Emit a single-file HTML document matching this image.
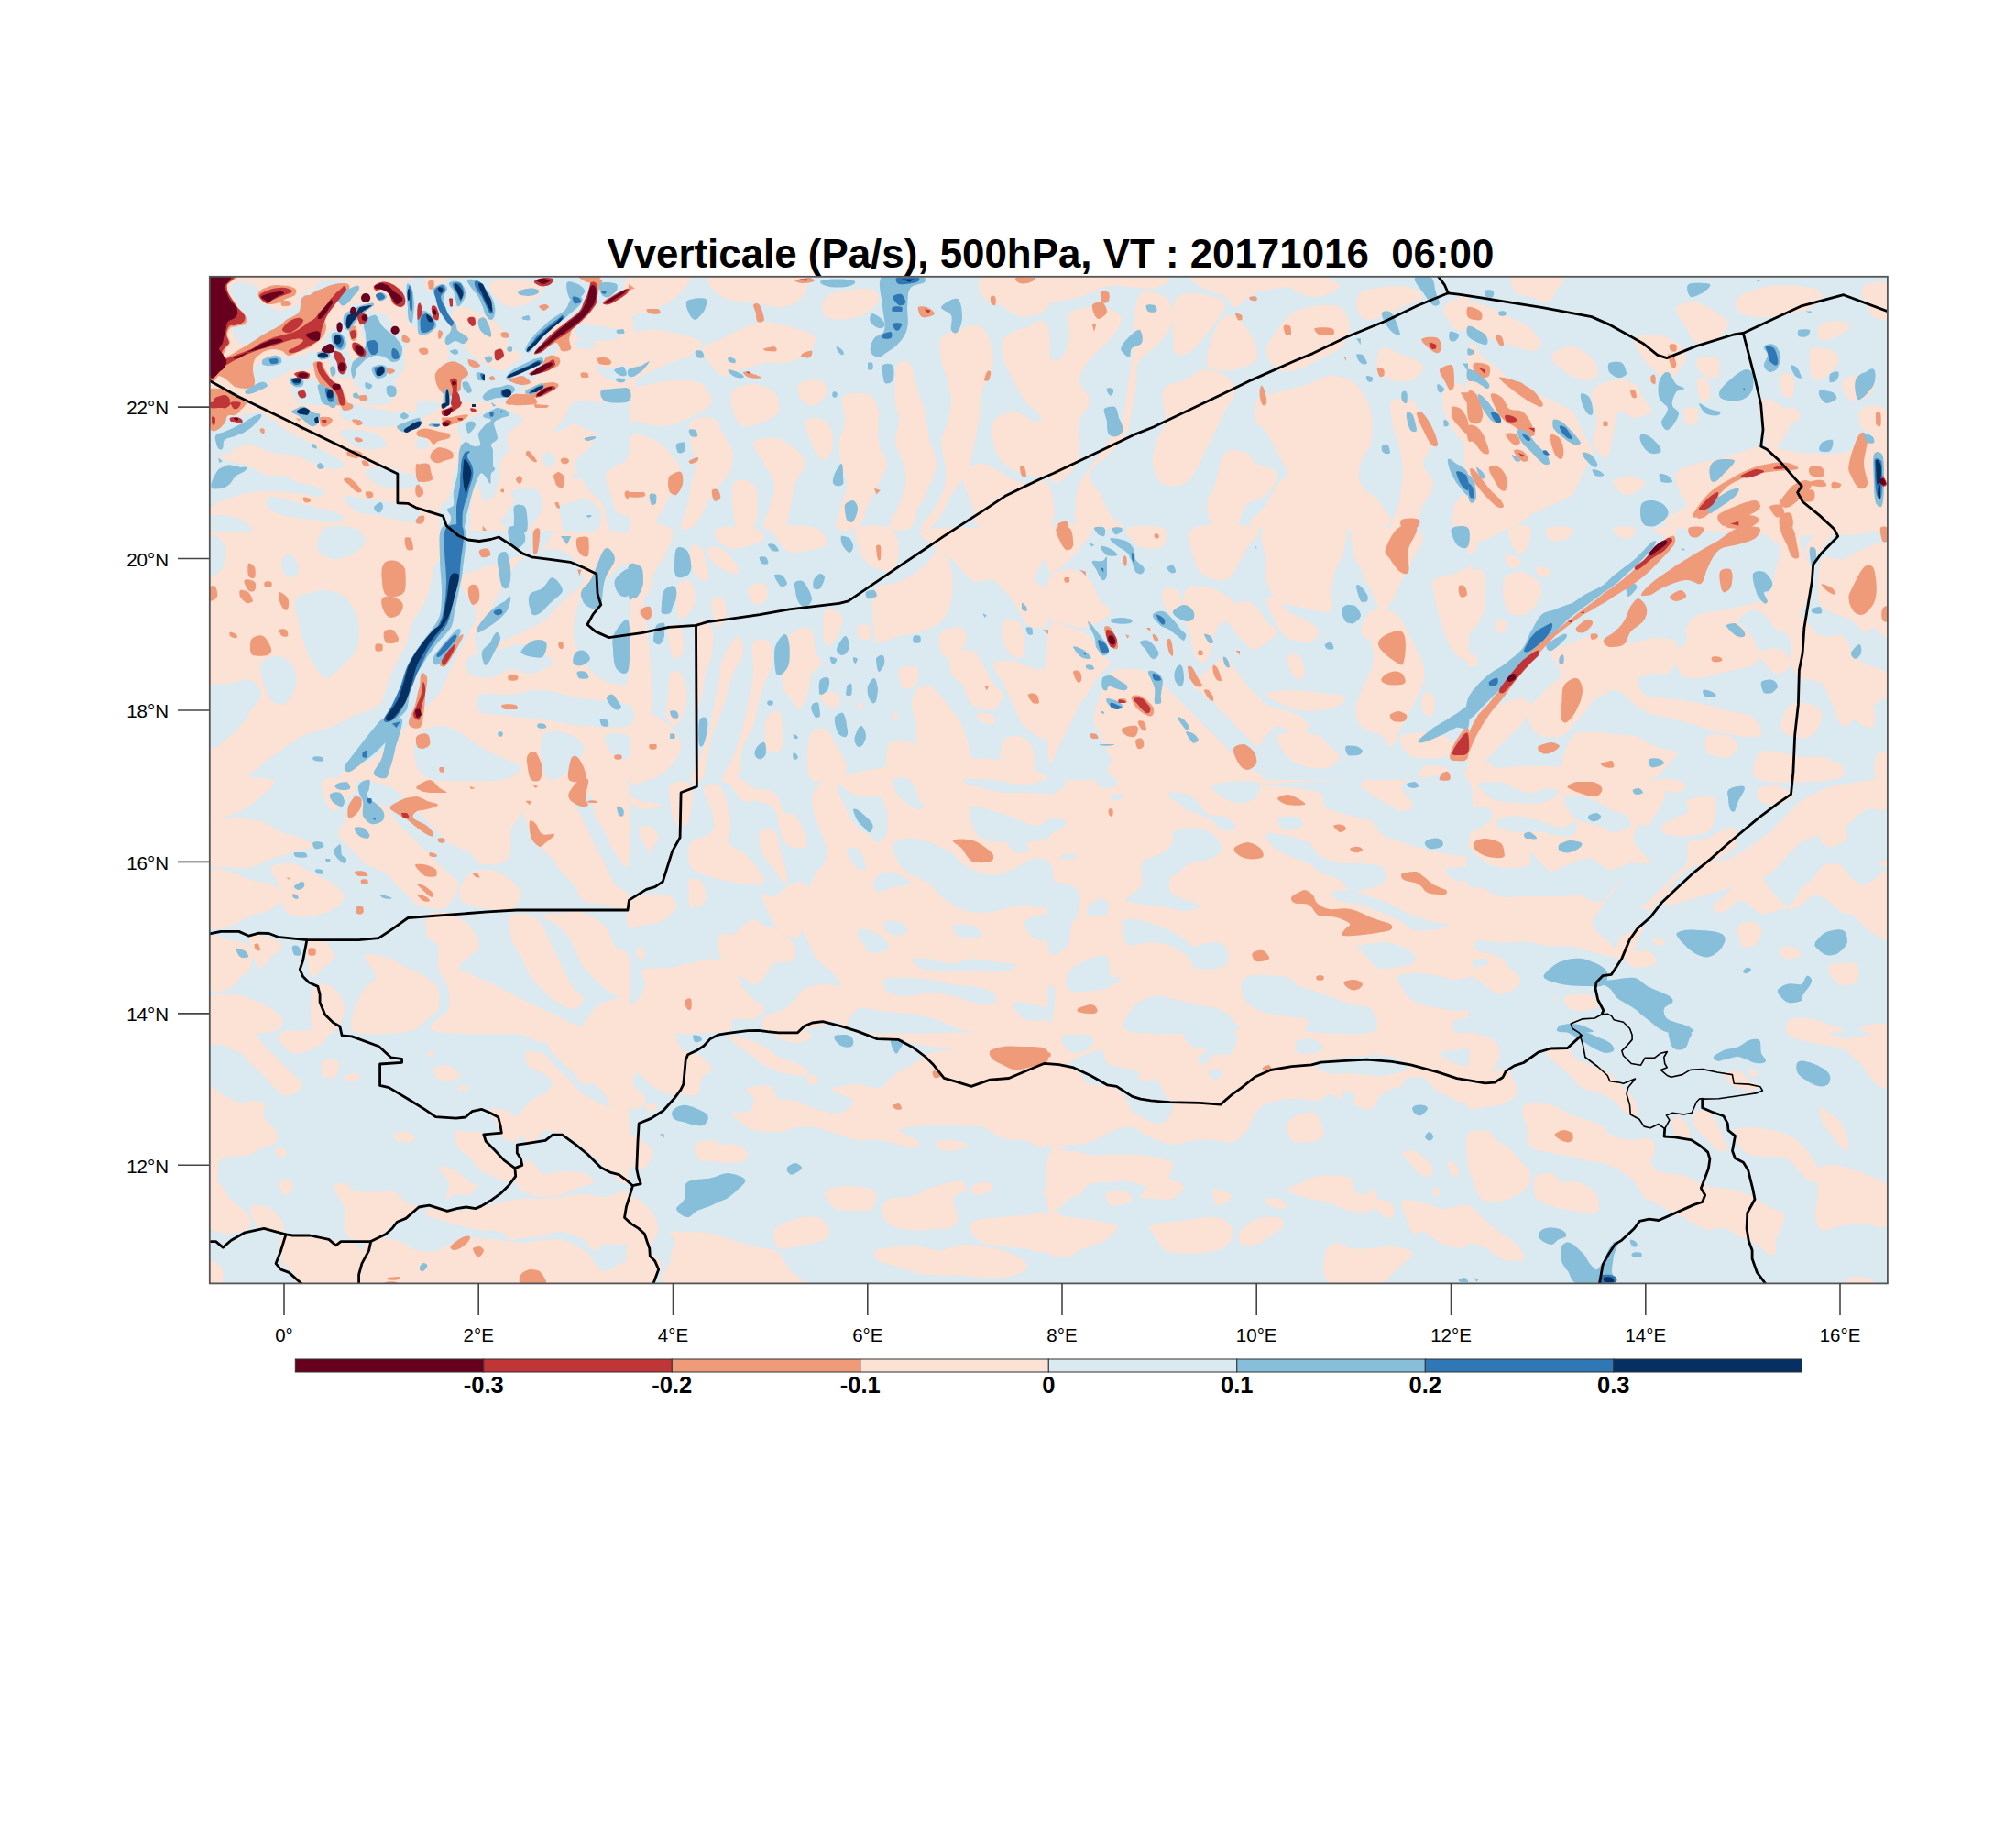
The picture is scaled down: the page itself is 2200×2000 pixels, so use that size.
<!DOCTYPE html>
<html><head><meta charset="utf-8"><style>
html,body{margin:0;padding:0;background:#fff;width:2200px;height:2000px;overflow:hidden}
svg{display:block}
</style></head><body>
<svg width="2200" height="2000" viewBox="0 0 2200 2000">
<rect width="2200" height="2000" fill="#fff"/>
<defs><clipPath id="mc"><rect x="228" y="302" width="1832" height="1098"/></clipPath></defs>
<g clip-path="url(#mc)">
<rect x="228" y="302" width="1832" height="1098" fill="#dbe9f1"/>
<path fill="#fbe2d4" d="M228,576C270,530 442,568 482,576C523,584 476,608 473,621C470,635 468,646 464,656C460,665 454,671 451,678C447,686 447,693 444,701C441,709 436,716 432,724C429,731 426,739 423,746C420,754 420,763 414,769C408,775 395,777 387,780C379,784 374,788 364,792C355,796 342,798 330,803C319,809 308,818 296,826C285,834 273,847 262,851C251,855 234,897 228,851C222,805 186,622 228,576Z"/>
<path fill="#fbe2d4" d="M501,633C501,625 514,625 523,621C533,618 546,614 557,610C569,606 582,604 592,599C601,593 598,580 614,576C630,572 674,530 686,576C698,622 736,805 686,851C636,897 433,855 387,851C341,847 402,834 410,826C417,818 425,811 432,803C440,796 448,788 455,780C463,773 472,765 478,758C484,750 486,743 489,735C493,727 497,720 501,712C504,705 509,697 512,690C515,682 521,676 519,667C517,657 500,640 501,633Z"/>
<path fill="#fbe2d4" d="M686,301C697,294 740,298 750,301C759,304 748,314 743,319C738,325 728,331 720,335C713,339 703,341 697,342C692,343 688,349 686,342C684,335 675,308 686,301Z"/>
<path fill="#fbe2d4" d="M777,301C790,297 851,298 868,301C885,304 881,314 879,319C877,325 866,333 856,335C847,337 834,332 822,330C811,329 796,329 788,324C781,319 764,305 777,301Z"/>
<path fill="#fbe2d4" d="M902,324C909,318 938,314 947,315C957,315 960,323 959,328C957,334 945,343 936,346C926,349 907,350 902,346C896,343 894,329 902,324Z"/>
<path fill="#fbe2d4" d="M686,369C690,361 699,361 709,360C718,359 733,362 743,365C752,367 764,370 766,374C767,377 760,384 754,387C749,391 739,393 731,396C724,399 716,403 709,406C701,408 690,416 686,410C682,404 682,378 686,369Z"/>
<path fill="#fbe2d4" d="M766,380C767,376 781,373 788,369C796,365 803,361 811,358C819,355 824,351 834,351C843,351 858,355 868,358C877,361 889,364 890,369C892,374 885,383 879,387C873,392 864,395 856,396C849,398 841,395 834,396C826,398 819,401 811,403C803,405 794,411 788,410C783,409 781,404 777,399C773,394 764,385 766,380Z"/>
<path fill="#fbe2d4" d="M686,428C690,422 699,421 709,419C718,417 733,415 743,415C752,415 760,415 766,419C771,423 777,432 777,437C777,442 771,445 766,449C760,452 750,457 743,460C735,463 728,465 720,465C713,465 703,461 697,460C692,459 688,463 686,458C684,452 682,435 686,428Z"/>
<path fill="#fbe2d4" d="M800,426C803,421 815,419 822,419C830,419 840,423 845,428C850,433 851,443 850,449C848,454 840,457 834,460C827,463 817,466 811,465C805,463 802,455 800,449C798,442 796,431 800,426Z"/>
<path fill="#fbe2d4" d="M872,419C876,415 890,413 895,415C900,416 903,424 902,428C901,433 895,440 890,442C886,443 878,441 875,437C872,434 869,423 872,419Z"/>
<path fill="#fbe2d4" d="M920,433C924,428 941,428 947,430C954,433 957,440 959,449C960,457 957,473 959,483C960,492 968,498 968,506C968,513 962,521 959,528C955,536 951,543 947,551C944,559 942,572 936,576C930,580 916,580 913,576C910,572 916,559 918,551C920,543 924,536 924,528C924,521 919,513 918,506C916,498 915,490 916,483C916,475 922,468 922,460C923,452 916,438 920,433Z"/>
<path fill="#fbe2d4" d="M979,399C982,392 989,393 993,396C996,400 997,410 1000,419C1002,428 1006,438 1009,449C1011,459 1013,473 1015,483C1018,492 1022,498 1022,506C1022,513 1018,521 1015,528C1012,536 1008,543 1004,551C1000,559 998,572 993,576C987,580 972,580 970,576C968,572 978,559 981,551C984,543 987,536 988,528C989,521 988,513 986,506C984,498 978,490 977,483C976,475 981,468 981,460C981,452 977,448 977,437C976,427 976,406 979,399Z"/>
<path fill="#fbe2d4" d="M1027,369C1031,364 1042,360 1050,358C1057,356 1067,352 1072,358C1078,363 1084,381 1084,392C1084,403 1075,415 1072,426C1070,437 1070,449 1068,460C1066,471 1063,485 1061,494C1059,504 1058,509 1054,517C1050,524 1043,532 1038,540C1034,547 1031,556 1027,562C1023,568 1019,574 1015,576C1012,578 1003,580 1004,576C1005,572 1018,559 1022,551C1027,543 1030,536 1031,528C1033,521 1032,513 1031,506C1031,498 1026,490 1027,483C1027,475 1032,468 1034,460C1035,452 1038,445 1038,437C1038,430 1035,422 1034,415C1032,407 1028,399 1027,392C1026,384 1023,375 1027,369Z"/>
<path fill="#fbe2d4" d="M1095,369C1099,364 1110,360 1118,358C1126,356 1140,341 1144,358C1148,375 1146,445 1144,460C1142,475 1136,452 1131,449C1127,445 1122,443 1118,437C1114,432 1110,422 1106,415C1102,407 1097,399 1095,392C1093,384 1091,375 1095,369Z"/>
<path fill="#fbe2d4" d="M1084,460C1087,454 1099,449 1106,449C1114,449 1123,458 1129,460C1135,462 1142,451 1144,460C1146,469 1148,507 1144,517C1140,526 1126,519 1118,517C1110,515 1101,511 1095,506C1089,500 1085,490 1084,483C1082,475 1080,466 1084,460Z"/>
<path fill="#fbe2d4" d="M1072,301C1080,297 1106,300 1118,301C1130,302 1140,300 1144,306C1148,311 1148,328 1144,335C1140,342 1126,346 1118,346C1110,346 1102,339 1095,335C1087,331 1076,329 1072,324C1068,318 1065,305 1072,301Z"/>
<path fill="#fbe2d4" d="M686,483C690,466 701,476 709,478C716,480 726,488 731,494C737,501 743,509 743,517C743,524 735,532 731,540C728,547 724,556 720,562C716,568 714,574 709,576C703,578 690,591 686,576C682,560 682,499 686,483Z"/>
<path fill="#fbe2d4" d="M754,460C758,455 771,454 777,456C783,457 784,465 788,471C792,478 798,487 800,494C801,502 799,509 795,517C791,524 782,532 777,540C772,547 769,556 766,562C762,568 758,574 754,576C750,578 744,580 743,576C742,572 748,559 750,551C752,543 753,536 754,528C756,521 759,513 759,506C759,498 755,490 754,483C753,475 750,465 754,460Z"/>
<path fill="#fbe2d4" d="M822,483C824,478 837,477 845,478C853,479 862,485 868,490C873,494 879,499 879,506C879,512 870,521 868,528C865,536 865,543 863,551C861,559 861,572 856,576C851,580 836,580 834,576C831,572 839,559 840,551C842,543 846,536 845,528C844,521 837,513 834,506C830,498 820,487 822,483Z"/>
<path fill="#fbe2d4" d="M879,460C881,454 897,456 902,460C907,464 909,476 909,483C909,490 905,499 902,501C899,503 894,501 890,494C887,487 877,466 879,460Z"/>
<path fill="#fbe2d4" d="M800,528C803,520 818,524 822,528C827,532 827,543 827,551C827,559 826,572 822,576C818,580 808,584 804,576C800,568 797,536 800,528Z"/>
<path fill="#fbe2d4" d="M1050,517C1051,509 1065,506 1072,506C1080,506 1087,513 1095,517C1102,521 1110,526 1118,528C1126,530 1140,520 1144,528C1148,536 1156,568 1144,576C1132,584 1086,580 1072,576C1058,572 1065,561 1061,551C1057,541 1048,524 1050,517Z"/>
<path fill="#fbe2d4" d="M1144,301C1165,296 1250,299 1269,301C1288,303 1267,313 1258,315C1248,316 1225,311 1212,312C1199,314 1189,321 1178,324C1167,326 1150,332 1144,328C1138,325 1123,306 1144,301Z"/>
<path fill="#fbe2d4" d="M1167,342C1172,336 1191,334 1201,335C1210,336 1222,341 1224,346C1225,352 1218,362 1212,369C1207,377 1195,384 1189,392C1184,399 1178,407 1178,415C1178,422 1189,430 1189,437C1189,445 1180,451 1178,460C1176,469 1180,485 1178,494C1176,504 1172,513 1167,517C1161,521 1148,536 1144,517C1140,498 1142,424 1144,403C1146,382 1154,398 1158,392C1161,386 1165,378 1167,369C1168,361 1161,348 1167,342Z"/>
<path fill="#fbe2d4" d="M1242,324C1248,312 1265,320 1271,324C1278,327 1281,339 1280,346C1280,354 1273,364 1269,369C1265,375 1262,376 1258,380C1253,385 1245,389 1242,396C1239,404 1241,417 1239,426C1238,435 1236,441 1235,449C1233,456 1234,464 1230,471C1227,479 1219,487 1212,494C1205,502 1191,509 1189,517C1188,524 1197,532 1201,540C1205,547 1208,556 1212,562C1216,568 1229,574 1224,576C1218,578 1186,580 1178,576C1170,572 1174,559 1174,551C1174,543 1174,538 1178,528C1183,519 1193,505 1201,494C1208,483 1219,471 1224,460C1228,449 1228,437 1230,426C1232,415 1233,409 1235,392C1237,375 1236,335 1242,324Z"/>
<path fill="#fbe2d4" d="M1285,324C1292,316 1317,322 1326,324C1334,326 1338,329 1337,335C1336,341 1327,350 1321,358C1316,365 1309,376 1303,380C1297,385 1289,389 1285,387C1281,385 1280,380 1280,369C1280,359 1277,331 1285,324Z"/>
<path fill="#fbe2d4" d="M1303,301C1316,299 1377,299 1394,301C1411,303 1409,309 1405,312C1402,315 1381,315 1371,319C1362,323 1354,334 1348,335C1343,336 1343,327 1337,324C1331,320 1320,318 1314,315C1309,311 1290,303 1303,301Z"/>
<path fill="#fbe2d4" d="M1330,351C1336,343 1342,343 1348,346C1355,349 1363,362 1367,369C1370,377 1374,386 1371,392C1368,398 1356,401 1348,403C1341,405 1331,405 1326,403C1320,401 1316,401 1317,392C1317,383 1325,359 1330,351Z"/>
<path fill="#fbe2d4" d="M1269,426C1272,418 1284,418 1292,415C1299,411 1307,404 1314,403C1322,402 1331,406 1337,410C1343,414 1348,420 1348,426C1348,432 1341,441 1337,449C1333,456 1329,464 1326,471C1322,479 1318,487 1314,494C1311,502 1307,511 1303,517C1299,522 1297,526 1292,528C1286,530 1275,532 1269,528C1263,524 1259,513 1258,506C1256,498 1260,490 1262,483C1264,475 1270,469 1271,460C1272,451 1266,434 1269,426Z"/>
<path fill="#fbe2d4" d="M1337,494C1343,488 1354,492 1360,494C1365,496 1366,502 1371,506C1377,509 1392,511 1394,517C1396,522 1388,534 1382,540C1377,545 1365,545 1360,551C1354,557 1354,572 1348,576C1343,580 1331,580 1326,576C1320,572 1317,559 1317,551C1317,543 1322,538 1326,528C1329,519 1331,500 1337,494Z"/>
<path fill="#fbe2d4" d="M1371,437C1375,432 1384,431 1394,428C1403,425 1419,422 1428,419C1437,416 1443,411 1451,410C1458,409 1468,412 1473,415C1479,417 1481,420 1485,426C1489,432 1494,439 1496,449C1498,458 1498,473 1496,483C1494,492 1487,498 1485,506C1483,513 1481,521 1485,528C1489,536 1504,543 1508,551C1511,559 1530,572 1508,576C1485,580 1392,580 1371,576C1350,572 1379,559 1382,551C1386,543 1390,534 1394,528C1398,523 1405,522 1405,517C1405,511 1398,502 1394,494C1390,487 1386,477 1382,471C1379,466 1373,466 1371,460C1369,454 1367,443 1371,437Z"/>
<path fill="#fbe2d4" d="M1405,346C1413,339 1419,337 1428,335C1437,333 1455,331 1462,335C1470,339 1473,350 1473,358C1473,365 1468,375 1462,380C1456,386 1447,388 1439,392C1432,396 1424,401 1417,403C1409,405 1400,407 1394,403C1388,399 1381,390 1382,380C1384,371 1398,354 1405,346Z"/>
<path fill="#fbe2d4" d="M1394,301C1398,298 1428,299 1439,301C1451,303 1462,309 1462,312C1462,316 1447,323 1439,324C1432,325 1424,323 1417,319C1409,315 1390,304 1394,301Z"/>
<path fill="#fbe2d4" d="M1485,319C1492,314 1519,312 1530,312C1542,313 1553,320 1553,324C1553,327 1538,331 1530,335C1523,339 1515,345 1508,346C1500,348 1489,351 1485,346C1481,342 1477,325 1485,319Z"/>
<path fill="#fbe2d4" d="M1508,380C1512,378 1523,384 1530,387C1538,390 1551,394 1553,399C1555,403 1547,412 1542,415C1536,417 1525,416 1519,415C1512,413 1505,409 1503,403C1501,398 1503,383 1508,380Z"/>
<path fill="#fbe2d4" d="M1519,437C1523,434 1536,434 1542,437C1547,441 1549,452 1553,460C1557,468 1564,475 1564,483C1564,490 1553,498 1553,506C1553,513 1564,521 1564,528C1564,536 1557,543 1553,551C1549,559 1547,572 1542,576C1536,580 1522,580 1519,576C1516,572 1524,559 1526,551C1528,543 1529,536 1530,528C1531,521 1531,513 1530,506C1529,498 1528,490 1526,483C1524,475 1520,468 1519,460C1518,452 1515,441 1519,437Z"/>
<path fill="#fbe2d4" d="M1576,426C1579,421 1589,417 1594,419C1598,421 1601,427 1602,437C1603,448 1604,477 1602,483C1600,488 1591,477 1587,471C1583,466 1578,456 1576,449C1574,441 1573,431 1576,426Z"/>
<path fill="#fbe2d4" d="M1576,335C1578,329 1598,320 1602,324C1606,327 1604,352 1602,358C1600,363 1591,362 1587,358C1583,354 1573,341 1576,335Z"/>
<path fill="#fbe2d4" d="M1587,551C1590,545 1600,535 1602,540C1604,544 1604,570 1602,576C1600,582 1590,580 1587,576C1584,572 1584,557 1587,551Z"/>
<path fill="#fbe2d4" d="M1652,301C1660,298 1697,298 1704,301C1712,304 1700,314 1697,319C1695,324 1693,330 1688,330C1684,331 1676,326 1670,324C1665,322 1657,323 1654,319C1651,315 1644,304 1652,301Z"/>
<path fill="#fbe2d4" d="M1602,330C1606,326 1617,332 1625,335C1632,338 1640,343 1647,346C1655,350 1665,353 1670,358C1676,363 1682,372 1682,376C1682,380 1676,383 1670,383C1665,383 1655,378 1647,376C1640,374 1632,371 1625,369C1617,367 1606,371 1602,365C1598,358 1598,335 1602,330Z"/>
<path fill="#fbe2d4" d="M1602,387C1605,357 1615,389 1620,392C1626,395 1632,399 1636,403C1641,407 1642,411 1647,415C1653,418 1663,422 1670,426C1678,430 1685,434 1693,437C1700,441 1710,443 1716,449C1721,454 1723,464 1727,471C1731,479 1738,487 1738,494C1738,502 1731,509 1727,517C1723,524 1721,534 1716,540C1710,545 1700,547 1693,551C1685,555 1678,558 1670,562C1663,566 1659,574 1647,576C1636,578 1610,607 1602,576C1594,544 1599,418 1602,387Z"/>
<path fill="#fbe2d4" d="M1693,387C1695,383 1708,377 1716,378C1723,379 1734,387 1738,392C1743,397 1745,406 1743,410C1741,414 1733,416 1727,415C1721,413 1710,408 1704,403C1699,399 1691,391 1693,387Z"/>
<path fill="#fbe2d4" d="M1738,426C1742,421 1753,416 1761,415C1769,413 1778,415 1784,419C1789,423 1792,432 1795,437C1798,442 1804,446 1802,449C1800,452 1790,456 1784,456C1778,456 1769,446 1766,449C1762,451 1763,464 1761,471C1759,479 1758,490 1756,494C1755,499 1753,501 1750,499C1747,497 1739,489 1738,483C1737,476 1743,467 1743,460C1743,453 1739,448 1738,442C1738,436 1735,431 1738,426Z"/>
<path fill="#fbe2d4" d="M1784,369C1786,365 1799,364 1806,365C1814,365 1824,370 1829,374C1835,377 1840,382 1840,387C1840,393 1834,404 1829,408C1825,412 1818,412 1813,410C1808,408 1803,402 1800,399C1796,395 1793,392 1791,387C1788,382 1781,373 1784,369Z"/>
<path fill="#fbe2d4" d="M1829,335C1831,331 1844,329 1852,330C1859,332 1869,338 1875,342C1880,346 1886,349 1886,353C1886,358 1880,366 1875,369C1869,373 1858,376 1852,374C1846,372 1844,364 1840,358C1837,351 1827,340 1829,335Z"/>
<path fill="#fbe2d4" d="M1897,324C1903,319 1920,314 1931,312C1943,311 1956,311 1966,312C1975,314 1986,315 1988,319C1990,323 1983,331 1977,335C1971,339 1964,340 1954,342C1945,344 1930,347 1920,346C1911,346 1901,343 1897,340C1894,336 1892,328 1897,324Z"/>
<path fill="#fbe2d4" d="M1988,353C1993,350 2006,350 2011,351C2016,352 2020,355 2018,358C2016,361 2005,367 2000,369C1994,371 1986,372 1984,369C1982,367 1984,356 1988,353Z"/>
<path fill="#fbe2d4" d="M2034,312C2038,309 2056,304 2060,310C2064,316 2062,340 2060,346C2058,352 2049,349 2045,346C2041,343 2036,334 2034,328C2032,323 2029,315 2034,312Z"/>
<path fill="#fbe2d4" d="M1977,380C1981,378 1995,380 2000,383C2005,385 2008,391 2006,396C2004,402 1993,412 1988,415C1983,417 1979,413 1977,410C1975,407 1975,401 1975,396C1975,391 1973,383 1977,380Z"/>
<path fill="#fbe2d4" d="M1943,410C1945,407 1954,406 1956,410C1959,414 1958,429 1956,433C1954,436 1947,434 1945,430C1943,427 1941,413 1943,410Z"/>
<path fill="#fbe2d4" d="M1920,437C1923,432 1937,438 1943,442C1948,446 1954,453 1954,460C1954,467 1947,477 1943,483C1939,488 1934,496 1931,494C1928,492 1926,481 1925,471C1923,462 1917,442 1920,437Z"/>
<path fill="#fbe2d4" d="M1852,392C1855,389 1871,389 1875,392C1878,395 1877,407 1875,410C1872,413 1862,413 1859,410C1855,407 1849,395 1852,392Z"/>
<path fill="#fbe2d4" d="M1852,415C1853,411 1861,412 1863,415C1866,418 1867,429 1866,433C1864,437 1859,440 1856,437C1854,434 1851,418 1852,415Z"/>
<path fill="#fbe2d4" d="M1838,446C1840,444 1850,444 1852,446C1854,449 1854,457 1852,460C1850,463 1843,465 1840,462C1838,460 1836,449 1838,446Z"/>
<path fill="#fbe2d4" d="M1761,524C1764,521 1778,521 1784,521C1789,522 1796,525 1795,528C1794,531 1784,538 1779,540C1774,541 1769,538 1766,535C1763,532 1758,526 1761,524Z"/>
<path fill="#fbe2d4" d="M1829,517C1832,511 1844,508 1852,506C1859,503 1867,503 1875,501C1882,499 1890,496 1897,494C1905,492 1913,488 1920,487C1928,487 1935,488 1943,490C1950,491 1954,493 1966,494C1977,495 2000,496 2011,494C2022,492 2026,486 2034,483C2042,479 2056,456 2060,471C2064,487 2098,558 2060,576C2022,593 1866,580 1829,576C1793,572 1840,557 1840,551C1841,545 1836,545 1834,540C1832,534 1826,522 1829,517Z"/>
<path fill="#fbe2d4" d="M2011,415C2014,411 2028,408 2034,410C2039,412 2046,419 2045,424C2044,428 2034,436 2029,437C2024,439 2019,437 2016,433C2012,429 2008,418 2011,415Z"/>
<path fill="#fbe2d4" d="M2029,449C2031,444 2040,442 2045,442C2050,442 2058,444 2060,449C2062,454 2064,468 2060,471C2056,475 2039,473 2034,469C2029,465 2027,453 2029,449Z"/>
<path fill="#fbe2d4" d="M1947,446C1949,444 1958,444 1961,446C1964,448 1965,456 1963,458C1962,460 1955,462 1952,460C1949,458 1946,449 1947,446Z"/>
<path fill="#fbe2d4" d="M686,576C694,562 724,572 731,576C739,580 732,591 729,599C727,606 719,614 716,621C712,629 711,639 709,644C706,650 703,653 700,656C696,658 688,671 686,658C684,645 678,590 686,576Z"/>
<path fill="#fbe2d4" d="M754,596C756,594 762,595 766,599C769,603 771,616 772,621C773,627 774,631 772,633C770,634 764,634 761,630C758,627 755,620 754,615C753,609 752,599 754,596Z"/>
<path fill="#fbe2d4" d="M772,599C774,596 783,596 788,599C794,602 801,612 804,617C807,621 807,625 804,626C801,627 793,624 788,621C784,619 780,616 777,612C774,609 770,601 772,599Z"/>
<path fill="#fbe2d4" d="M784,576C790,574 814,574 822,576C831,578 834,584 834,587C834,590 828,592 822,594C817,596 806,599 800,599C793,598 786,593 784,590C781,586 777,578 784,576Z"/>
<path fill="#fbe2d4" d="M845,576C851,572 881,573 890,576C900,579 902,590 902,594C902,598 896,597 890,599C885,600 873,603 868,603C862,603 860,603 856,599C853,594 839,580 845,576Z"/>
<path fill="#fbe2d4" d="M936,576C942,573 962,572 970,576C978,580 981,591 981,599C982,606 978,618 974,621C971,625 964,623 959,621C953,620 946,615 943,610C939,606 937,600 936,594C935,589 930,579 936,576Z"/>
<path fill="#fbe2d4" d="M818,640C820,637 830,635 834,637C837,639 839,647 838,651C837,655 830,660 827,660C824,660 819,657 818,653C816,650 815,642 818,640Z"/>
<path fill="#fbe2d4" d="M738,640C741,633 751,632 754,635C758,638 759,649 759,656C758,662 753,668 750,671C747,674 742,679 740,674C739,668 736,646 738,640Z"/>
<path fill="#fbe2d4" d="M686,703C688,691 697,693 700,699C703,704 704,725 704,735C704,745 702,752 700,758C697,763 693,767 690,769C688,771 687,782 686,771C685,760 684,715 686,703Z"/>
<path fill="#fbe2d4" d="M729,685C731,680 740,680 743,685C745,690 747,707 745,712C744,718 736,721 734,717C731,712 728,690 729,685Z"/>
<path fill="#fbe2d4" d="M761,683C764,669 774,680 777,685C780,690 778,704 777,712C776,721 772,727 770,735C768,743 767,752 766,758C764,763 762,782 761,769C760,757 758,697 761,683Z"/>
<path fill="#fbe2d4" d="M777,656C778,652 786,648 788,651C791,654 794,666 793,671C792,677 786,685 784,685C781,685 780,679 779,674C778,669 775,659 777,656Z"/>
<path fill="#fbe2d4" d="M788,721C792,713 800,696 804,694C808,693 812,705 811,712C810,719 803,727 800,735C797,743 795,750 793,758C791,765 789,773 786,780C783,788 779,796 777,803C775,811 774,818 772,826C770,834 769,847 766,851C762,855 755,855 754,851C754,847 760,834 763,826C766,818 770,811 772,803C775,796 775,790 777,780C779,771 782,756 784,746C786,737 785,730 788,721Z"/>
<path fill="#fbe2d4" d="M822,701C825,695 837,697 840,701C844,705 844,716 843,724C842,731 836,739 834,746C831,754 829,762 827,769C825,777 825,784 822,792C820,799 814,805 811,814C808,824 808,845 804,851C800,857 789,855 788,851C787,847 796,836 800,826C803,816 808,803 811,792C814,780 816,767 818,758C820,748 822,744 822,735C823,726 819,707 822,701Z"/>
<path fill="#fbe2d4" d="M856,701C860,691 870,687 875,685C880,683 883,685 886,690C889,694 889,707 890,712C892,718 898,720 897,724C897,727 889,729 886,735C883,741 884,751 881,758C879,764 875,773 872,774C869,774 866,767 863,762C860,758 855,757 854,746C853,736 853,711 856,701Z"/>
<path fill="#fbe2d4" d="M731,735C734,731 740,731 743,735C746,739 749,750 750,758C750,765 747,775 745,780C743,786 739,792 736,792C733,792 728,786 727,780C726,775 728,765 729,758C730,750 729,739 731,735Z"/>
<path fill="#fbe2d4" d="M709,780C716,780 726,786 731,792C737,797 743,807 743,814C743,822 737,831 731,837C726,843 716,849 709,851C701,853 690,861 686,851C682,841 682,804 686,792C690,780 701,780 709,780Z"/>
<path fill="#fbe2d4" d="M836,785C838,779 847,774 850,776C853,777 853,788 854,794C855,801 856,810 854,814C853,819 848,821 845,821C842,821 837,821 836,814C834,808 834,791 836,785Z"/>
<path fill="#fbe2d4" d="M886,799C889,794 897,794 902,796C906,799 909,808 913,814C917,821 924,831 924,837C924,843 920,849 913,851C907,853 891,855 886,851C881,847 881,835 881,826C881,817 882,804 886,799Z"/>
<path fill="#fbe2d4" d="M900,667C902,661 910,665 913,667C917,669 921,673 920,678C919,684 912,697 909,701C905,705 901,707 900,701C898,695 897,673 900,667Z"/>
<path fill="#fbe2d4" d="M936,683C938,681 947,681 950,683C952,685 951,694 950,696C948,699 940,699 938,696C936,694 934,685 936,683Z"/>
<path fill="#fbe2d4" d="M954,644C959,635 973,639 981,635C990,631 998,626 1004,621C1010,617 1012,614 1015,610C1019,606 1023,597 1027,599C1031,601 1036,612 1038,621C1040,631 1040,646 1038,656C1036,665 1032,673 1027,678C1021,684 1012,687 1004,690C997,692 989,692 981,694C974,696 963,702 959,701C954,700 955,699 954,690C953,680 950,653 954,644Z"/>
<path fill="#fbe2d4" d="M1004,583C1002,577 1015,577 1027,576C1038,575 1057,576 1072,576C1087,576 1106,576 1118,576C1130,576 1140,572 1144,576C1148,580 1146,589 1144,599C1142,608 1129,625 1129,633C1129,640 1142,637 1144,644C1146,652 1146,671 1144,678C1142,685 1133,685 1129,685C1125,685 1121,683 1118,678C1114,673 1110,661 1106,656C1102,650 1099,648 1095,644C1091,640 1089,635 1084,633C1078,631 1068,637 1061,633C1053,629 1048,618 1038,610C1029,602 1006,588 1004,583Z"/>
<path fill="#fbe2d4" d="M1027,690C1031,685 1045,683 1050,685C1054,687 1056,696 1054,701C1052,706 1045,715 1040,717C1036,719 1029,717 1027,712C1025,708 1023,694 1027,690Z"/>
<path fill="#fbe2d4" d="M1038,712C1042,708 1055,708 1061,710C1067,712 1068,718 1072,724C1076,730 1080,741 1084,746C1087,752 1095,753 1095,758C1095,762 1089,772 1084,774C1078,776 1067,774 1061,769C1055,765 1053,752 1050,746C1046,741 1040,741 1038,735C1036,729 1034,716 1038,712Z"/>
<path fill="#fbe2d4" d="M1084,724C1086,720 1099,720 1106,721C1114,723 1123,728 1129,730C1135,733 1142,723 1144,735C1146,747 1148,794 1144,803C1140,813 1124,797 1118,792C1111,786 1110,777 1106,769C1102,762 1099,754 1095,746C1091,739 1082,728 1084,724Z"/>
<path fill="#fbe2d4" d="M1095,678C1098,675 1109,675 1113,680C1117,686 1119,706 1118,712C1117,718 1110,719 1106,717C1102,715 1097,707 1095,701C1093,695 1092,682 1095,678Z"/>
<path fill="#fbe2d4" d="M1000,753C1003,750 1009,745 1015,749C1022,752 1032,767 1038,774C1044,781 1046,783 1050,792C1053,800 1059,816 1059,826C1059,836 1059,847 1050,851C1040,855 1012,855 1004,851C996,847 1000,836 1000,826C999,816 1000,801 1000,792C999,782 995,776 995,769C995,763 996,757 1000,753Z"/>
<path fill="#fbe2d4" d="M981,730C984,727 996,726 1000,728C1003,731 1002,743 1000,746C997,750 989,754 986,751C983,748 979,734 981,730Z"/>
<path fill="#fbe2d4" d="M970,812C974,805 987,808 993,810C998,812 1004,819 1004,826C1004,833 998,847 993,851C987,855 974,857 970,851C966,844 966,819 970,812Z"/>
<path fill="#fbe2d4" d="M1095,808C1099,800 1117,803 1122,808C1128,813 1130,830 1129,837C1128,844 1123,849 1118,851C1112,853 1099,858 1095,851C1091,844 1090,815 1095,808Z"/>
<path fill="#fbe2d4" d="M1068,778C1070,777 1081,779 1084,780C1086,782 1086,788 1084,790C1081,791 1073,789 1070,787C1067,785 1065,779 1068,778Z"/>
<path fill="#fbe2d4" d="M895,758C897,755 910,754 913,756C917,757 917,766 916,769C914,772 908,773 904,771C901,770 893,760 895,758Z"/>
<path fill="#fbe2d4" d="M936,767C937,766 940,766 940,767C941,768 941,773 940,774C940,775 937,775 936,774C935,773 935,768 936,767Z"/>
<path fill="#fbe2d4" d="M974,776C975,775 978,777 979,778C980,780 980,784 979,785C978,786 975,787 974,785C974,783 974,777 974,776Z"/>
<path fill="#fbe2d4" d="M1144,576C1152,568 1184,572 1189,576C1195,580 1184,591 1178,599C1172,606 1161,618 1155,621C1150,625 1146,629 1144,621C1142,614 1136,584 1144,576Z"/>
<path fill="#fbe2d4" d="M1144,633C1148,624 1159,621 1167,621C1174,621 1184,627 1189,633C1195,638 1197,650 1201,656C1205,661 1212,663 1212,667C1212,671 1206,675 1201,678C1195,681 1186,685 1178,685C1171,685 1161,680 1155,678C1150,676 1146,679 1144,671C1142,664 1140,641 1144,633Z"/>
<path fill="#fbe2d4" d="M1144,690C1148,666 1159,684 1167,685C1174,686 1184,690 1189,694C1195,699 1197,707 1201,712C1205,717 1212,720 1212,724C1212,727 1205,730 1201,735C1197,740 1193,748 1189,753C1186,759 1182,763 1178,769C1174,776 1170,784 1167,792C1163,799 1159,809 1155,814C1152,820 1146,847 1144,826C1142,805 1140,713 1144,690Z"/>
<path fill="#fbe2d4" d="M1230,576C1235,573 1262,573 1269,576C1276,579 1273,590 1271,594C1269,598 1263,599 1258,599C1252,599 1244,598 1239,594C1235,590 1225,579 1230,576Z"/>
<path fill="#fbe2d4" d="M1303,576C1314,570 1362,572 1371,576C1381,580 1364,591 1360,599C1356,606 1352,616 1348,621C1345,627 1343,632 1337,633C1331,634 1320,632 1314,628C1309,625 1305,619 1303,610C1301,601 1292,582 1303,576Z"/>
<path fill="#fbe2d4" d="M1382,576C1396,570 1448,572 1462,576C1476,580 1467,591 1467,599C1466,606 1460,614 1458,621C1455,629 1454,637 1453,644C1452,652 1457,664 1451,667C1445,670 1426,664 1417,662C1407,660 1400,660 1394,656C1388,651 1384,640 1382,633C1381,625 1382,620 1382,610C1382,601 1369,582 1382,576Z"/>
<path fill="#fbe2d4" d="M1294,644C1298,639 1307,639 1314,640C1322,640 1331,646 1337,649C1343,652 1345,657 1348,658C1352,659 1356,655 1360,656C1364,656 1367,659 1371,662C1375,666 1379,674 1382,678C1386,683 1394,686 1394,690C1394,693 1387,698 1382,701C1378,704 1372,710 1367,708C1361,706 1353,695 1348,690C1344,685 1341,678 1337,678C1333,678 1328,684 1326,690C1323,695 1323,707 1321,712C1319,718 1315,724 1312,724C1309,724 1305,718 1303,712C1301,707 1300,696 1298,690C1297,683 1292,679 1292,671C1291,664 1290,650 1294,644Z"/>
<path fill="#fbe2d4" d="M1382,656C1382,651 1390,651 1394,653C1398,655 1400,663 1405,667C1411,671 1422,674 1428,678C1434,682 1439,686 1439,690C1439,693 1434,700 1428,701C1422,702 1411,699 1405,696C1400,693 1398,690 1394,683C1390,676 1382,660 1382,656Z"/>
<path fill="#fbe2d4" d="M1326,724C1331,719 1333,716 1337,717C1341,718 1345,726 1348,730C1352,735 1356,742 1360,746C1364,751 1367,754 1371,758C1375,761 1377,766 1382,769C1388,772 1400,774 1405,776C1411,778 1413,778 1417,780C1420,783 1428,788 1428,792C1428,796 1422,803 1417,803C1411,803 1400,792 1394,792C1388,792 1386,799 1382,803C1379,807 1375,814 1371,814C1367,814 1364,807 1360,803C1356,799 1352,796 1348,792C1345,788 1341,784 1337,780C1333,777 1329,773 1326,769C1322,765 1318,761 1314,758C1311,754 1301,752 1303,746C1305,741 1320,729 1326,724Z"/>
<path fill="#fbe2d4" d="M1212,735C1219,727 1227,730 1235,730C1242,730 1252,732 1258,735C1263,738 1265,743 1269,746C1273,750 1277,754 1280,758C1284,761 1288,765 1292,769C1295,773 1299,777 1303,780C1307,784 1311,788 1314,792C1318,796 1322,799 1326,803C1329,807 1333,811 1337,814C1341,818 1345,822 1348,826C1352,830 1356,833 1360,837C1364,841 1394,849 1371,851C1348,853 1250,855 1224,851C1197,847 1216,834 1212,826C1208,818 1204,811 1201,803C1198,796 1192,792 1194,780C1196,769 1205,743 1212,735Z"/>
<path fill="#fbe2d4" d="M1269,644C1271,641 1282,641 1285,644C1288,647 1290,658 1289,662C1289,667 1283,671 1280,671C1277,671 1273,667 1271,662C1269,658 1267,647 1269,644Z"/>
<path fill="#fbe2d4" d="M1394,803C1396,799 1409,799 1417,799C1424,799 1434,801 1439,803C1445,806 1447,811 1451,814C1454,818 1462,822 1462,826C1462,830 1456,835 1451,837C1445,839 1436,839 1428,837C1420,835 1411,832 1405,826C1400,820 1392,808 1394,803Z"/>
<path fill="#fbe2d4" d="M1405,717C1406,714 1414,712 1417,715C1420,717 1423,726 1423,730C1424,735 1421,741 1419,742C1417,743 1412,739 1410,735C1408,731 1404,720 1405,717Z"/>
<path fill="#fbe2d4" d="M1382,758C1382,755 1396,754 1405,753C1415,753 1429,754 1439,756C1450,757 1464,757 1467,760C1470,763 1464,769 1458,771C1451,774 1437,776 1428,776C1419,776 1413,774 1405,771C1398,768 1382,761 1382,758Z"/>
<path fill="#fbe2d4" d="M1478,576C1485,572 1508,576 1519,576C1530,576 1536,574 1542,576C1547,578 1553,582 1553,587C1553,593 1545,603 1542,610C1538,618 1534,625 1530,633C1526,640 1523,650 1519,656C1515,661 1511,669 1508,667C1504,665 1500,652 1496,644C1492,637 1488,629 1485,621C1481,614 1477,606 1476,599C1475,591 1471,580 1478,576Z"/>
<path fill="#fbe2d4" d="M1496,667C1502,663 1513,665 1519,667C1525,669 1526,673 1530,678C1534,684 1538,693 1542,701C1545,709 1551,716 1553,724C1555,731 1555,739 1553,746C1551,754 1545,762 1542,769C1538,777 1534,784 1530,792C1526,799 1523,813 1519,814C1515,816 1513,807 1508,803C1502,799 1489,797 1485,792C1480,786 1479,777 1480,769C1481,762 1486,754 1489,746C1492,739 1497,731 1498,724C1500,716 1498,707 1496,701C1494,695 1485,695 1485,690C1485,684 1490,671 1496,667Z"/>
<path fill="#fbe2d4" d="M1530,803C1534,801 1545,799 1553,799C1560,799 1570,801 1576,803C1581,806 1587,811 1587,814C1587,818 1583,824 1576,826C1568,828 1549,828 1542,826C1534,824 1532,818 1530,814C1528,811 1526,806 1530,803Z"/>
<path fill="#fbe2d4" d="M1564,633C1568,630 1581,627 1587,626C1593,625 1600,612 1602,626C1604,640 1604,698 1602,712C1600,727 1591,716 1587,712C1583,709 1579,697 1576,690C1573,682 1571,674 1569,667C1567,659 1565,650 1564,644C1564,639 1561,636 1564,633Z"/>
<path fill="#fbe2d4" d="M1553,758C1555,755 1562,754 1564,758C1566,762 1566,777 1564,780C1562,784 1555,780 1553,776C1551,772 1551,761 1553,758Z"/>
<path fill="#fbe2d4" d="M1553,837C1557,835 1570,835 1576,837C1581,840 1591,849 1587,851C1583,853 1559,853 1553,851C1547,849 1549,840 1553,837Z"/>
<path fill="#fbe2d4" d="M1602,576C1604,571 1612,572 1613,576C1615,580 1613,594 1611,599C1609,603 1604,607 1602,603C1600,600 1600,581 1602,576Z"/>
<path fill="#fbe2d4" d="M1647,576C1651,573 1667,572 1670,576C1673,580 1668,594 1666,599C1663,603 1659,604 1656,603C1654,603 1651,599 1650,594C1648,590 1644,579 1647,576Z"/>
<path fill="#fbe2d4" d="M1643,606C1644,604 1654,606 1656,608C1659,610 1660,615 1659,617C1657,619 1650,621 1647,619C1645,617 1641,607 1643,606Z"/>
<path fill="#fbe2d4" d="M1677,619C1679,618 1686,618 1688,619C1691,621 1692,627 1691,628C1689,630 1681,630 1679,628C1677,627 1675,621 1677,619Z"/>
<path fill="#fbe2d4" d="M1641,633C1643,626 1653,624 1659,624C1665,624 1673,629 1677,633C1681,637 1683,643 1682,649C1680,654 1675,663 1670,667C1666,671 1659,672 1654,671C1650,671 1645,669 1643,662C1641,656 1638,639 1641,633Z"/>
<path fill="#fbe2d4" d="M1609,621C1612,622 1618,619 1620,626C1622,633 1622,653 1620,662C1619,672 1614,679 1611,683C1608,687 1604,695 1602,685C1600,675 1601,632 1602,621C1603,611 1606,621 1609,621Z"/>
<path fill="#fbe2d4" d="M1688,576C1692,574 1712,574 1716,576C1719,578 1715,585 1711,587C1707,590 1697,592 1693,590C1689,588 1685,578 1688,576Z"/>
<path fill="#fbe2d4" d="M1632,676C1633,674 1641,676 1643,678C1645,680 1644,685 1643,687C1641,689 1636,691 1634,690C1632,688 1630,678 1632,676Z"/>
<path fill="#fbe2d4" d="M1602,712C1604,711 1610,715 1611,717C1613,719 1613,724 1611,726C1610,727 1604,728 1602,726C1600,724 1600,714 1602,712Z"/>
<path fill="#fbe2d4" d="M1875,576C1869,576 1911,574 1920,576C1930,578 1928,584 1931,587C1935,591 1942,593 1943,599C1944,604 1940,614 1938,621C1936,629 1934,639 1931,644C1928,650 1926,652 1920,656C1914,659 1905,660 1897,662C1890,664 1882,665 1875,667C1867,668 1858,668 1852,671C1846,674 1842,680 1840,685C1839,690 1842,696 1840,701C1839,706 1830,707 1829,712C1828,718 1830,730 1834,735C1837,740 1845,740 1852,740C1859,740 1867,737 1875,735C1882,733 1890,732 1897,730C1904,729 1912,727 1916,724C1919,721 1921,718 1920,712C1919,707 1912,695 1909,690C1905,684 1897,682 1897,678C1897,674 1905,669 1909,667C1912,665 1916,665 1920,667C1924,669 1928,674 1931,678C1935,682 1939,690 1943,690C1947,690 1950,682 1954,678C1958,674 1962,673 1966,667C1969,661 1975,652 1977,644C1979,637 1979,629 1977,621C1975,614 1969,606 1966,599C1962,591 1969,580 1954,576C1939,572 1880,576 1875,576Z"/>
<path fill="#fbe2d4" d="M1920,712C1922,709 1937,706 1943,708C1948,710 1954,719 1954,724C1954,728 1947,734 1943,735C1939,736 1935,734 1931,730C1928,727 1918,716 1920,712Z"/>
<path fill="#fbe2d4" d="M1761,576C1764,574 1781,574 1784,576C1787,578 1782,586 1779,587C1776,589 1769,587 1766,585C1763,583 1758,578 1761,576Z"/>
<path fill="#fbe2d4" d="M1806,576C1810,575 1826,574 1829,576C1832,578 1828,586 1825,587C1822,589 1814,585 1811,583C1808,581 1803,577 1806,576Z"/>
<path fill="#fbe2d4" d="M1988,576C1994,572 2002,572 2002,576C2002,580 1992,593 1988,599C1984,604 1980,610 1977,610C1974,610 1968,604 1970,599C1972,593 1983,580 1988,576Z"/>
<path fill="#fbe2d4" d="M1988,610C1993,604 2003,612 2011,610C2018,608 2026,601 2034,599C2042,597 2056,584 2060,599C2064,614 2062,675 2060,690C2058,704 2049,685 2045,685C2041,685 2037,691 2034,690C2030,688 2027,681 2022,678C2018,675 2012,674 2006,671C2001,669 1992,667 1988,662C1984,658 1984,653 1984,644C1984,636 1984,616 1988,610Z"/>
<path fill="#fbe2d4" d="M1943,678C1945,673 1960,670 1966,671C1971,673 1973,681 1977,685C1981,689 1983,693 1988,694C1994,696 2005,691 2011,694C2017,697 2018,707 2022,712C2026,717 2027,720 2034,724C2040,727 2056,729 2060,735C2064,741 2062,752 2060,758C2058,763 2050,765 2045,769C2040,773 2035,777 2029,780C2023,784 2016,794 2011,792C2006,790 2003,777 2000,769C1996,762 1994,751 1988,746C1983,741 1971,743 1966,740C1960,736 1956,730 1954,724C1952,717 1956,709 1954,701C1952,693 1941,683 1943,678Z"/>
<path fill="#fbe2d4" d="M2022,780C2022,777 2030,771 2034,769C2037,768 2043,768 2045,771C2047,775 2047,788 2045,792C2043,795 2037,794 2034,792C2030,790 2022,784 2022,780Z"/>
<path fill="#fbe2d4" d="M1693,712C1695,707 1708,704 1716,701C1723,698 1731,694 1738,694C1746,694 1753,702 1761,703C1769,704 1776,702 1784,701C1791,700 1799,696 1806,696C1814,696 1825,696 1829,701C1833,706 1831,718 1829,724C1827,729 1822,733 1818,735C1814,737 1811,734 1806,735C1802,736 1790,736 1788,740C1786,743 1790,754 1795,758C1800,761 1810,761 1818,762C1825,763 1833,763 1840,765C1848,766 1856,767 1863,769C1871,771 1878,774 1886,776C1894,778 1903,778 1909,780C1914,783 1918,788 1920,792C1922,796 1924,801 1920,803C1916,805 1905,804 1897,803C1890,802 1882,800 1875,799C1867,797 1859,794 1852,792C1844,790 1837,787 1829,785C1822,783 1812,782 1806,780C1801,779 1799,778 1795,776C1791,774 1787,772 1784,769C1780,766 1776,760 1772,758C1769,755 1765,753 1761,753C1757,753 1753,756 1750,758C1746,760 1742,761 1738,765C1735,768 1731,776 1727,780C1723,785 1719,788 1716,792C1712,796 1710,801 1704,803C1699,805 1687,805 1682,803C1676,801 1673,796 1670,792C1668,787 1664,782 1666,776C1667,770 1677,763 1682,758C1686,753 1689,750 1693,746C1697,743 1704,741 1704,735C1704,729 1691,718 1693,712Z"/>
<path fill="#fbe2d4" d="M1602,803C1604,796 1610,796 1613,792C1617,788 1621,784 1625,780C1628,777 1630,772 1636,769C1642,766 1653,762 1659,762C1664,762 1670,764 1670,769C1670,774 1663,786 1659,792C1655,797 1651,799 1647,803C1644,807 1640,811 1636,814C1632,818 1628,822 1625,826C1621,830 1617,835 1613,837C1610,839 1604,843 1602,837C1600,832 1600,811 1602,803Z"/>
<path fill="#fbe2d4" d="M1716,803C1721,797 1731,799 1738,799C1746,798 1753,800 1761,801C1769,802 1776,801 1784,803C1791,805 1799,811 1806,814C1814,818 1827,818 1829,821C1831,825 1823,832 1818,837C1812,842 1812,849 1795,851C1778,853 1731,853 1716,851C1700,849 1704,845 1704,837C1704,829 1710,810 1716,803Z"/>
<path fill="#fbe2d4" d="M1863,803C1867,800 1880,801 1886,803C1892,805 1897,811 1897,814C1897,818 1892,825 1886,826C1880,827 1867,825 1863,821C1860,818 1860,806 1863,803Z"/>
<path fill="#fbe2d4" d="M1920,821C1924,816 1935,821 1943,821C1950,822 1958,825 1966,826C1973,827 1981,824 1988,826C1996,828 2009,833 2011,837C2013,841 2015,849 2000,851C1984,853 1933,856 1920,851C1907,846 1916,826 1920,821Z"/>
<path fill="#fbe2d4" d="M1954,769C1960,765 1971,767 1977,769C1983,771 1988,775 1988,780C1988,786 1983,799 1977,803C1971,807 1960,805 1954,803C1948,801 1943,797 1943,792C1943,786 1948,773 1954,769Z"/>
<path fill="#fbe2d4" d="M1602,837C1606,834 1619,832 1625,833C1630,834 1634,841 1636,844C1638,847 1642,850 1636,851C1630,852 1608,853 1602,851C1596,849 1598,840 1602,837Z"/>
<path fill="#fbe2d4" d="M2047,826C2049,821 2058,817 2060,821C2062,826 2062,846 2060,851C2058,856 2049,855 2047,851C2045,847 2045,831 2047,826Z"/>
<path fill="#fbe2d4" d="M228,851C239,844 287,848 296,851C306,854 290,864 285,869C279,875 270,881 262,885C255,889 245,891 239,892C234,893 230,899 228,892C226,885 217,858 228,851Z"/>
<path fill="#fbe2d4" d="M228,896C232,888 241,892 251,892C260,892 275,894 285,896C294,899 300,905 308,908C315,911 325,912 330,915C336,917 343,921 342,924C340,926 326,928 319,930C311,933 304,935 296,937C289,940 281,945 273,946C266,948 258,947 251,946C243,946 232,950 228,942C224,934 224,905 228,896Z"/>
<path fill="#fbe2d4" d="M228,953C232,943 243,950 251,951C258,952 266,958 273,960C281,962 291,962 296,965C302,968 308,974 308,978C308,983 302,988 296,992C291,995 281,996 273,999C266,1002 258,1008 251,1010C243,1012 232,1019 228,1010C224,1001 224,963 228,953Z"/>
<path fill="#fbe2d4" d="M296,946C299,943 311,941 319,942C326,943 334,949 342,953C349,957 359,960 364,965C370,969 376,974 376,978C376,983 370,988 364,992C359,995 349,998 342,999C334,1000 325,1001 319,999C313,997 310,993 308,987C305,982 305,971 303,965C301,958 294,950 296,946Z"/>
<path fill="#fbe2d4" d="M353,851C358,847 381,849 387,851C393,853 389,861 387,865C385,868 379,870 376,874C372,877 368,885 364,885C361,885 357,879 355,874C353,868 348,855 353,851Z"/>
<path fill="#fbe2d4" d="M382,880C386,877 392,874 398,874C405,874 415,877 421,880C427,884 429,892 432,896C436,901 440,904 444,908C448,912 451,915 455,919C459,923 463,927 466,930C470,934 474,938 478,942C482,946 486,949 489,953C493,957 501,959 501,965C501,970 493,983 489,987C486,992 484,992 478,992C472,992 461,990 455,987C450,985 448,980 444,976C440,972 436,968 432,965C429,961 427,957 421,953C415,949 404,946 398,942C393,938 391,934 387,930C383,927 379,923 376,919C373,915 369,912 369,908C369,904 373,901 376,896C378,892 379,884 382,880Z"/>
<path fill="#fbe2d4" d="M421,851C440,849 521,849 546,851C571,853 565,857 569,862C573,868 571,878 569,885C567,893 559,900 557,908C556,915 559,925 557,930C556,936 552,940 546,942C540,944 529,944 523,942C518,940 518,934 512,930C506,927 495,923 489,919C484,915 482,912 478,908C474,904 470,900 466,896C463,893 459,889 455,885C451,881 448,877 444,874C440,870 436,866 432,862C429,859 402,853 421,851Z"/>
<path fill="#fbe2d4" d="M557,851C565,845 603,847 614,851C626,855 622,866 626,874C629,881 633,889 637,896C641,904 644,912 648,919C652,927 656,934 660,942C663,949 667,959 671,965C675,970 684,971 686,976C688,981 690,990 686,992C682,994 668,989 660,987C652,986 643,987 637,983C631,979 629,970 626,965C622,960 618,958 614,953C610,949 607,942 603,937C599,933 595,931 592,926C588,921 584,915 580,908C576,901 573,895 569,885C565,876 550,857 557,851Z"/>
<path fill="#fbe2d4" d="M648,862C652,857 665,856 671,856C677,855 684,843 686,858C688,872 688,930 686,942C684,954 675,936 671,930C667,925 663,915 660,908C656,900 650,893 648,885C646,878 645,867 648,862Z"/>
<path fill="#fbe2d4" d="M512,953C518,949 527,948 535,949C542,950 552,955 557,960C563,965 569,971 569,976C569,981 563,989 557,992C552,995 542,993 535,992C527,991 518,990 512,987C506,985 501,982 501,976C501,970 506,958 512,953Z"/>
<path fill="#fbe2d4" d="M228,1024C232,1015 243,1024 251,1026C258,1027 270,1028 273,1033C277,1038 275,1050 273,1056C272,1061 266,1063 262,1067C258,1071 256,1076 251,1078C245,1080 232,1087 228,1078C224,1069 224,1032 228,1024Z"/>
<path fill="#fbe2d4" d="M228,1090C232,1083 243,1085 251,1085C258,1085 266,1087 273,1090C281,1092 291,1097 296,1101C302,1105 308,1108 308,1112C308,1116 309,1124 296,1126C283,1128 239,1132 228,1126C217,1120 224,1096 228,1090Z"/>
<path fill="#fbe2d4" d="M273,1021C277,1018 291,1022 296,1024C302,1026 308,1029 308,1033C308,1036 300,1040 296,1044C292,1048 288,1056 285,1056C281,1056 278,1050 276,1044C274,1038 270,1025 273,1021Z"/>
<path fill="#fbe2d4" d="M335,1028C338,1024 350,1026 355,1028C360,1031 365,1040 364,1044C364,1049 357,1052 353,1056C349,1059 344,1067 342,1067C339,1067 338,1062 337,1056C336,1049 332,1033 335,1028Z"/>
<path fill="#fbe2d4" d="M398,1042C401,1040 414,1042 421,1044C429,1046 436,1052 444,1056C451,1059 461,1063 466,1067C472,1071 476,1073 478,1078C480,1084 480,1095 478,1101C476,1107 472,1108 466,1112C461,1116 457,1124 444,1126C431,1128 396,1130 387,1126C378,1122 385,1109 387,1101C389,1093 395,1084 398,1078C402,1073 409,1071 410,1067C411,1063 407,1060 405,1056C403,1051 396,1044 398,1042Z"/>
<path fill="#fbe2d4" d="M466,999C470,995 482,995 489,996C497,998 506,1004 512,1010C518,1016 523,1027 523,1033C523,1038 516,1040 512,1044C508,1048 499,1052 501,1056C502,1059 516,1063 523,1067C531,1071 539,1074 546,1078C554,1082 561,1086 569,1090C576,1093 584,1097 592,1101C599,1105 609,1108 614,1112C620,1116 648,1124 626,1126C603,1128 501,1130 478,1126C455,1122 487,1109 489,1101C491,1093 491,1086 489,1078C487,1071 480,1063 478,1056C476,1048 480,1038 478,1033C476,1027 468,1027 466,1021C465,1016 463,1003 466,999Z"/>
<path fill="#fbe2d4" d="M557,999C561,995 574,997 580,999C586,1001 588,1004 592,1010C595,1016 599,1025 603,1033C607,1040 610,1048 614,1056C618,1063 622,1073 626,1078C629,1084 637,1086 637,1090C637,1093 631,1101 626,1101C620,1101 610,1095 603,1090C595,1084 586,1074 580,1067C574,1059 573,1052 569,1044C565,1037 559,1029 557,1021C556,1014 554,1002 557,999Z"/>
<path fill="#fbe2d4" d="M592,999C592,996 607,997 614,996C622,996 629,994 637,996C644,999 654,1004 660,1010C665,1016 667,1027 671,1033C675,1038 684,1035 686,1044C688,1054 690,1084 686,1090C682,1095 666,1082 660,1078C653,1074 652,1071 648,1067C644,1063 641,1061 637,1056C633,1050 629,1040 626,1033C622,1026 620,1020 614,1015C609,1009 592,1002 592,999Z"/>
<path fill="#fbe2d4" d="M648,1101C654,1095 665,1091 671,1090C677,1088 684,1083 686,1090C688,1096 694,1120 686,1126C678,1132 643,1130 637,1126C631,1122 643,1107 648,1101Z"/>
<path fill="#fbe2d4" d="M342,1078C345,1070 359,1074 364,1078C370,1082 376,1093 376,1101C376,1109 370,1122 364,1126C359,1130 345,1134 342,1126C338,1118 338,1086 342,1078Z"/>
<path fill="#fbe2d4" d="M904,851C944,838 1104,805 1144,851C1184,897 1179,1080 1144,1126C1109,1172 972,1132 936,1126C899,1120 928,1099 924,1090C921,1080 919,1074 913,1067C908,1059 896,1052 890,1044C885,1037 883,1029 879,1021C875,1014 868,1006 868,999C868,991 875,984 879,976C883,968 887,961 890,953C894,946 900,948 902,930C904,913 864,864 904,851Z"/>
<path fill="#fbe2d4" d="M731,858C734,851 750,851 754,856C758,860 755,878 754,885C753,893 750,899 747,901C744,903 739,904 736,896C733,889 728,865 731,858Z"/>
<path fill="#fbe2d4" d="M768,860C769,856 781,852 786,858C791,864 796,886 797,896C799,907 793,914 795,919C797,925 806,927 811,930C816,934 819,937 822,942C826,947 834,956 834,960C834,964 830,965 822,965C815,965 798,962 788,960C779,958 772,956 766,953C759,950 754,948 752,942C750,936 750,925 754,919C758,914 773,913 777,908C781,902 778,893 777,885C775,877 766,865 768,860Z"/>
<path fill="#fbe2d4" d="M795,851C795,847 806,849 811,851C816,853 817,858 822,860C828,862 839,860 845,865C851,869 853,883 856,887C860,891 864,884 868,890C872,895 881,913 881,919C882,925 876,926 872,926C868,926 860,923 856,919C853,915 852,907 850,901C848,895 849,887 845,883C841,878 833,875 827,874C821,872 816,877 811,874C806,870 795,855 795,851Z"/>
<path fill="#fbe2d4" d="M829,908C831,904 841,902 845,906C849,909 850,923 852,930C854,938 858,948 859,953C859,959 859,966 856,965C854,963 847,952 843,946C839,941 834,937 831,930C829,924 827,912 829,908Z"/>
<path fill="#fbe2d4" d="M752,960C754,958 762,958 766,962C769,966 772,978 770,983C768,987 757,991 754,990C751,988 752,981 752,976C752,971 750,962 752,960Z"/>
<path fill="#fbe2d4" d="M686,983C690,977 701,977 709,976C716,975 726,976 731,978C736,981 740,987 738,992C736,996 727,1002 720,1006C713,1009 703,1009 697,1010C692,1011 688,1017 686,1012C684,1008 682,989 686,983Z"/>
<path fill="#fbe2d4" d="M831,976C832,973 840,980 845,978C850,976 858,967 863,965C869,962 875,961 879,965C884,968 888,982 890,987C893,993 897,995 895,999C893,1002 884,1006 879,1010C875,1014 873,1023 868,1024C863,1024 854,1019 850,1015C845,1010 844,1005 840,999C837,992 831,979 831,976Z"/>
<path fill="#fbe2d4" d="M784,1021C786,1017 795,1021 800,1019C804,1017 807,1013 811,1010C815,1007 819,1003 822,1003C826,1003 829,1008 834,1010C838,1012 844,1011 850,1015C855,1018 865,1027 868,1033C870,1038 867,1046 863,1049C859,1052 850,1048 845,1051C840,1054 837,1063 834,1067C830,1071 826,1074 822,1074C819,1074 816,1070 811,1067C806,1064 799,1059 795,1056C791,1052 788,1050 786,1044C784,1038 781,1026 784,1021Z"/>
<path fill="#fbe2d4" d="M702,1058C706,1055 723,1057 731,1056C740,1054 747,1052 754,1051C762,1049 769,1046 777,1046C784,1047 794,1050 800,1056C805,1061 807,1073 811,1078C815,1084 819,1086 822,1090C826,1093 834,1097 834,1101C834,1105 828,1110 822,1112C817,1114 805,1110 800,1112C794,1115 807,1124 788,1126C769,1128 703,1130 686,1126C669,1122 684,1107 686,1101C688,1095 694,1094 697,1090C700,1085 703,1079 704,1074C705,1068 697,1061 702,1058Z"/>
<path fill="#fbe2d4" d="M834,1110C837,1106 851,1104 856,1101C862,1097 864,1093 868,1090C871,1086 873,1081 879,1078C885,1076 894,1074 902,1074C909,1074 919,1076 924,1078C930,1081 934,1084 936,1090C938,1095 938,1108 936,1112C934,1116 930,1112 924,1112C919,1113 909,1115 902,1117C894,1119 889,1122 879,1124C870,1125 853,1126 845,1126C837,1126 836,1126 834,1124C832,1121 830,1114 834,1110Z"/>
<path fill="#fbe2d4" d="M686,869C687,868 694,872 700,874C706,875 721,877 722,878C724,880 714,882 709,883C704,883 697,883 693,880C689,878 685,870 686,869Z"/>
<path fill="#fbe2d4" d="M697,906C699,902 705,900 709,901C712,902 717,909 718,912C719,916 715,921 713,924C712,927 711,931 709,930C707,930 704,923 702,919C700,915 696,909 697,906Z"/>
<path fill="#fbe2d4" d="M695,1035C696,1033 700,1033 702,1035C703,1037 705,1042 704,1044C703,1046 699,1048 697,1046C696,1045 694,1037 695,1035Z"/>
<rect fill="#fbe2d4" x="228.0" y="301.0" width="230.0" height="140.0"/>
<path fill="#fbe2d4" d="M599,356C602,352 619,352 627,349C636,345 640,338 650,335C660,332 680,312 686,330C692,347 703,422 686,441C669,460 601,443 582,441C562,439 570,431 570,426C570,422 578,419 582,415C585,411 589,408 593,404C597,399 601,392 604,388C607,383 610,378 610,375C610,372 606,373 604,370C602,366 595,359 599,356Z"/>
<path fill="#fbe2d4" d="M536,308C539,305 551,306 559,306C566,306 576,306 582,308C587,309 592,312 593,315C594,317 590,321 587,324C584,326 581,329 576,331C571,333 563,335 559,335C554,335 551,332 547,330C544,327 540,325 538,322C536,318 532,310 536,308Z"/>
<path fill="#fbe2d4" d="M499,335C504,333 513,338 519,340C525,342 531,346 536,349C541,352 544,355 547,358C550,361 551,366 553,370C555,373 556,378 559,381C562,384 570,385 570,388C570,391 562,395 559,398C555,401 552,404 547,404C543,404 536,401 530,398C525,395 520,392 515,388C511,384 508,379 504,375C500,371 496,369 494,365C491,361 489,357 490,352C491,347 495,337 499,335Z"/>
<path fill="#fbe2d4" d="M456,365C459,358 468,357 473,358C478,359 482,365 484,370C487,374 490,382 490,387C490,391 487,395 484,398C482,401 478,403 473,404C468,404 459,408 456,401C453,395 453,372 456,365Z"/>
<path fill="#fbe2d4" d="M467,301C472,299 488,299 490,301C492,303 482,310 479,312C475,315 472,318 470,318C467,318 463,315 463,312C462,310 463,303 467,301Z"/>
<path fill="#fbe2d4" d="M456,401C460,395 473,401 479,404C484,406 489,409 490,415C491,421 490,437 484,441C479,445 461,448 456,441C451,434 452,408 456,401Z"/>
<rect fill="#fbe2d4" x="228.0" y="439.0" width="230.0" height="140.0"/>
<rect fill="#fbe2d4" x="456.0" y="439.0" width="230.0" height="140.0"/>
<rect fill="#fbe2d4" x="1144.0" y="851.0" width="458.0" height="274.9"/>
<path fill="#fbe2d4" d="M1602,851C1635,821 1769,843 1802,851C1835,859 1804,888 1802,896C1800,905 1791,897 1788,901C1785,905 1781,912 1784,919C1786,927 1804,940 1802,946C1800,953 1781,953 1772,960C1764,967 1755,979 1750,987C1744,996 1736,1002 1738,1010C1740,1018 1757,1027 1761,1033C1765,1038 1769,1044 1761,1044C1753,1044 1727,1035 1716,1033C1704,1031 1700,1033 1693,1033C1685,1032 1680,1029 1670,1028C1661,1027 1646,1029 1636,1028C1627,1028 1619,1026 1613,1026C1608,1026 1604,1057 1602,1028C1600,999 1569,881 1602,851Z"/>
<path fill="#fbe2d4" d="M1602,1033C1604,1028 1608,1035 1613,1037C1619,1039 1630,1041 1636,1044C1642,1047 1644,1052 1647,1056C1651,1059 1658,1063 1659,1067C1660,1071 1658,1075 1654,1078C1651,1081 1641,1085 1636,1085C1631,1085 1628,1081 1625,1078C1621,1076 1617,1071 1613,1069C1610,1067 1604,1073 1602,1067C1600,1061 1600,1038 1602,1033Z"/>
<path fill="#fbe2d4" d="M1806,851C1809,849 1824,850 1829,851C1835,852 1840,856 1840,858C1840,860 1834,864 1829,865C1825,865 1817,862 1813,860C1810,858 1804,853 1806,851Z"/>
<path fill="#fbe2d4" d="M1840,874C1844,871 1858,869 1863,869C1869,869 1871,869 1872,874C1874,878 1872,891 1870,896C1869,902 1868,905 1863,908C1858,910 1848,912 1840,912C1833,913 1822,912 1818,910C1813,908 1811,904 1813,901C1815,898 1824,895 1829,892C1834,889 1841,888 1843,885C1845,882 1837,876 1840,874Z"/>
<path fill="#fbe2d4" d="M1843,919C1847,915 1858,916 1863,915C1869,913 1870,910 1875,908C1880,906 1889,901 1893,903C1896,905 1896,915 1895,919C1894,924 1891,927 1886,930C1881,934 1870,939 1863,942C1857,945 1853,943 1847,946C1842,949 1834,955 1829,960C1824,965 1822,971 1818,976C1814,981 1809,984 1806,987C1804,991 1804,995 1802,999C1800,1002 1798,1004 1795,1010C1792,1016 1786,1027 1784,1033C1781,1038 1783,1042 1779,1044C1775,1046 1763,1047 1761,1044C1759,1041 1764,1034 1766,1028C1768,1023 1769,1015 1772,1010C1775,1005 1780,1002 1784,999C1787,995 1791,991 1795,987C1799,984 1803,980 1806,976C1810,972 1814,968 1818,965C1822,961 1825,957 1829,953C1833,949 1838,948 1840,942C1843,936 1839,924 1843,919Z"/>
<path fill="#fbe2d4" d="M1863,942C1871,938 1878,940 1886,937C1894,934 1901,929 1909,924C1916,919 1926,912 1931,908C1937,903 1939,900 1943,896C1947,893 1950,889 1954,885C1958,881 1960,877 1966,874C1971,870 1981,865 1988,862C1996,859 1999,857 2011,856C2023,854 2052,848 2060,851C2068,854 2064,868 2060,874C2056,879 2042,880 2034,885C2026,890 2018,899 2011,903C2003,907 1996,907 1988,910C1981,913 1971,916 1966,919C1960,923 1958,927 1954,930C1950,934 1947,938 1943,942C1939,946 1937,949 1931,953C1926,957 1916,962 1909,965C1901,967 1894,967 1886,969C1878,971 1871,974 1863,976C1856,978 1848,981 1840,983C1833,985 1822,988 1818,987C1814,986 1814,981 1818,976C1822,971 1833,966 1840,960C1848,954 1856,946 1863,942Z"/>
<path fill="#fbe2d4" d="M1920,860C1924,857 1937,856 1943,858C1948,859 1955,866 1954,869C1953,873 1944,878 1938,878C1933,879 1923,877 1920,874C1917,871 1916,863 1920,860Z"/>
<path fill="#fbe2d4" d="M1988,903C1992,900 2006,899 2011,901C2015,903 2017,911 2016,915C2014,918 2004,923 2000,924C1995,924 1990,923 1988,919C1986,916 1984,906 1988,903Z"/>
<path fill="#fbe2d4" d="M1897,946C1902,945 1914,952 1920,956C1926,959 1928,965 1931,969C1935,974 1939,980 1943,983C1947,986 1950,990 1954,987C1958,985 1962,974 1966,969C1969,965 1973,964 1977,960C1981,956 1984,949 1988,946C1992,943 1996,942 2000,942C2003,942 2007,943 2011,946C2015,949 2018,957 2022,960C2026,963 2030,965 2034,965C2037,965 2041,962 2045,960C2049,958 2058,943 2060,953C2062,963 2062,1010 2060,1021C2058,1032 2049,1021 2045,1019C2041,1017 2037,1013 2034,1010C2030,1007 2026,1001 2022,999C2018,996 2015,998 2011,996C2007,994 2003,990 2000,987C1996,984 1992,980 1988,978C1984,977 1981,977 1977,978C1973,980 1969,985 1966,987C1962,990 1958,991 1954,992C1950,993 1947,991 1943,992C1939,993 1935,996 1931,996C1928,997 1924,998 1920,996C1916,995 1912,990 1909,987C1905,985 1901,982 1897,983C1894,984 1890,990 1886,992C1882,994 1877,997 1875,996C1872,996 1869,990 1870,987C1871,984 1878,982 1881,978C1885,974 1890,970 1893,965C1895,959 1893,948 1897,946Z"/>
<path fill="#fbe2d4" d="M2034,858C2038,856 2056,852 2060,856C2064,859 2062,876 2060,880C2058,885 2049,885 2045,883C2041,881 2036,873 2034,869C2032,865 2029,860 2034,858Z"/>
<path fill="#fbe2d4" d="M1897,1010C1900,1007 1909,1005 1913,1006C1917,1006 1922,1010 1922,1015C1923,1019 1919,1027 1916,1030C1912,1034 1905,1034 1902,1033C1899,1031 1898,1025 1897,1021C1897,1018 1895,1013 1897,1010Z"/>
<path fill="#fbe2d4" d="M1943,1035C1945,1033 1953,1032 1956,1033C1960,1034 1966,1040 1966,1042C1965,1044 1958,1046 1954,1046C1951,1047 1947,1046 1945,1044C1943,1042 1941,1037 1943,1035Z"/>
<path fill="#fbe2d4" d="M1997,1053C2001,1051 2017,1050 2022,1051C2028,1052 2029,1056 2029,1060C2029,1064 2026,1071 2022,1074C2019,1076 2011,1075 2006,1074C2002,1072 1999,1066 1997,1062C1996,1059 1993,1055 1997,1053Z"/>
<path fill="#fbe2d4" d="M1954,1112C1958,1110 1969,1111 1977,1112C1984,1113 1994,1117 2000,1119C2005,1121 2018,1125 2011,1126C2003,1127 1964,1128 1954,1126C1945,1124 1950,1115 1954,1112Z"/>
<path fill="#fbe2d4" d="M2034,1119C2038,1118 2056,1116 2060,1117C2064,1118 2064,1124 2060,1126C2056,1127 2038,1127 2034,1126C2029,1125 2029,1121 2034,1119Z"/>
<path fill="#fbe2d4" d="M1804,1024C1805,1023 1811,1023 1813,1024C1815,1025 1817,1029 1816,1030C1814,1032 1808,1032 1806,1030C1805,1029 1803,1025 1804,1024Z"/>
<path fill="#fbe2d4" d="M1775,1040C1778,1038 1790,1037 1795,1037C1800,1038 1805,1041 1806,1044C1808,1047 1808,1051 1804,1053C1800,1055 1789,1056 1784,1056C1779,1055 1776,1051 1775,1049C1773,1046 1771,1042 1775,1040Z"/>
<path fill="#fbe2d4" d="M1709,1087C1712,1085 1724,1085 1729,1085C1735,1085 1741,1087 1743,1090C1745,1092 1746,1096 1743,1099C1740,1101 1730,1103 1725,1103C1719,1103 1714,1101 1711,1099C1708,1096 1706,1090 1709,1087Z"/>
<polygon fill="#fbe2d4" points="1690.6,1087.3 1699.7,1089.5 1697.4,1091.8"/>
<polygon fill="#fbe2d4" points="2047.3,941.9 2060.0,937.3 2060.0,946.4"/>
<path fill="#fbe2d4" d="M228,1126C236,1124 264,1124 273,1126C283,1128 281,1134 285,1137C289,1141 292,1145 296,1149C300,1152 304,1156 308,1160C311,1164 315,1168 319,1171C323,1175 330,1179 330,1183C330,1187 323,1192 319,1194C315,1196 311,1196 308,1194C304,1192 300,1187 296,1183C292,1179 289,1175 285,1171C281,1168 277,1164 273,1160C270,1156 266,1151 262,1149C258,1146 254,1146 251,1144C247,1143 245,1140 242,1140C238,1139 230,1142 228,1140C226,1137 220,1128 228,1126Z"/>
<path fill="#fbe2d4" d="M308,1126C315,1124 345,1124 353,1126C361,1128 357,1132 355,1135C353,1138 346,1142 342,1144C337,1146 334,1148 330,1149C326,1149 323,1150 319,1149C315,1147 309,1143 308,1140C306,1136 300,1128 308,1126Z"/>
<path fill="#fbe2d4" d="M353,1158C356,1156 367,1155 369,1158C371,1160 369,1171 367,1174C364,1177 358,1177 355,1176C353,1175 351,1170 351,1167C350,1164 350,1159 353,1158Z"/>
<path fill="#fbe2d4" d="M376,1174C377,1172 387,1171 389,1171C392,1172 393,1177 392,1178C390,1180 383,1181 380,1180C378,1180 374,1175 376,1174Z"/>
<path fill="#fbe2d4" d="M228,1192C230,1177 236,1192 242,1194C247,1196 256,1202 262,1203C268,1204 273,1201 278,1201C283,1201 288,1203 289,1206C291,1208 286,1213 287,1217C288,1221 294,1225 296,1228C299,1232 302,1234 303,1237C304,1240 304,1244 301,1246C298,1249 289,1251 285,1253C280,1255 279,1258 273,1260C268,1262 256,1261 251,1262C245,1263 242,1263 239,1267C237,1271 239,1282 237,1285C235,1288 230,1301 228,1285C226,1269 226,1207 228,1192Z"/>
<path fill="#fbe2d4" d="M228,1290C230,1282 236,1287 239,1290C243,1293 247,1303 251,1308C254,1312 258,1313 262,1317C266,1321 272,1326 273,1330C275,1335 273,1339 269,1342C265,1344 256,1346 251,1346C246,1347 243,1346 239,1344C236,1343 230,1346 228,1337C226,1328 226,1298 228,1290Z"/>
<path fill="#fbe2d4" d="M273,1317C275,1313 286,1315 292,1317C297,1319 302,1324 305,1328C308,1332 311,1339 310,1342C308,1344 301,1345 296,1344C291,1343 284,1342 280,1337C276,1333 272,1320 273,1317Z"/>
<path fill="#fbe2d4" d="M305,1290C306,1287 314,1286 317,1287C319,1289 320,1296 319,1299C318,1301 312,1305 310,1303C308,1302 304,1292 305,1290Z"/>
<path fill="#fbe2d4" d="M301,1253C302,1252 308,1252 310,1253C312,1254 313,1258 312,1260C311,1262 305,1263 303,1262C301,1261 300,1255 301,1253Z"/>
<path fill="#fbe2d4" d="M430,1237C432,1236 440,1234 444,1235C448,1236 453,1240 453,1242C453,1244 450,1246 446,1246C443,1247 435,1246 432,1244C430,1243 428,1239 430,1237Z"/>
<path fill="#fbe2d4" d="M473,1167C475,1164 482,1162 487,1162C492,1163 499,1169 501,1171C502,1174 500,1177 496,1178C493,1179 484,1180 480,1178C476,1176 472,1170 473,1167Z"/>
<path fill="#fbe2d4" d="M466,1149C467,1148 470,1146 471,1146C472,1147 474,1152 473,1153C473,1154 470,1154 469,1153C468,1153 466,1150 466,1149Z"/>
<path fill="#fbe2d4" d="M501,1185C502,1184 508,1184 510,1185C511,1186 511,1189 510,1190C508,1190 503,1190 502,1190C500,1189 499,1186 501,1185Z"/>
<path fill="#fbe2d4" d="M364,1294C365,1290 374,1291 378,1292C382,1293 382,1297 387,1299C392,1300 403,1301 410,1301C417,1301 422,1297 428,1299C434,1301 439,1309 444,1312C448,1315 455,1314 455,1317C455,1320 448,1328 444,1330C440,1333 436,1330 432,1333C429,1335 425,1341 421,1344C417,1348 415,1352 410,1353C404,1355 393,1355 387,1353C381,1351 378,1347 376,1342C374,1336 378,1327 376,1319C374,1311 364,1299 364,1294Z"/>
<path fill="#fbe2d4" d="M478,1274C478,1271 486,1273 489,1274C493,1275 497,1278 501,1280C504,1283 509,1287 512,1290C515,1292 521,1292 521,1294C521,1296 516,1302 512,1303C508,1305 500,1302 496,1303C492,1304 488,1310 487,1308C486,1305 491,1295 489,1290C488,1284 478,1276 478,1274Z"/>
<path fill="#fbe2d4" d="M496,1235C498,1232 507,1235 512,1235C517,1235 524,1234 528,1237C532,1240 532,1249 535,1253C538,1257 542,1259 546,1262C550,1266 557,1270 560,1274C563,1277 565,1282 564,1285C563,1288 557,1290 553,1290C549,1290 546,1287 542,1285C537,1283 528,1280 523,1276C518,1272 516,1266 512,1262C508,1259 503,1258 501,1253C498,1249 494,1238 496,1235Z"/>
<path fill="#fbe2d4" d="M535,1210C537,1208 548,1210 553,1212C558,1214 564,1217 566,1221C569,1226 567,1235 566,1240C566,1244 565,1246 562,1246C559,1246 550,1243 546,1240C543,1236 543,1231 542,1226C540,1221 533,1212 535,1210Z"/>
<path fill="#fbe2d4" d="M564,1126C568,1125 598,1124 603,1126C607,1128 595,1136 592,1137C588,1139 585,1135 580,1133C576,1131 560,1127 564,1126Z"/>
<path fill="#fbe2d4" d="M573,1149C576,1146 587,1147 592,1149C596,1151 599,1156 603,1160C607,1164 610,1168 614,1171C618,1175 622,1179 626,1183C629,1187 631,1190 637,1194C643,1198 652,1202 660,1206C668,1209 682,1204 686,1217C690,1230 687,1273 686,1285C685,1297 682,1291 678,1290C673,1288 665,1278 660,1274C655,1269 652,1266 648,1262C644,1259 641,1256 637,1253C633,1250 629,1246 626,1244C622,1242 618,1241 614,1240C610,1238 607,1236 603,1235C599,1234 595,1233 592,1235C588,1237 585,1247 582,1249C579,1250 576,1248 573,1244C570,1241 565,1234 564,1228C563,1223 566,1217 569,1212C572,1207 579,1202 582,1199C586,1196 588,1197 592,1194C595,1192 603,1187 603,1183C603,1179 596,1174 592,1171C587,1168 581,1168 578,1165C575,1161 571,1151 573,1149Z"/>
<path fill="#fbe2d4" d="M592,1126C606,1124 670,1112 686,1126C702,1140 688,1198 686,1212C684,1227 675,1215 671,1212C667,1209 663,1199 660,1194C656,1189 652,1185 648,1183C644,1181 641,1185 637,1183C633,1181 629,1175 626,1171C622,1168 618,1164 614,1160C610,1156 606,1152 603,1149C600,1145 598,1141 596,1137C594,1134 576,1128 592,1126Z"/>
<path fill="#fbe2d4" d="M564,1271C567,1268 576,1265 580,1267C585,1268 586,1279 592,1280C597,1282 607,1278 614,1278C622,1278 631,1279 637,1280C643,1282 648,1287 648,1290C648,1292 643,1292 637,1294C631,1296 622,1301 614,1303C607,1305 599,1306 592,1306C584,1305 574,1302 569,1299C564,1295 563,1290 562,1285C561,1280 561,1274 564,1271Z"/>
<path fill="#fbe2d4" d="M637,1303C644,1303 652,1306 660,1306C668,1306 682,1295 686,1303C690,1311 690,1344 686,1353C682,1362 666,1356 660,1358C653,1360 652,1365 648,1364C644,1364 643,1357 637,1353C631,1350 622,1345 614,1344C607,1343 599,1347 592,1349C584,1350 574,1350 569,1351C563,1352 561,1354 557,1353C554,1352 552,1346 546,1344C540,1342 531,1343 523,1342C516,1341 508,1339 501,1337C493,1335 484,1332 478,1330C472,1329 468,1328 466,1326C465,1324 461,1320 466,1319C472,1318 491,1322 501,1321C510,1321 516,1318 523,1317C531,1315 539,1314 546,1312C554,1311 561,1308 569,1308C576,1307 584,1308 592,1308C599,1307 607,1306 614,1306C622,1305 629,1303 637,1303Z"/>
<path fill="#fbe2d4" d="M403,1353C410,1349 424,1351 432,1353C441,1355 448,1363 455,1364C463,1366 470,1366 478,1364C485,1363 493,1355 501,1353C508,1351 516,1351 523,1351C531,1351 539,1352 546,1353C554,1354 561,1356 569,1356C576,1356 584,1354 592,1353C599,1353 607,1351 614,1353C622,1355 631,1361 637,1364C643,1368 644,1372 648,1376C652,1380 653,1387 660,1387C666,1387 682,1374 686,1376C690,1378 736,1397 686,1401C636,1405 436,1405 387,1401C338,1397 389,1384 392,1376C394,1368 396,1357 403,1353Z"/>
<path fill="#fbe2d4" d="M308,1349C313,1344 332,1348 342,1349C351,1349 357,1352 364,1353C372,1354 382,1352 387,1356C392,1359 395,1368 396,1376C397,1383 403,1397 392,1401C381,1405 342,1403 330,1401C318,1399 323,1391 319,1387C315,1383 309,1382 308,1376C306,1369 302,1353 308,1349Z"/>
<path fill="#fbe2d4" d="M228,1376C230,1373 239,1379 242,1383C244,1387 244,1398 242,1401C239,1404 230,1405 228,1401C226,1397 226,1379 228,1376Z"/>
<polygon fill="#fbe2d4" points="671.0,1319.1 686.0,1314.6 686.0,1330.5"/>
<path fill="#fbe2d4" d="M686,1126C694,1118 722,1123 731,1126C741,1129 739,1140 743,1144C747,1148 750,1147 754,1149C758,1150 762,1150 766,1153C769,1156 777,1163 777,1167C777,1171 768,1171 766,1176C763,1181 765,1191 761,1194C757,1197 748,1194 743,1194C738,1194 735,1195 731,1194C728,1193 724,1192 720,1190C716,1188 712,1186 709,1183C705,1180 701,1173 697,1171C694,1170 688,1179 686,1171C684,1164 678,1134 686,1126Z"/>
<path fill="#fbe2d4" d="M686,1183C688,1180 694,1187 697,1190C700,1192 704,1196 704,1199C705,1202 703,1206 700,1208C697,1209 688,1212 686,1208C684,1204 684,1186 686,1183Z"/>
<path fill="#fbe2d4" d="M704,1206C706,1204 714,1204 716,1206C717,1207 717,1211 716,1212C714,1213 708,1213 706,1212C705,1211 703,1207 704,1206Z"/>
<path fill="#fbe2d4" d="M843,1126C846,1124 875,1124 881,1126C888,1128 884,1133 881,1135C878,1137 870,1139 863,1137C857,1136 840,1128 843,1126Z"/>
<path fill="#fbe2d4" d="M795,1130C797,1129 807,1131 813,1133C820,1135 828,1138 834,1142C840,1145 844,1150 850,1153C855,1156 862,1158 868,1160C873,1162 880,1165 881,1167C883,1169 883,1173 879,1174C875,1174 864,1173 856,1171C849,1170 839,1165 834,1162C828,1159 827,1157 822,1153C817,1150 809,1143 804,1140C800,1136 793,1132 795,1130Z"/>
<path fill="#fbe2d4" d="M881,1174C883,1172 889,1173 890,1174C892,1175 894,1179 893,1180C892,1182 886,1184 884,1183C882,1182 880,1175 881,1174Z"/>
<path fill="#fbe2d4" d="M686,1240C688,1235 694,1240 697,1242C701,1244 706,1248 709,1251C711,1254 712,1259 711,1262C710,1266 707,1272 704,1274C701,1276 696,1275 693,1274C690,1273 687,1273 686,1267C685,1261 684,1244 686,1240Z"/>
<path fill="#fbe2d4" d="M816,1187C819,1185 835,1183 840,1185C846,1187 845,1196 850,1199C854,1201 861,1199 868,1201C875,1203 883,1208 890,1210C898,1212 908,1215 913,1215C919,1215 921,1212 924,1210C928,1208 933,1204 931,1201C930,1198 917,1194 913,1192C909,1190 907,1188 909,1187C910,1186 915,1186 920,1185C925,1184 929,1182 936,1183C942,1183 953,1188 959,1187C964,1187 966,1181 970,1178C974,1175 977,1172 981,1169C986,1166 992,1164 997,1160C1003,1157 1009,1151 1015,1149C1022,1146 1032,1148 1038,1146C1044,1145 1044,1143 1050,1142C1055,1141 1067,1140 1072,1140C1078,1139 1078,1138 1084,1137C1089,1137 1096,1137 1106,1135C1116,1133 1138,1108 1144,1126C1150,1144 1148,1224 1144,1244C1140,1264 1126,1244 1118,1244C1110,1244 1102,1244 1095,1242C1087,1240 1080,1233 1072,1230C1065,1228 1057,1229 1050,1228C1042,1228 1034,1228 1027,1228C1019,1228 1012,1227 1004,1228C997,1229 983,1231 981,1233C979,1235 989,1237 993,1240C996,1242 1004,1246 1004,1249C1004,1251 996,1253 993,1253C989,1253 987,1250 981,1249C976,1247 966,1245 959,1244C951,1243 943,1245 936,1244C928,1243 921,1240 913,1237C906,1235 898,1232 890,1230C883,1229 873,1230 868,1230C862,1231 860,1234 856,1235C853,1236 851,1235 845,1235C839,1235 829,1235 822,1233C815,1231 808,1224 804,1221C800,1218 795,1216 797,1215C800,1213 814,1215 818,1212C822,1210 823,1203 822,1199C822,1195 812,1190 816,1187Z"/>
<path fill="#fbe2d4" d="M759,1249C761,1245 772,1244 777,1244C782,1244 784,1248 788,1249C793,1249 800,1247 804,1249C809,1250 814,1255 816,1258C817,1261 814,1265 811,1267C808,1269 801,1269 795,1269C789,1269 782,1268 777,1267C772,1266 766,1268 763,1265C760,1262 756,1252 759,1249Z"/>
<path fill="#fbe2d4" d="M1022,1246C1024,1245 1031,1244 1036,1244C1040,1244 1046,1245 1050,1246C1053,1248 1058,1249 1056,1251C1054,1253 1043,1255 1038,1256C1033,1256 1027,1255 1024,1253C1022,1252 1020,1248 1022,1246Z"/>
<path fill="#fbe2d4" d="M902,1299C906,1296 917,1294 924,1294C932,1294 942,1295 947,1296C953,1298 956,1299 956,1303C957,1307 955,1316 952,1319C948,1322 942,1321 936,1321C929,1321 919,1321 913,1319C908,1317 904,1311 902,1308C900,1304 898,1301 902,1299Z"/>
<path fill="#fbe2d4" d="M963,1315C965,1312 967,1309 972,1308C977,1306 986,1307 993,1306C1000,1304 1008,1299 1015,1296C1023,1294 1032,1291 1038,1290C1044,1288 1047,1288 1050,1290C1052,1291 1056,1296 1054,1299C1052,1302 1042,1302 1040,1308C1039,1313 1046,1325 1045,1330C1044,1336 1041,1338 1036,1340C1031,1341 1023,1341 1015,1342C1008,1342 1000,1343 993,1342C986,1341 977,1340 972,1337C967,1335 965,1330 963,1326C962,1322 962,1318 963,1315Z"/>
<path fill="#fbe2d4" d="M1061,1294C1063,1292 1073,1289 1077,1290C1081,1290 1084,1294 1084,1296C1083,1299 1076,1302 1072,1303C1069,1304 1065,1305 1063,1303C1061,1302 1059,1296 1061,1294Z"/>
<path fill="#fbe2d4" d="M1059,1335C1060,1332 1066,1332 1072,1330C1078,1329 1087,1329 1095,1328C1102,1327 1110,1326 1118,1326C1126,1326 1140,1319 1144,1326C1148,1332 1148,1358 1144,1364C1140,1371 1126,1363 1118,1362C1110,1362 1102,1361 1095,1360C1087,1359 1078,1358 1072,1356C1067,1353 1063,1350 1061,1346C1059,1343 1057,1338 1059,1335Z"/>
<path fill="#fbe2d4" d="M845,1342C848,1336 860,1333 868,1330C875,1328 885,1327 890,1328C896,1329 900,1332 902,1335C904,1338 906,1345 904,1349C902,1352 897,1354 890,1356C884,1357 875,1359 868,1360C861,1361 853,1365 850,1362C846,1359 842,1347 845,1342Z"/>
<path fill="#fbe2d4" d="M686,1312C689,1298 699,1312 704,1315C709,1318 713,1326 716,1330C718,1335 718,1340 718,1344C717,1348 715,1350 713,1353C712,1357 708,1361 709,1364C710,1368 718,1372 720,1376C722,1380 722,1383 720,1387C718,1391 714,1399 709,1401C703,1403 690,1416 686,1401C682,1386 683,1327 686,1312Z"/>
<path fill="#fbe2d4" d="M731,1344C734,1343 747,1344 754,1344C762,1344 769,1345 777,1346C784,1348 792,1351 800,1353C807,1355 815,1358 822,1360C830,1362 839,1362 845,1364C851,1367 853,1372 856,1376C859,1380 861,1383 863,1387C865,1391 890,1399 868,1401C846,1403 754,1405 731,1401C709,1397 731,1384 731,1376C732,1368 736,1358 736,1353C736,1348 728,1346 731,1344Z"/>
<path fill="#fbe2d4" d="M956,1364C960,1362 973,1361 981,1360C989,1359 997,1359 1004,1360C1012,1361 1019,1365 1027,1364C1034,1364 1042,1358 1050,1358C1057,1357 1065,1359 1072,1360C1080,1361 1087,1362 1095,1364C1102,1367 1114,1372 1118,1376C1122,1380 1122,1384 1118,1387C1114,1390 1102,1393 1095,1394C1087,1395 1080,1394 1072,1394C1065,1394 1057,1392 1050,1392C1042,1391 1034,1392 1027,1392C1019,1391 1012,1391 1004,1390C997,1388 989,1385 981,1383C974,1380 963,1379 959,1376C954,1373 953,1367 956,1364Z"/>
<polygon fill="#fbe2d4" points="1135.8,1298.7 1144.0,1298.7 1144.0,1307.7"/>
<path fill="#fbe2d4" d="M1111,1135C1113,1134 1126,1134 1129,1135C1132,1136 1133,1140 1131,1142C1129,1143 1121,1145 1118,1144C1114,1143 1109,1137 1111,1135Z"/>
<path fill="#fbe2d4" d="M1144,1126C1220,1106 1526,1114 1602,1126C1678,1138 1606,1187 1602,1199C1598,1210 1584,1197 1576,1194C1568,1192 1560,1184 1553,1183C1545,1181 1538,1183 1530,1185C1523,1187 1513,1190 1508,1194C1502,1198 1502,1209 1496,1210C1490,1212 1481,1206 1473,1203C1466,1201 1456,1195 1451,1194C1445,1194 1445,1200 1439,1201C1434,1202 1424,1199 1417,1199C1409,1199 1401,1199 1394,1201C1387,1203 1380,1204 1376,1208C1371,1211 1369,1217 1367,1221C1364,1226 1364,1231 1360,1235C1356,1239 1350,1245 1344,1246C1338,1248 1333,1244 1326,1244C1319,1244 1311,1243 1303,1244C1295,1245 1288,1249 1280,1249C1273,1248 1265,1245 1258,1242C1250,1239 1242,1232 1235,1230C1227,1229 1220,1232 1212,1235C1205,1238 1197,1244 1189,1246C1182,1249 1174,1249 1167,1249C1159,1249 1148,1267 1144,1246C1140,1226 1068,1146 1144,1126Z"/>
<path fill="#fbe2d4" d="M1144,1262C1148,1251 1159,1256 1167,1256C1174,1255 1182,1259 1189,1260C1197,1261 1205,1260 1212,1260C1220,1260 1227,1260 1235,1260C1242,1260 1250,1261 1258,1262C1265,1264 1277,1265 1280,1269C1283,1273 1274,1281 1276,1285C1278,1289 1291,1290 1292,1294C1292,1298 1286,1305 1280,1308C1275,1310 1264,1308 1258,1308C1252,1307 1245,1307 1244,1306C1243,1304 1252,1299 1251,1296C1249,1294 1241,1291 1235,1290C1228,1288 1220,1289 1212,1290C1205,1290 1195,1290 1189,1292C1184,1294 1182,1301 1178,1303C1174,1306 1170,1305 1167,1308C1163,1310 1159,1317 1155,1319C1152,1321 1146,1331 1144,1321C1142,1312 1140,1273 1144,1262Z"/>
<path fill="#fbe2d4" d="M1208,1301C1209,1298 1219,1298 1224,1299C1228,1299 1234,1303 1235,1306C1236,1308 1234,1311 1230,1312C1227,1314 1216,1316 1212,1315C1208,1313 1206,1304 1208,1301Z"/>
<path fill="#fbe2d4" d="M1144,1326C1148,1319 1159,1327 1167,1328C1174,1329 1184,1330 1189,1330C1195,1331 1196,1332 1201,1333C1206,1334 1217,1335 1219,1337C1221,1340 1215,1346 1212,1349C1209,1352 1206,1353 1201,1356C1195,1358 1184,1362 1178,1364C1172,1367 1172,1371 1167,1371C1161,1372 1148,1374 1144,1367C1140,1359 1140,1332 1144,1326Z"/>
<path fill="#fbe2d4" d="M1255,1337C1259,1335 1272,1334 1280,1333C1288,1332 1295,1331 1303,1330C1311,1330 1319,1327 1326,1328C1332,1329 1339,1332 1342,1335C1345,1338 1345,1344 1344,1349C1343,1353 1342,1357 1337,1360C1332,1363 1324,1366 1314,1367C1305,1368 1288,1368 1280,1367C1273,1366 1272,1365 1269,1362C1266,1359 1262,1353 1260,1349C1258,1344 1252,1340 1255,1337Z"/>
<path fill="#fbe2d4" d="M1353,1344C1356,1340 1364,1333 1371,1330C1378,1328 1389,1327 1394,1328C1399,1329 1401,1332 1401,1335C1401,1338 1397,1341 1394,1344C1391,1347 1386,1349 1382,1351C1379,1353 1376,1357 1371,1358C1367,1359 1358,1360 1355,1358C1352,1355 1350,1349 1353,1344Z"/>
<path fill="#fbe2d4" d="M1324,1299C1325,1296 1331,1298 1335,1299C1338,1300 1344,1303 1344,1306C1344,1308 1336,1313 1333,1315C1330,1316 1327,1315 1326,1312C1324,1310 1322,1301 1324,1299Z"/>
<path fill="#fbe2d4" d="M1380,1308C1382,1307 1390,1307 1394,1308C1398,1309 1405,1313 1405,1315C1406,1316 1402,1319 1398,1319C1395,1319 1388,1316 1385,1315C1382,1313 1379,1309 1380,1308Z"/>
<path fill="#fbe2d4" d="M1405,1299C1403,1296 1411,1294 1417,1292C1422,1289 1430,1284 1439,1283C1449,1282 1467,1282 1473,1285C1480,1288 1475,1296 1478,1299C1481,1302 1488,1304 1492,1303C1495,1303 1496,1296 1498,1296C1500,1297 1503,1304 1503,1308C1503,1312 1501,1319 1496,1321C1491,1324 1481,1323 1473,1321C1466,1320 1458,1315 1451,1312C1443,1310 1436,1310 1428,1308C1420,1305 1407,1301 1405,1299Z"/>
<path fill="#fbe2d4" d="M1405,1226C1407,1221 1416,1216 1421,1215C1426,1213 1431,1213 1435,1215C1438,1216 1440,1222 1442,1226C1443,1230 1446,1236 1444,1240C1442,1243 1434,1246 1428,1246C1422,1247 1414,1248 1410,1244C1406,1241 1403,1231 1405,1226Z"/>
<path fill="#fbe2d4" d="M1530,1258C1531,1256 1539,1254 1544,1256C1548,1257 1554,1264 1558,1267C1561,1270 1564,1273 1564,1276C1565,1279 1562,1282 1560,1283C1557,1284 1552,1283 1548,1280C1545,1278 1542,1273 1539,1269C1536,1265 1529,1260 1530,1258Z"/>
<path fill="#fbe2d4" d="M1580,1267C1581,1265 1587,1269 1589,1271C1591,1274 1592,1279 1592,1280C1591,1282 1587,1285 1585,1283C1583,1281 1579,1269 1580,1267Z"/>
<path fill="#fbe2d4" d="M1498,1310C1499,1307 1508,1309 1512,1310C1516,1311 1520,1314 1521,1317C1522,1320 1521,1327 1519,1328C1517,1330 1511,1329 1508,1326C1504,1323 1498,1313 1498,1310Z"/>
<path fill="#fbe2d4" d="M1530,1310C1533,1307 1545,1311 1553,1312C1560,1314 1568,1318 1576,1319C1584,1320 1598,1310 1602,1317C1606,1323 1606,1351 1602,1358C1598,1365 1584,1360 1576,1358C1568,1355 1559,1346 1553,1344C1547,1342 1545,1349 1542,1346C1539,1344 1537,1337 1535,1330C1533,1324 1527,1313 1530,1310Z"/>
<path fill="#fbe2d4" d="M1446,1367C1448,1360 1455,1356 1460,1356C1464,1355 1467,1361 1473,1362C1479,1363 1489,1363 1496,1362C1504,1362 1511,1359 1519,1360C1526,1361 1540,1363 1542,1367C1543,1370 1534,1377 1530,1380C1526,1384 1523,1386 1519,1390C1515,1393 1519,1397 1508,1399C1496,1400 1461,1404 1451,1399C1440,1393 1445,1374 1446,1367Z"/>
<path fill="#fbe2d4" d="M1564,1296C1565,1296 1570,1297 1571,1299C1572,1300 1570,1305 1569,1306C1568,1306 1565,1305 1564,1303C1564,1302 1563,1297 1564,1296Z"/>
<path fill="#fbe2d4" d="M1602,1165C1606,1158 1618,1169 1625,1169C1632,1170 1638,1165 1643,1167C1648,1169 1652,1178 1654,1183C1656,1188 1657,1193 1654,1196C1651,1200 1642,1204 1636,1206C1630,1207 1626,1207 1620,1208C1615,1208 1605,1215 1602,1208C1599,1201 1598,1171 1602,1165Z"/>
<path fill="#fbe2d4" d="M1688,1146C1691,1145 1706,1143 1711,1144C1716,1146 1716,1152 1720,1156C1725,1159 1732,1160 1738,1162C1744,1165 1751,1168 1756,1171C1762,1175 1766,1180 1770,1185C1775,1190 1781,1196 1784,1201C1786,1206 1788,1215 1786,1217C1784,1219 1777,1215 1772,1212C1768,1210 1766,1204 1761,1201C1756,1198 1749,1194 1743,1192C1737,1190 1732,1190 1727,1187C1722,1185 1719,1180 1716,1176C1712,1172 1708,1168 1704,1165C1700,1161 1696,1159 1693,1156C1690,1152 1685,1148 1688,1146Z"/>
<path fill="#fbe2d4" d="M1663,1206C1668,1202 1684,1204 1693,1206C1702,1207 1708,1214 1716,1217C1723,1220 1733,1221 1738,1224C1744,1226 1746,1228 1750,1230C1753,1233 1755,1237 1761,1240C1767,1242 1777,1244 1784,1244C1790,1244 1796,1240 1800,1242C1804,1243 1806,1249 1806,1253C1807,1257 1802,1263 1802,1267C1802,1271 1804,1274 1806,1276C1809,1278 1812,1279 1818,1280C1823,1282 1835,1281 1840,1283C1846,1284 1848,1288 1852,1290C1856,1291 1860,1293 1863,1294C1867,1295 1869,1296 1875,1296C1880,1297 1890,1297 1897,1299C1904,1301 1910,1305 1916,1308C1921,1311 1926,1314 1931,1317C1937,1320 1945,1322 1947,1326C1949,1330 1944,1337 1943,1342C1941,1346 1939,1349 1938,1353C1937,1357 1939,1364 1938,1367C1937,1369 1934,1370 1931,1369C1928,1368 1924,1363 1920,1360C1916,1357 1912,1355 1909,1353C1905,1351 1901,1350 1897,1349C1894,1347 1890,1343 1886,1342C1882,1340 1878,1340 1875,1340C1871,1340 1867,1342 1863,1342C1860,1341 1856,1339 1852,1337C1848,1335 1844,1333 1840,1330C1837,1328 1833,1326 1829,1324C1825,1322 1822,1321 1818,1319C1814,1317 1810,1314 1806,1312C1803,1310 1798,1310 1795,1308C1792,1305 1791,1300 1788,1296C1786,1293 1784,1289 1779,1285C1775,1281 1766,1276 1761,1274C1756,1271 1754,1270 1750,1269C1745,1268 1739,1268 1734,1267C1728,1266 1722,1264 1716,1262C1709,1261 1700,1260 1693,1258C1685,1256 1675,1256 1670,1251C1666,1246 1667,1236 1666,1228C1664,1221 1659,1209 1663,1206Z"/>
<path fill="#fbe2d4" d="M1602,1237C1606,1231 1620,1234 1625,1235C1630,1236 1628,1241 1632,1244C1635,1247 1643,1249 1647,1253C1652,1257 1655,1262 1659,1267C1663,1271 1669,1276 1670,1280C1671,1285 1669,1292 1666,1296C1662,1301 1654,1305 1647,1308C1641,1310 1630,1313 1625,1312C1619,1312 1616,1308 1613,1303C1610,1299 1608,1290 1606,1285C1605,1280 1603,1282 1602,1274C1601,1266 1598,1244 1602,1237Z"/>
<path fill="#fbe2d4" d="M1675,1285C1677,1280 1688,1280 1693,1280C1698,1281 1699,1288 1704,1290C1709,1291 1717,1288 1722,1290C1728,1291 1735,1295 1738,1299C1742,1302 1745,1308 1745,1312C1745,1316 1746,1322 1741,1324C1736,1325 1723,1323 1716,1321C1708,1320 1704,1319 1697,1317C1691,1315 1681,1313 1677,1308C1673,1302 1672,1290 1675,1285Z"/>
<path fill="#fbe2d4" d="M1602,1317C1604,1312 1610,1321 1613,1324C1617,1327 1621,1332 1625,1335C1628,1338 1632,1341 1636,1344C1640,1347 1644,1348 1647,1351C1651,1354 1656,1359 1659,1362C1661,1366 1665,1371 1663,1374C1661,1376 1652,1376 1647,1376C1643,1376 1640,1373 1636,1371C1632,1370 1628,1367 1625,1364C1621,1362 1617,1360 1613,1358C1610,1356 1604,1360 1602,1353C1600,1346 1600,1322 1602,1317Z"/>
<path fill="#fbe2d4" d="M1825,1221C1825,1218 1831,1218 1834,1219C1837,1221 1841,1227 1843,1230C1844,1234 1845,1240 1843,1242C1841,1243 1832,1243 1829,1240C1826,1236 1824,1225 1825,1221Z"/>
<path fill="#fbe2d4" d="M1847,1217C1849,1213 1859,1210 1863,1212C1868,1214 1872,1223 1875,1228C1878,1234 1880,1240 1881,1244C1883,1248 1887,1251 1886,1253C1885,1255 1878,1257 1875,1256C1871,1254 1867,1248 1863,1244C1860,1240 1855,1237 1852,1233C1849,1228 1846,1220 1847,1217Z"/>
<path fill="#fbe2d4" d="M1893,1233C1895,1231 1902,1230 1909,1230C1915,1230 1924,1231 1931,1233C1939,1234 1948,1236 1954,1240C1961,1243 1965,1248 1970,1253C1975,1259 1981,1268 1984,1274C1987,1279 1989,1282 1988,1285C1987,1288 1981,1290 1977,1290C1973,1289 1969,1284 1966,1280C1962,1277 1958,1270 1954,1267C1950,1264 1948,1263 1943,1262C1937,1262 1927,1263 1920,1262C1913,1261 1906,1259 1902,1256C1898,1252 1897,1248 1895,1244C1894,1240 1891,1235 1893,1233Z"/>
<path fill="#fbe2d4" d="M1950,1126C1953,1124 1978,1125 1988,1126C1998,1127 2003,1132 2011,1133C2018,1134 2026,1132 2034,1130C2042,1129 2056,1117 2060,1126C2064,1135 2062,1174 2060,1183C2058,1192 2049,1184 2045,1180C2041,1177 2037,1169 2034,1165C2030,1160 2026,1157 2022,1153C2018,1150 2017,1146 2011,1144C2005,1142 1996,1141 1988,1140C1981,1138 1972,1137 1966,1135C1959,1133 1946,1128 1950,1126Z"/>
<path fill="#fbe2d4" d="M1986,1208C1988,1207 1995,1214 2000,1217C2004,1220 2008,1222 2011,1228C2014,1234 2018,1249 2018,1253C2018,1257 2014,1255 2011,1253C2008,1251 2003,1245 2000,1240C1996,1235 1990,1229 1988,1224C1986,1218 1984,1209 1986,1208Z"/>
<path fill="#fbe2d4" d="M1984,1276C1986,1271 1993,1271 2000,1271C2006,1271 2015,1274 2022,1276C2030,1278 2039,1282 2045,1285C2051,1288 2058,1288 2060,1296C2062,1305 2064,1331 2060,1337C2056,1344 2042,1335 2034,1335C2026,1335 2018,1336 2011,1337C2003,1338 1993,1344 1988,1342C1983,1340 1982,1332 1981,1326C1981,1319 1983,1312 1984,1303C1984,1295 1981,1281 1984,1276Z"/>
<path fill="#fbe2d4" d="M1881,1171C1883,1169 1893,1168 1897,1169C1902,1170 1905,1176 1909,1178C1912,1181 1920,1183 1920,1185C1920,1187 1914,1190 1909,1190C1903,1189 1893,1186 1888,1183C1884,1180 1880,1174 1881,1171Z"/>
<path fill="#fbe2d4" d="M1909,1167C1909,1166 1914,1168 1916,1169C1917,1170 1919,1173 1918,1174C1917,1174 1913,1175 1911,1174C1909,1173 1908,1168 1909,1167Z"/>
<path fill="#fbe2d4" d="M2018,1394C2021,1393 2034,1393 2038,1394C2043,1395 2048,1400 2045,1401C2042,1402 2022,1402 2018,1401C2013,1400 2014,1395 2018,1394Z"/>
<path fill="#fbe2d4" d="M2054,1171C2055,1170 2059,1170 2060,1171C2061,1173 2061,1181 2060,1183C2059,1185 2055,1185 2054,1183C2053,1181 2053,1173 2054,1171Z"/>
<path fill="#dbe9f1" d="M323,653C328,648 344,645 353,644C362,644 370,647 376,651C381,655 384,660 387,667C390,673 392,682 392,690C392,697 390,707 387,712C384,718 379,720 376,724C372,727 368,732 364,735C361,738 359,741 355,740C351,738 345,730 342,724C338,718 335,711 332,703C330,696 327,687 326,678C324,670 319,659 323,653Z"/>
<path fill="#dbe9f1" d="M228,753C232,742 243,748 251,746C258,744 268,740 273,742C279,744 285,752 285,758C285,763 277,770 273,776C270,782 266,787 262,792C258,796 256,799 251,803C245,807 232,823 228,814C224,806 224,765 228,753Z"/>
<path fill="#dbe9f1" d="M285,724C287,717 301,715 308,717C314,719 322,728 323,735C325,742 322,752 319,758C316,763 312,769 308,769C303,769 295,765 292,758C288,750 282,730 285,724Z"/>
<path fill="#dbe9f1" d="M355,576C362,572 380,574 387,576C394,578 398,585 398,590C398,594 393,600 387,603C381,607 371,611 364,610C357,609 348,604 346,599C345,593 348,580 355,576Z"/>
<path fill="#dbe9f1" d="M228,590C230,583 234,584 237,585C240,587 245,593 246,599C247,605 245,617 242,621C239,626 230,631 228,626C226,621 226,596 228,590Z"/>
<path fill="#dbe9f1" d="M308,610C309,607 316,604 319,606C322,607 326,617 326,621C326,626 322,630 319,630C316,631 312,629 310,626C308,623 306,614 308,610Z"/>
<path fill="#dbe9f1" d="M569,610C578,603 593,599 603,599C612,599 620,604 626,610C631,616 639,625 637,633C635,640 622,648 614,656C607,663 599,673 592,678C584,684 576,686 569,690C561,693 554,697 546,701C539,705 528,714 523,712C519,710 517,697 519,690C521,682 530,674 535,667C539,659 540,654 546,644C552,635 559,618 569,610Z"/>
<path fill="#dbe9f1" d="M512,717C518,712 537,710 546,708C556,706 561,702 569,703C576,704 586,709 592,712C597,716 605,720 603,724C601,727 588,734 580,735C573,736 565,730 557,730C550,731 542,739 535,740C527,740 516,739 512,735C508,731 506,721 512,717Z"/>
<path fill="#dbe9f1" d="M637,644C643,635 652,637 660,633C668,629 682,604 686,621C690,638 688,714 686,735C684,756 677,746 671,746C665,746 655,741 648,735C642,729 636,720 632,712C629,705 625,701 626,690C626,678 631,654 637,644Z"/>
<path fill="#dbe9f1" d="M523,758C529,755 546,758 557,758C569,757 578,752 592,753C605,754 621,760 637,762C653,765 678,764 686,769C694,774 694,788 686,792C678,796 653,793 637,792C621,791 607,787 592,785C576,783 557,782 546,780C535,779 527,780 523,776C520,772 518,761 523,758Z"/>
<path fill="#dbe9f1" d="M455,803C459,796 470,793 478,792C485,791 493,795 501,799C508,802 516,810 523,814C531,819 539,822 546,826C554,830 569,833 569,837C569,841 561,849 546,851C531,853 493,853 478,851C463,849 459,845 455,837C451,829 451,811 455,803Z"/>
<path fill="#dbe9f1" d="M592,803C595,797 607,797 614,799C622,800 635,808 637,814C639,821 631,831 626,837C620,843 609,851 603,851C597,851 593,845 592,837C590,829 588,810 592,803Z"/>
<path fill="#dbe9f1" d="M660,803C662,799 682,799 686,803C690,807 688,822 686,826C684,830 675,830 671,826C667,822 657,807 660,803Z"/>
<path fill="#dbe9f1" d="M512,599C515,595 529,590 535,590C540,590 546,595 546,599C546,602 540,610 535,612C530,615 520,617 516,615C513,612 509,603 512,599Z"/>
<path fill="#dbe9f1" d="M913,856C915,853 928,867 936,869C943,871 953,867 959,869C964,872 966,879 968,885C969,892 969,902 968,908C966,913 962,919 959,919C955,920 951,913 947,910C944,907 940,907 936,903C932,899 928,893 924,885C921,877 911,858 913,856Z"/>
<path fill="#dbe9f1" d="M974,851C976,848 988,847 993,851C998,855 1001,869 1004,874C1007,879 1009,879 1009,880C1008,882 1004,885 1000,883C995,881 985,874 981,869C977,864 973,854 974,851Z"/>
<path fill="#dbe9f1" d="M1050,851C1051,849 1072,850 1084,851C1095,852 1108,856 1118,856C1128,856 1140,849 1144,851C1148,853 1148,862 1144,865C1140,867 1126,865 1118,865C1110,865 1102,865 1095,865C1087,864 1080,862 1072,860C1065,858 1048,853 1050,851Z"/>
<path fill="#dbe9f1" d="M1061,880C1065,878 1076,883 1084,885C1091,887 1099,889 1106,892C1114,895 1123,900 1129,901C1135,902 1142,894 1144,896C1146,899 1148,911 1144,915C1140,918 1126,918 1118,919C1110,920 1102,920 1095,919C1087,918 1078,918 1072,915C1067,912 1063,907 1061,901C1059,895 1057,883 1061,880Z"/>
<path fill="#dbe9f1" d="M974,921C976,917 986,915 993,915C1000,914 1008,917 1015,919C1023,922 1032,927 1038,930C1044,934 1044,938 1050,942C1055,946 1065,951 1072,953C1080,955 1087,955 1095,953C1102,951 1112,945 1118,942C1123,939 1125,937 1129,937C1133,937 1142,934 1144,942C1146,950 1148,980 1144,987C1140,995 1126,987 1118,987C1110,988 1102,990 1095,992C1087,993 1080,996 1072,996C1065,996 1057,995 1050,992C1042,989 1032,983 1027,978C1021,974 1021,969 1015,965C1010,960 998,957 993,953C987,949 984,947 981,942C978,937 973,926 974,921Z"/>
<path fill="#dbe9f1" d="M954,960C956,956 964,951 970,951C976,951 984,956 988,958C992,960 996,963 993,965C990,966 976,968 970,969C964,971 961,975 959,974C956,972 952,964 954,960Z"/>
<path fill="#dbe9f1" d="M965,1006C968,1004 977,1004 981,1006C985,1007 990,1012 990,1015C990,1017 985,1021 981,1021C978,1022 970,1019 968,1017C965,1014 963,1007 965,1006Z"/>
<path fill="#dbe9f1" d="M936,1015C938,1012 949,1015 954,1017C959,1019 965,1025 968,1028C970,1032 970,1035 968,1037C965,1039 958,1040 954,1040C950,1039 946,1037 943,1033C940,1029 934,1017 936,1015Z"/>
<path fill="#dbe9f1" d="M995,1046C997,1045 1008,1046 1015,1046C1023,1047 1031,1051 1038,1051C1046,1051 1053,1047 1061,1046C1068,1046 1076,1048 1084,1049C1092,1050 1107,1051 1109,1053C1110,1055 1103,1059 1095,1060C1087,1061 1072,1060 1061,1060C1050,1060 1036,1061 1027,1060C1017,1059 1009,1058 1004,1056C999,1053 993,1048 995,1046Z"/>
<path fill="#dbe9f1" d="M1040,1010C1043,1008 1056,1008 1061,1010C1066,1012 1072,1017 1072,1019C1072,1021 1065,1023 1061,1024C1056,1024 1048,1024 1045,1021C1042,1019 1038,1012 1040,1010Z"/>
<path fill="#dbe9f1" d="M965,1069C969,1066 984,1067 993,1067C1001,1067 1008,1068 1015,1069C1023,1070 1029,1072 1038,1074C1048,1075 1064,1076 1072,1078C1081,1081 1088,1086 1088,1090C1088,1093 1079,1096 1072,1096C1066,1096 1059,1092 1050,1090C1040,1087 1025,1083 1015,1083C1006,1082 1000,1087 993,1087C985,1087 975,1086 970,1083C965,1080 962,1072 965,1069Z"/>
<path fill="#dbe9f1" d="M936,1101C940,1097 951,1102 959,1103C966,1104 974,1105 981,1105C989,1106 997,1106 1004,1108C1012,1109 1019,1112 1027,1114C1034,1117 1042,1122 1050,1124C1057,1126 1091,1126 1072,1126C1053,1126 959,1130 936,1126C913,1122 932,1105 936,1101Z"/>
<path fill="#dbe9f1" d="M1106,1094C1108,1091 1123,1095 1129,1096C1135,1098 1142,1098 1144,1101C1146,1104 1148,1110 1144,1112C1140,1114 1124,1115 1118,1112C1111,1109 1104,1097 1106,1094Z"/>
<path fill="#dbe9f1" d="M1118,1006C1120,1001 1140,996 1144,999C1148,1002 1146,1020 1144,1024C1142,1028 1133,1027 1129,1024C1125,1021 1115,1010 1118,1006Z"/>
<path fill="#dbe9f1" d="M924,926C926,924 935,925 938,928C942,932 945,943 945,946C945,950 941,950 938,949C936,948 931,943 929,940C927,936 923,928 924,926Z"/>
<path fill="#dbe9f1" d="M1100,919C1101,917 1114,918 1118,919C1121,921 1124,926 1122,928C1121,930 1112,932 1109,930C1105,929 1098,921 1100,919Z"/>
<path fill="#dbe9f1" d="M252,312C254,309 262,308 266,308C270,308 273,310 276,311C279,313 282,314 283,316C284,318 281,321 282,324C282,326 285,329 287,331C290,333 293,334 296,335C300,337 301,339 306,339C310,338 318,336 322,334C325,333 325,331 326,330C327,328 325,326 326,324C327,322 330,321 333,319C336,318 339,317 342,315C345,313 345,309 349,308C352,306 358,306 363,306C367,305 374,306 376,307C379,308 380,310 379,312C377,315 369,319 365,322C361,324 359,326 357,328C355,331 353,333 351,335C349,337 347,340 346,342C344,344 342,347 340,349C338,351 336,353 334,355C332,356 329,356 326,356C324,356 322,355 319,355C317,354 315,352 312,352C310,353 306,356 302,358C299,360 296,363 292,365C288,367 284,368 280,370C277,371 277,373 274,374C271,375 265,376 262,375C260,374 259,372 258,370C256,367 254,363 254,360C254,357 255,354 256,351C258,349 262,348 262,346C263,343 261,338 260,335C259,332 257,331 255,327C254,323 250,316 252,312Z"/>
<path fill="#dbe9f1" d="M274,404C276,401 280,397 285,395C290,392 296,388 301,388C306,387 310,390 315,390C320,390 326,389 331,388C335,387 339,382 342,383C345,384 347,389 347,392C347,395 345,400 342,401C339,403 334,403 331,404C327,404 323,403 319,404C316,405 312,408 308,409C304,411 300,413 296,415C293,417 288,420 285,422C282,424 279,426 276,426C273,426 270,424 269,422C268,420 271,416 271,413C272,410 271,407 274,404Z"/>
<path fill="#dbe9f1" d="M356,365C358,362 362,361 365,358C368,355 370,352 372,349C374,346 375,344 376,342C378,340 380,337 382,335C384,333 388,331 390,331C392,330 396,331 397,333C398,335 396,339 395,342C393,345 390,346 388,349C386,352 384,357 383,360C382,364 382,366 381,370C380,373 378,377 379,381C379,384 382,387 383,390C385,393 387,396 388,399C388,402 387,406 385,408C384,410 379,412 376,413C373,413 371,412 368,410C366,409 364,406 363,404C361,401 361,397 359,395C358,392 355,390 354,388C352,385 349,383 349,381C349,379 352,377 354,374C355,371 354,368 356,365Z"/>
<path fill="#dbe9f1" d="M399,342C402,339 407,339 410,340C414,340 419,342 422,344C425,347 426,350 429,354C432,357 436,361 439,365C442,368 445,371 445,374C445,377 441,380 440,383C440,387 442,391 442,395C442,398 442,401 440,404C439,407 436,410 433,413C430,416 426,419 422,421C418,423 415,426 410,426C406,427 401,427 397,426C393,426 390,423 388,421C386,418 385,414 385,410C386,407 388,404 390,401C392,398 393,396 395,392C396,389 399,385 399,381C399,377 398,373 397,370C396,366 394,363 395,358C395,353 396,345 399,342Z"/>
<path fill="#dbe9f1" d="M410,410C413,409 419,407 422,408C425,409 427,412 429,415C431,418 433,421 433,424C433,427 431,430 429,433C427,436 427,440 422,441C417,442 404,442 399,441C394,440 393,436 393,433C393,430 397,427 399,424C401,422 404,420 406,417C408,415 408,412 410,410Z"/>
<path fill="#dbe9f1" d="M325,417C328,416 333,413 336,413C340,412 345,414 348,415C351,417 352,420 354,422C355,424 357,426 359,429C361,432 370,439 365,441C360,443 338,442 331,441C323,440 324,436 322,433C319,431 317,429 317,426C317,424 318,422 319,421C321,419 322,419 325,417Z"/>
<path fill="#dbe9f1" d="M442,308C444,305 448,306 450,306C453,305 457,297 458,306C459,314 459,350 458,358C457,366 454,357 452,356C449,354 446,352 445,349C443,345 443,340 442,335C442,331 440,326 440,322C440,317 441,310 442,308Z"/>
<path fill="#dbe9f1" d="M228,431C230,429 236,429 239,429C243,429 247,430 251,431C255,432 259,434 262,436C265,437 275,440 269,441C263,442 235,443 228,441C221,439 226,433 228,431Z"/>
<path fill="#dbe9f1" d="M627,356C630,353 643,354 650,355C657,355 662,357 667,358C672,359 678,358 678,360C679,362 678,368 673,370C668,371 657,372 650,372C643,372 637,372 633,370C629,367 624,358 627,356Z"/>
<path fill="#dbe9f1" d="M650,398C651,397 655,401 661,401C667,402 682,398 686,400C690,403 689,413 686,415C683,418 672,416 667,415C662,414 659,411 656,408C653,405 649,399 650,398Z"/>
<path fill="#dbe9f1" d="M627,372C629,371 635,371 638,372C642,372 649,374 650,375C651,377 648,380 644,381C641,381 632,380 629,379C627,377 626,373 627,372Z"/>
<path fill="#dbe9f1" d="M228,453C231,445 239,450 245,450C251,450 256,453 262,453C268,453 277,450 283,450C289,451 292,455 296,457C301,460 304,464 308,466C312,469 315,471 319,473C324,476 332,480 336,482C341,485 343,487 348,489C353,492 360,495 365,498C370,501 376,505 376,508C376,510 370,512 365,512C360,512 353,509 348,508C343,506 340,504 336,503C333,501 329,499 325,498C321,497 318,497 314,496C309,495 302,495 296,494C291,492 284,488 279,487C275,485 272,484 268,485C264,485 260,488 256,490C253,492 250,495 245,496C240,497 231,506 228,498C225,491 225,461 228,453Z"/>
<path fill="#dbe9f1" d="M228,503C232,495 243,502 251,503C258,504 267,507 274,510C280,512 286,517 292,519C298,520 302,518 308,519C313,520 319,524 325,526C331,528 337,528 342,530C347,532 353,535 354,537C354,539 352,541 348,542C344,542 336,540 331,539C325,539 319,538 314,537C308,537 303,536 296,536C290,536 280,536 274,537C267,538 262,540 256,542C251,543 244,546 239,547C235,549 230,556 228,548C226,541 224,510 228,503Z"/>
<path fill="#dbe9f1" d="M296,542C301,541 312,546 319,547C327,549 334,551 342,553C350,555 359,557 365,559C371,561 376,563 376,564C376,566 371,570 365,570C359,571 350,568 342,567C334,566 326,566 319,564C313,563 307,562 302,560C297,558 292,554 291,551C290,548 292,542 296,542Z"/>
<path fill="#dbe9f1" d="M376,439C381,437 391,442 399,444C407,445 414,447 422,448C430,449 439,450 445,450C451,451 456,448 458,450C460,452 462,460 458,462C454,464 441,463 433,464C425,465 418,467 410,466C403,466 394,464 388,462C381,460 372,456 371,453C369,449 372,441 376,439Z"/>
<path fill="#dbe9f1" d="M399,513C401,510 414,509 422,510C430,510 439,515 445,517C451,518 456,517 458,519C460,521 462,528 458,530C454,533 441,533 433,533C425,532 416,531 410,528C405,525 397,516 399,513Z"/>
<path fill="#dbe9f1" d="M376,542C378,539 391,543 399,544C407,545 414,546 422,547C430,549 439,551 445,553C451,555 456,556 458,559C460,562 462,569 458,570C454,572 441,568 433,567C425,565 418,564 410,562C403,561 393,561 388,558C382,554 374,544 376,542Z"/>
<path fill="#dbe9f1" d="M371,471C371,468 381,468 388,469C394,469 405,471 410,473C416,476 422,482 422,485C422,487 416,490 410,490C405,491 394,490 388,487C381,484 371,474 371,471Z"/>
<path fill="#dbe9f1" d="M228,564C231,562 239,562 245,562C251,563 257,564 262,567C267,570 279,577 274,579C268,581 236,581 228,579C220,577 225,567 228,564Z"/>
<path fill="#dbe9f1" d="M499,466C500,462 505,461 508,458C512,456 517,454 520,453C523,451 524,452 527,450C529,449 532,446 536,445C539,444 544,443 547,444C551,445 555,448 559,450C562,452 569,454 570,456C571,459 567,463 564,465C562,468 558,468 556,471C554,474 553,479 553,482C553,486 557,487 556,490C555,494 549,497 547,502C545,506 546,514 545,519C544,524 544,526 543,530C542,534 541,539 538,542C535,545 529,548 527,547C524,546 526,539 524,536C523,533 521,529 520,530C518,531 516,538 515,542C514,546 514,547 513,553C512,559 516,575 511,579C506,583 490,581 484,579C479,577 479,569 479,564C478,560 479,557 481,553C483,549 488,546 490,542C492,538 493,534 494,530C494,526 494,523 495,519C496,515 498,511 499,508C501,504 501,500 502,496C502,492 504,490 504,485C504,480 499,471 499,466Z"/>
<path fill="#dbe9f1" d="M627,439C635,436 652,439 661,439C671,439 682,430 686,439C690,448 688,485 686,496C684,507 677,504 673,508C669,511 662,513 661,519C660,525 665,535 667,542C669,548 670,555 673,559C676,563 684,561 686,564C688,568 689,577 686,579C683,581 671,581 667,579C663,577 663,570 661,564C660,559 659,552 656,547C653,543 648,541 644,536C640,531 636,524 633,519C630,514 627,511 627,508C627,504 631,499 634,496C637,493 642,491 644,487C647,483 651,476 650,473C649,470 642,469 638,468C635,466 631,462 627,462C623,462 620,466 616,468C612,469 604,473 604,471C604,469 612,461 616,456C620,451 619,442 627,439Z"/>
<path fill="#dbe9f1" d="M593,496C594,494 598,493 600,494C602,495 605,498 606,501C606,503 605,506 603,508C601,509 597,509 595,508C593,506 592,498 593,496Z"/>
<path fill="#dbe9f1" d="M559,536C562,534 576,532 582,533C587,534 589,538 591,542C592,545 591,549 591,553C590,557 590,561 587,564C585,568 581,573 576,576C571,578 563,580 559,579C554,578 548,574 547,570C546,567 551,563 553,559C555,555 560,551 561,547C562,544 555,538 559,536Z"/>
<path fill="#dbe9f1" d="M610,553C612,550 622,549 627,547C632,546 635,543 638,544C642,545 647,548 650,551C653,554 656,558 656,562C656,567 657,576 650,579C643,582 622,581 616,579C610,577 614,571 613,567C612,562 608,556 610,553Z"/>
<path fill="#dbe9f1" d="M456,477C458,475 463,477 465,479C467,481 468,485 467,487C467,489 462,490 461,490C459,491 457,491 456,489C455,487 454,478 456,477Z"/>
<path fill="#dbe9f1" d="M625,517C626,515 630,516 632,517C633,518 635,521 634,522C633,523 629,524 627,523C626,522 624,518 625,517Z"/>
<path fill="#dbe9f1" d="M456,439C460,436 476,437 479,439C482,441 476,448 473,450C470,453 466,453 463,454C460,455 457,459 456,456C455,454 452,442 456,439Z"/>
<path fill="#dbe9f1" d="M1144,851C1147,848 1157,850 1160,851C1163,852 1165,855 1162,858C1160,860 1147,868 1144,867C1141,866 1141,854 1144,851Z"/>
<path fill="#dbe9f1" d="M1196,851C1199,849 1213,850 1217,851C1220,852 1219,856 1217,858C1214,859 1206,861 1203,860C1200,859 1194,853 1196,851Z"/>
<path fill="#dbe9f1" d="M1274,867C1274,865 1284,864 1289,865C1294,865 1298,868 1303,871C1308,875 1313,884 1317,887C1320,890 1322,889 1326,890C1329,890 1336,890 1339,892C1343,894 1348,899 1348,901C1349,903 1347,905 1344,906C1341,906 1336,907 1333,906C1329,904 1327,899 1324,896C1320,894 1316,891 1312,890C1308,888 1303,887 1298,885C1294,883 1289,879 1285,876C1281,873 1273,869 1274,867Z"/>
<path fill="#dbe9f1" d="M1371,856C1357,857 1383,856 1394,858C1405,859 1431,861 1439,865C1448,868 1441,876 1446,880C1452,885 1465,887 1473,890C1482,892 1490,893 1496,896C1502,900 1502,906 1508,910C1513,914 1523,917 1530,919C1538,922 1543,924 1553,926C1562,928 1579,933 1587,933C1595,933 1600,940 1602,926C1604,912 1612,864 1602,851C1592,838 1554,849 1542,851C1530,853 1530,856 1530,860C1530,865 1542,874 1542,878C1542,882 1536,886 1530,885C1525,884 1515,878 1508,874C1500,869 1489,862 1485,858C1480,854 1499,851 1480,851C1461,851 1386,854 1371,856Z"/>
<path fill="#dbe9f1" d="M1324,856C1330,853 1364,851 1371,853C1379,856 1373,868 1369,871C1365,875 1355,877 1348,876C1342,875 1334,870 1330,867C1326,863 1317,858 1324,856Z"/>
<path fill="#dbe9f1" d="M1396,892C1400,890 1412,890 1417,892C1421,893 1423,899 1421,901C1419,903 1409,906 1405,906C1401,906 1398,903 1396,901C1395,899 1393,893 1396,892Z"/>
<path fill="#dbe9f1" d="M1382,910C1385,908 1398,911 1405,912C1413,914 1422,916 1428,919C1434,923 1434,929 1439,933C1445,937 1455,940 1462,942C1470,943 1477,941 1485,942C1492,943 1503,943 1508,946C1512,949 1514,956 1512,960C1510,964 1503,967 1496,969C1490,971 1479,973 1473,971C1468,970 1468,963 1462,960C1456,957 1445,954 1439,951C1434,948 1434,945 1428,942C1422,939 1412,936 1405,933C1399,930 1393,927 1389,924C1386,920 1380,912 1382,910Z"/>
<path fill="#dbe9f1" d="M1453,974C1455,972 1466,971 1473,971C1481,972 1489,976 1496,978C1504,981 1511,984 1519,987C1526,991 1534,996 1542,999C1549,1002 1558,1004 1564,1006C1571,1007 1580,1008 1580,1010C1580,1012 1571,1014 1564,1015C1558,1015 1547,1016 1542,1015C1536,1013 1536,1009 1530,1006C1525,1002 1515,999 1508,996C1500,993 1492,990 1485,987C1477,985 1467,985 1462,983C1457,981 1451,976 1453,974Z"/>
<path fill="#dbe9f1" d="M1578,949C1580,946 1598,945 1602,946C1606,948 1604,958 1602,960C1600,962 1591,962 1587,960C1583,958 1575,951 1578,949Z"/>
<path fill="#dbe9f1" d="M1280,908C1284,905 1296,903 1303,903C1310,904 1319,906 1324,910C1328,914 1333,921 1333,926C1332,931 1327,935 1321,937C1316,940 1305,939 1298,942C1292,945 1289,950 1285,953C1281,956 1277,956 1276,960C1275,964 1276,972 1280,976C1285,980 1298,983 1303,985C1308,987 1312,988 1310,990C1308,991 1298,994 1292,994C1285,994 1278,991 1269,990C1260,988 1241,987 1235,985C1228,983 1228,984 1230,980C1232,977 1244,971 1246,965C1249,958 1242,948 1246,942C1250,936 1263,934 1269,930C1275,927 1278,923 1280,919C1282,915 1277,910 1280,908Z"/>
<path fill="#dbe9f1" d="M1144,946C1145,932 1147,944 1148,946C1150,949 1148,959 1151,962C1154,965 1162,962 1167,965C1171,967 1177,970 1178,976C1180,982 1177,993 1176,999C1174,1004 1171,1004 1169,1010C1167,1016 1169,1029 1164,1033C1160,1037 1147,1049 1144,1035C1141,1021 1143,961 1144,946Z"/>
<path fill="#dbe9f1" d="M1187,990C1189,987 1197,981 1201,980C1205,980 1209,984 1210,987C1211,990 1209,997 1205,999C1202,1001 1192,1000 1189,999C1186,997 1185,993 1187,990Z"/>
<path fill="#dbe9f1" d="M1226,1006C1227,1001 1234,1003 1239,1003C1245,1004 1252,1006 1258,1008C1264,1010 1270,1012 1276,1015C1281,1017 1287,1021 1292,1024C1296,1027 1298,1032 1303,1033C1308,1033 1316,1028 1321,1028C1327,1028 1334,1029 1337,1033C1340,1036 1342,1047 1339,1051C1337,1055 1327,1057 1321,1058C1315,1058 1307,1057 1303,1056C1299,1054 1302,1050 1298,1046C1295,1043 1287,1036 1280,1033C1273,1030 1266,1029 1258,1028C1249,1028 1236,1034 1230,1030C1225,1027 1224,1010 1226,1006Z"/>
<path fill="#dbe9f1" d="M1167,1060C1170,1054 1183,1049 1189,1046C1196,1044 1204,1041 1208,1044C1211,1047 1210,1061 1212,1065C1215,1068 1224,1065 1224,1067C1224,1069 1216,1074 1212,1076C1208,1078 1208,1080 1201,1080C1193,1081 1172,1084 1167,1080C1161,1077 1163,1066 1167,1060Z"/>
<path fill="#dbe9f1" d="M1235,1101C1239,1094 1250,1089 1258,1087C1265,1085 1273,1088 1280,1090C1288,1091 1295,1094 1303,1096C1311,1098 1323,1098 1330,1101C1337,1104 1342,1108 1344,1112C1346,1116 1362,1124 1344,1126C1326,1128 1253,1130 1235,1126C1217,1122 1231,1107 1235,1101Z"/>
<path fill="#dbe9f1" d="M1358,1067C1364,1063 1385,1064 1394,1065C1403,1065 1406,1067 1410,1069C1414,1071 1412,1074 1417,1076C1422,1078 1432,1080 1439,1083C1446,1085 1451,1087 1458,1090C1464,1092 1469,1094 1476,1096C1482,1098 1492,1096 1496,1101C1500,1106 1509,1122 1498,1126C1487,1130 1442,1128 1430,1126C1418,1124 1432,1115 1426,1112C1420,1109 1403,1110 1394,1108C1385,1106 1377,1104 1371,1101C1365,1098 1360,1095 1358,1090C1355,1084 1352,1071 1358,1067Z"/>
<path fill="#dbe9f1" d="M1480,1033C1484,1031 1501,1029 1508,1028C1514,1028 1515,1029 1521,1030C1527,1032 1538,1036 1542,1040C1545,1043 1545,1048 1542,1051C1538,1054 1525,1055 1519,1056C1512,1056 1509,1059 1503,1056C1497,1052 1489,1041 1485,1037C1481,1034 1476,1034 1480,1033Z"/>
<path fill="#dbe9f1" d="M1526,1065C1529,1062 1543,1062 1553,1062C1563,1063 1579,1068 1587,1069C1595,1070 1600,1064 1602,1069C1604,1074 1608,1096 1602,1101C1596,1106 1574,1100 1564,1099C1554,1097 1547,1095 1542,1092C1536,1088 1533,1083 1530,1078C1528,1074 1522,1067 1526,1065Z"/>
<path fill="#dbe9f1" d="M1144,1078C1145,1073 1150,1075 1151,1080C1152,1086 1150,1107 1148,1112C1147,1118 1145,1120 1144,1114C1143,1109 1143,1084 1144,1078Z"/>
<path fill="#dbe9f1" d="M1587,1114C1590,1112 1600,1110 1602,1112C1604,1114 1604,1124 1602,1126C1600,1128 1590,1128 1587,1126C1584,1124 1584,1117 1587,1114Z"/>
<path fill="#dbe9f1" d="M1537,896C1538,895 1546,893 1548,894C1551,895 1552,899 1551,901C1550,903 1544,906 1542,906C1539,905 1536,898 1537,896Z"/>
<path fill="#dbe9f1" d="M1212,867C1214,866 1221,866 1224,867C1226,868 1227,870 1226,871C1224,872 1217,873 1214,873C1212,872 1211,868 1212,867Z"/>
<path fill="#dbe9f1" d="M1158,933C1160,932 1169,931 1171,932C1174,932 1175,936 1174,937C1172,938 1163,938 1160,937C1157,937 1156,934 1158,933Z"/>
<path fill="#dbe9f1" d="M1144,894C1147,892 1157,893 1160,894C1163,895 1165,898 1162,901C1160,904 1147,911 1144,910C1141,909 1141,897 1144,894Z"/>
<path fill="#dbe9f1" d="M1613,856C1615,853 1630,853 1636,853C1643,854 1646,858 1652,860C1658,862 1663,865 1670,865C1677,865 1688,860 1693,860C1698,860 1702,864 1700,867C1698,870 1688,874 1682,876C1675,878 1666,876 1659,876C1651,876 1642,875 1636,874C1630,873 1628,872 1625,869C1621,866 1612,858 1613,856Z"/>
<path fill="#dbe9f1" d="M1632,896C1633,894 1644,890 1652,890C1660,890 1673,894 1682,896C1690,899 1698,903 1704,903C1711,903 1718,895 1720,896C1722,898 1721,907 1718,910C1715,913 1710,913 1704,912C1698,912 1689,909 1682,908C1674,907 1665,908 1659,908C1652,907 1647,907 1643,906C1638,904 1630,899 1632,896Z"/>
<path fill="#dbe9f1" d="M1706,871C1708,867 1720,868 1727,869C1734,870 1744,876 1750,878C1755,881 1757,883 1761,885C1765,887 1772,887 1775,890C1778,892 1781,898 1779,901C1777,904 1766,907 1761,908C1756,908 1753,905 1750,903C1746,902 1743,900 1738,899C1733,897 1725,899 1720,894C1715,890 1705,876 1706,871Z"/>
<path fill="#dbe9f1" d="M1602,885C1605,881 1616,880 1620,880C1625,881 1630,886 1629,890C1629,893 1620,901 1616,903C1611,906 1604,909 1602,906C1600,902 1599,889 1602,885Z"/>
<path fill="#dbe9f1" d="M1602,926C1604,921 1610,934 1616,937C1621,941 1629,945 1636,946C1643,948 1653,947 1659,946C1664,946 1668,945 1670,942C1672,939 1668,930 1670,930C1672,930 1678,938 1682,942C1685,945 1689,950 1693,951C1697,952 1700,948 1704,946C1708,945 1712,943 1716,942C1719,940 1723,938 1727,937C1731,937 1735,936 1738,937C1742,939 1746,944 1750,946C1753,948 1756,949 1761,949C1766,948 1772,943 1779,942C1786,941 1798,942 1802,944C1805,946 1805,951 1800,953C1795,956 1779,957 1772,960C1766,963 1765,965 1761,969C1757,973 1753,981 1750,983C1746,985 1743,984 1738,983C1733,982 1726,977 1720,976C1714,975 1711,978 1704,978C1698,979 1689,978 1682,978C1674,978 1666,978 1659,978C1651,978 1643,980 1636,978C1629,977 1624,971 1618,969C1612,967 1605,972 1602,965C1599,957 1600,931 1602,926Z"/>
<path fill="#dbe9f1" d="M1747,992C1749,988 1755,987 1761,987C1767,987 1777,991 1784,992C1791,993 1800,991 1802,994C1804,997 1798,1007 1795,1010C1792,1013 1789,1012 1784,1015C1778,1017 1767,1024 1761,1024C1755,1023 1752,1015 1750,1010C1747,1005 1746,996 1747,992Z"/>
<path fill="#dbe9f1" d="M1606,1049C1608,1047 1617,1046 1620,1046C1623,1047 1626,1049 1625,1051C1623,1052 1614,1056 1611,1056C1608,1055 1605,1050 1606,1049Z"/>
<path fill="#dbe9f1" d="M1602,1067C1603,1065 1608,1065 1609,1067C1610,1069 1610,1076 1609,1078C1608,1080 1603,1080 1602,1078C1601,1076 1601,1069 1602,1067Z"/>
<path fill="#dbe9f1" d="M1160,1130C1164,1128 1184,1129 1189,1130C1195,1132 1194,1137 1192,1140C1190,1143 1183,1148 1178,1149C1174,1149 1167,1147 1164,1144C1161,1141 1156,1133 1160,1130Z"/>
<path fill="#dbe9f1" d="M1167,1160C1170,1156 1194,1146 1201,1146C1208,1146 1204,1157 1208,1160C1211,1163 1218,1163 1224,1165C1229,1166 1238,1167 1242,1169C1245,1172 1243,1179 1246,1180C1250,1182 1258,1176 1262,1178C1266,1181 1268,1190 1271,1194C1274,1199 1280,1201 1280,1206C1281,1210 1277,1218 1274,1221C1270,1225 1267,1226 1262,1226C1258,1226 1251,1221 1246,1219C1242,1217 1238,1215 1235,1212C1232,1209 1233,1205 1230,1201C1227,1197 1224,1190 1217,1187C1210,1184 1196,1185 1189,1183C1183,1180 1182,1175 1178,1171C1174,1168 1163,1164 1167,1160Z"/>
<path fill="#dbe9f1" d="M1294,1126C1301,1123 1338,1122 1346,1126C1355,1130 1347,1145 1344,1149C1340,1153 1331,1149 1326,1151C1320,1153 1315,1162 1312,1162C1309,1163 1307,1156 1308,1153C1308,1151 1318,1148 1317,1146C1316,1144 1305,1145 1301,1142C1297,1138 1286,1129 1294,1126Z"/>
<path fill="#dbe9f1" d="M1319,1169C1320,1167 1328,1166 1330,1167C1333,1168 1334,1172 1333,1174C1331,1176 1326,1179 1324,1178C1321,1178 1318,1171 1319,1169Z"/>
<path fill="#dbe9f1" d="M1414,1137C1416,1135 1424,1133 1428,1133C1432,1133 1437,1136 1439,1137C1442,1139 1445,1142 1444,1144C1443,1146 1439,1148 1435,1149C1430,1149 1420,1151 1417,1149C1413,1147 1412,1140 1414,1137Z"/>
<path fill="#dbe9f1" d="M1432,1160C1432,1157 1444,1157 1451,1156C1458,1154 1464,1154 1473,1153C1483,1153 1498,1150 1508,1151C1517,1152 1526,1155 1530,1158C1535,1160 1539,1164 1535,1167C1531,1170 1518,1173 1508,1174C1497,1174 1483,1172 1473,1171C1464,1171 1458,1173 1451,1171C1444,1170 1432,1163 1432,1160Z"/>
<path fill="#dbe9f1" d="M1571,1149C1571,1146 1582,1147 1587,1146C1592,1146 1600,1142 1602,1144C1604,1147 1604,1160 1602,1162C1600,1165 1592,1162 1587,1160C1582,1158 1571,1151 1571,1149Z"/>
<path fill="#dbe9f1" d="M1532,1178C1536,1176 1548,1174 1553,1176C1558,1178 1564,1185 1564,1187C1564,1190 1558,1189 1553,1190C1548,1190 1538,1191 1535,1190C1531,1188 1529,1181 1532,1178Z"/>
<path fill="#dbe9f1" d="M1439,1201C1441,1199 1449,1200 1451,1201C1452,1202 1450,1206 1448,1208C1446,1209 1441,1211 1439,1210C1438,1209 1437,1203 1439,1201Z"/>
<path fill="#dbe9f1" d="M1464,1192C1466,1190 1473,1190 1476,1192C1478,1193 1480,1199 1478,1201C1476,1203 1469,1207 1467,1206C1464,1204 1463,1194 1464,1192Z"/>
<path fill="#ef9b7a" d="M419,615C421,611 429,611 432,612C436,613 440,616 442,621C443,627 443,639 442,644C440,649 436,650 432,651C429,652 424,652 421,649C418,646 417,638 417,633C416,627 416,618 419,615Z"/>
<path fill="#ef9b7a" d="M417,653C418,651 424,650 428,651C432,652 438,655 439,658C441,661 439,666 437,669C435,672 429,674 426,674C423,673 420,670 419,667C417,663 415,656 417,653Z"/>
<path fill="#ef9b7a" d="M419,690C420,687 425,686 428,687C431,688 434,694 435,696C435,699 435,700 432,701C430,702 423,703 421,701C419,699 418,692 419,690Z"/>
<path fill="#ef9b7a" d="M410,703C411,702 415,702 417,703C418,704 418,709 417,710C415,711 411,711 410,710C409,709 409,704 410,703Z"/>
<path fill="#ef9b7a" d="M276,696C278,694 284,692 287,694C291,696 295,704 296,708C297,711 295,713 292,715C288,716 279,716 276,715C273,713 273,709 273,706C273,702 273,698 276,696Z"/>
<path fill="#ef9b7a" d="M262,644C264,643 269,645 271,646C273,648 276,654 276,656C275,657 271,659 269,658C267,657 263,653 262,651C261,649 261,645 262,644Z"/>
<path fill="#ef9b7a" d="M271,615C272,613 277,617 278,619C279,622 279,629 278,630C277,632 272,631 271,628C270,626 270,616 271,615Z"/>
<path fill="#ef9b7a" d="M267,633C268,631 276,633 278,635C280,637 279,643 278,644C277,646 273,646 271,644C269,642 265,634 267,633Z"/>
<path fill="#ef9b7a" d="M289,635C290,634 295,634 296,635C297,636 297,639 296,640C295,640 290,640 289,640C288,639 288,636 289,635Z"/>
<path fill="#ef9b7a" d="M305,646C307,646 313,650 314,653C316,656 315,663 314,665C314,666 311,666 310,665C308,663 306,659 305,656C304,652 304,647 305,646Z"/>
<path fill="#ef9b7a" d="M305,687C306,686 311,686 312,687C314,688 315,693 314,694C314,695 309,695 308,694C306,693 304,688 305,687Z"/>
<path fill="#ef9b7a" d="M251,690C252,689 256,691 258,692C259,693 259,696 258,696C256,697 252,695 251,694C250,693 250,690 251,690Z"/>
<path fill="#ef9b7a" d="M228,642C229,639 233,638 235,640C236,641 238,648 237,651C236,654 232,655 230,656C229,656 228,658 228,656C228,653 227,645 228,642Z"/>
<path fill="#ef9b7a" d="M442,587C442,586 447,586 448,587C450,589 451,597 451,599C450,601 445,601 444,599C442,597 441,589 442,587Z"/>
<path fill="#ef9b7a" d="M512,640C514,637 519,637 521,640C523,642 524,650 523,653C523,657 518,660 516,660C515,660 513,657 512,653C511,650 510,642 512,640Z"/>
<path fill="#ef9b7a" d="M523,601C524,599 530,598 532,599C534,599 536,604 535,606C534,607 528,609 526,608C524,607 522,603 523,601Z"/>
<path fill="#ef9b7a" d="M582,580C584,576 588,575 589,578C590,582 588,597 587,601C586,605 583,607 582,603C582,600 581,585 582,580Z"/>
<path fill="#ef9b7a" d="M630,587C632,586 640,584 642,587C643,590 643,602 642,606C640,609 637,607 635,606C633,604 631,602 630,599C629,596 628,589 630,587Z"/>
<polygon fill="#ef9b7a" points="630.1,621.4 634.7,621.4 632.4,628.3"/>
<path fill="#ef9b7a" d="M610,701C610,700 613,700 614,701C615,702 615,707 614,708C613,709 610,707 610,706C609,704 609,702 610,701Z"/>
<path fill="#ef9b7a" d="M555,737C557,737 563,737 564,737C566,738 566,741 564,742C563,743 557,743 555,742C554,741 554,738 555,737Z"/>
<path fill="#ef9b7a" d="M548,769C550,768 559,768 562,769C565,770 566,773 564,774C562,774 553,774 551,774C548,773 546,770 548,769Z"/>
<path fill="#ef9b7a" d="M455,803C457,801 464,799 466,801C469,802 470,810 469,812C468,815 464,816 462,817C460,817 456,817 455,814C454,812 453,805 455,803Z"/>
<path fill="#ef9b7a" d="M576,824C577,821 582,819 585,821C587,824 591,832 592,837C592,842 591,849 589,851C587,853 582,853 580,851C578,849 576,842 576,837C575,833 574,826 576,824Z"/>
<path fill="#ef9b7a" d="M623,828C625,824 628,824 630,826C632,827 635,833 637,837C638,841 642,849 639,851C637,853 624,855 621,851C618,847 622,832 623,828Z"/>
<path fill="#ef9b7a" d="M671,824C672,823 677,823 678,824C679,824 679,827 678,828C677,829 672,829 671,828C670,827 670,824 671,824Z"/>
<path fill="#ef9b7a" d="M480,837C481,837 484,837 485,837C485,838 485,841 485,842C484,843 481,843 480,842C479,841 479,838 480,837Z"/>
<path fill="#ef9b7a" d="M446,790C445,785 451,776 453,769C455,762 456,754 458,749C459,743 458,737 460,735C461,733 466,736 466,740C467,743 465,751 464,758C464,765 463,774 462,780C461,787 460,793 458,794C455,796 447,794 446,790Z"/>
<path fill="#ef9b7a" d="M480,724C481,720 487,708 492,703C496,698 504,692 505,692C507,692 504,698 501,703C498,709 490,722 487,726C484,729 479,727 480,724Z"/>
<path fill="#87beda" d="M482,576C487,570 504,568 507,576C511,584 506,610 505,621C504,633 502,637 501,644C499,652 498,660 496,667C495,674 495,679 492,685C488,691 482,696 478,701C474,706 470,711 466,717C463,723 458,729 455,735C452,741 450,747 448,753C446,760 446,768 444,774C441,779 436,782 432,787C429,792 429,798 426,803C423,808 418,813 414,817C410,821 406,824 401,828C395,832 387,840 382,842C378,843 375,841 376,837C376,834 383,827 387,821C391,816 396,809 401,803C405,798 410,792 414,787C419,783 424,781 428,776C432,771 434,765 437,758C440,751 441,743 444,735C446,727 449,720 453,712C457,705 464,696 469,690C473,683 478,679 480,671C482,664 482,654 482,644C482,634 480,621 480,610C480,599 478,582 482,576Z"/>
<path fill="#87beda" d="M426,792C429,785 438,781 439,785C440,789 435,806 432,814C430,823 428,832 426,837C424,843 424,847 421,849C418,850 408,848 408,844C407,840 414,835 417,826C420,817 422,799 426,792Z"/>
<path fill="#87beda" d="M473,717C476,711 494,691 498,687C503,684 504,688 501,694C498,700 485,720 480,724C476,728 470,723 473,717Z"/>
<path fill="#87beda" d="M544,606C545,602 551,601 553,603C555,606 557,615 557,621C558,627 557,637 555,640C554,643 550,643 548,640C546,637 545,627 544,621C543,616 542,609 544,606Z"/>
<path fill="#87beda" d="M521,685C523,681 530,672 535,667C540,662 547,658 551,656C554,653 557,649 557,651C558,653 556,662 553,667C550,671 546,674 542,678C537,682 527,688 523,690C520,691 519,689 521,685Z"/>
<path fill="#87beda" d="M578,649C580,645 587,645 592,642C596,639 599,630 603,630C607,631 614,640 614,644C614,648 607,652 603,656C599,659 595,664 592,667C588,670 585,672 582,671C580,671 579,666 578,662C577,659 576,652 578,649Z"/>
<path fill="#87beda" d="M526,712C526,708 532,705 535,701C537,697 540,690 542,690C543,689 546,693 546,696C546,700 542,707 539,712C537,717 532,726 530,726C528,726 525,716 526,712Z"/>
<path fill="#87beda" d="M569,710C570,707 578,700 582,699C587,697 594,698 596,701C598,704 595,715 592,717C588,719 577,716 573,715C570,713 567,713 569,710Z"/>
<path fill="#87beda" d="M628,712C630,710 634,709 637,710C640,711 644,716 644,719C643,722 638,725 635,726C632,727 627,726 626,724C624,721 626,715 628,712Z"/>
<path fill="#87beda" d="M630,733C631,732 637,732 639,733C641,734 643,738 642,740C640,741 634,741 632,740C630,738 629,734 630,733Z"/>
<path fill="#87beda" d="M635,644C637,640 642,638 646,630C650,623 656,602 660,599C664,595 671,604 671,610C671,616 662,624 660,633C657,642 658,657 655,662C652,667 645,664 642,662C638,661 636,656 635,653C634,650 633,648 635,644Z"/>
<path fill="#87beda" d="M671,633C673,628 684,619 686,621C688,624 688,644 686,649C684,653 678,651 676,649C673,646 669,637 671,633Z"/>
<path fill="#87beda" d="M671,690C674,685 684,671 686,678C688,685 688,722 686,730C684,739 676,734 673,730C670,727 669,715 669,708C668,701 668,695 671,690Z"/>
<path fill="#87beda" d="M555,576C557,573 566,574 569,576C572,578 574,586 573,590C573,593 567,598 564,599C562,599 559,598 557,594C556,590 553,579 555,576Z"/>
<polygon fill="#87beda" points="611.9,585.1 623.3,585.1 618.8,594.2"/>
<path fill="#87beda" d="M662,762C662,760 666,756 669,758C671,759 677,769 678,771C678,774 674,775 671,774C668,772 662,765 662,762Z"/>
<path fill="#87beda" d="M587,790C588,789 592,789 594,790C595,790 597,793 596,794C595,795 588,795 587,794C586,793 586,790 587,790Z"/>
<path fill="#87beda" d="M655,785C656,784 660,784 662,785C663,786 665,791 664,792C663,793 659,793 657,792C656,791 654,786 655,785Z"/>
<path fill="#87beda" d="M342,826C343,825 349,825 351,826C353,827 354,830 353,830C352,831 346,831 344,830C342,830 340,827 342,826Z"/>
<path fill="#87beda" d="M544,799C545,798 548,798 548,799C549,799 549,802 548,803C548,804 545,804 544,803C543,802 543,799 544,799Z"/>
<path fill="#87beda" d="M963,301C970,295 997,300 1004,301C1012,302 1010,306 1009,308C1007,310 996,310 993,315C990,319 991,328 990,335C990,342 992,351 990,358C989,364 985,370 981,374C978,378 974,380 970,383C966,385 962,390 959,390C955,390 950,386 950,383C949,379 951,373 954,369C957,365 964,366 965,360C967,354 964,345 963,335C963,325 956,307 963,301Z"/>
<path fill="#87beda" d="M952,342C954,342 961,346 963,349C965,351 966,354 965,356C965,357 961,359 959,358C956,357 951,354 950,351C948,348 950,342 952,342Z"/>
<path fill="#87beda" d="M1027,335C1028,332 1041,324 1045,326C1049,328 1050,340 1050,346C1050,352 1047,360 1045,362C1043,365 1039,363 1038,360C1037,357 1040,348 1038,344C1036,340 1026,338 1027,335Z"/>
<path fill="#87beda" d="M963,399C965,396 973,396 974,399C976,401 976,412 974,415C973,418 967,420 965,417C964,414 962,402 963,399Z"/>
<path fill="#87beda" d="M750,328C753,326 767,324 770,326C773,328 770,336 768,340C766,343 761,348 759,349C756,349 753,345 752,342C750,338 747,331 750,328Z"/>
<path fill="#87beda" d="M897,306C902,304 926,304 931,306C936,307 932,311 927,312C922,314 907,314 902,312C897,311 892,307 897,306Z"/>
<path fill="#87beda" d="M686,403C688,401 696,400 700,399C703,397 708,394 709,394C709,394 707,398 704,401C702,404 696,408 693,410C690,412 687,411 686,410C685,409 684,405 686,403Z"/>
<path fill="#87beda" d="M759,383C759,382 764,382 766,383C767,384 769,388 768,390C767,391 763,391 761,390C759,388 758,384 759,383Z"/>
<path fill="#87beda" d="M795,390C796,389 801,391 802,392C803,393 803,396 802,396C801,397 796,395 795,394C794,393 794,390 795,390Z"/>
<path fill="#87beda" d="M795,403C797,403 806,406 809,408C811,409 813,412 811,412C809,413 802,412 800,410C797,408 793,404 795,403Z"/>
<path fill="#87beda" d="M752,469C753,468 757,468 759,469C760,470 762,475 761,476C760,477 756,477 754,476C753,475 751,470 752,469Z"/>
<path fill="#87beda" d="M738,485C739,483 746,482 747,483C749,484 748,490 747,492C746,494 742,495 740,494C739,493 737,487 738,485Z"/>
<path fill="#87beda" d="M909,524C909,519 916,506 918,506C920,505 920,515 920,519C920,523 921,526 920,528C919,530 915,531 913,530C911,530 908,528 909,524Z"/>
<path fill="#87beda" d="M922,551C923,548 929,546 931,546C934,547 936,552 936,555C936,559 933,567 931,569C930,571 926,570 924,567C923,564 921,554 922,551Z"/>
<path fill="#87beda" d="M709,540C709,538 714,538 716,540C717,541 716,547 716,549C715,550 712,552 711,551C710,549 708,541 709,540Z"/>
<path fill="#87beda" d="M913,378C914,378 919,381 920,383C921,384 921,387 920,387C919,388 917,387 916,385C914,384 912,379 913,378Z"/>
<path fill="#87beda" d="M947,396C948,395 951,395 952,396C953,398 953,402 952,403C951,404 948,404 947,403C947,402 947,398 947,396Z"/>
<path fill="#87beda" d="M909,428C909,427 912,427 913,428C914,429 914,432 913,433C912,434 909,434 909,433C908,432 908,429 909,428Z"/>
<path fill="#ef9b7a" d="M868,306C869,305 880,303 884,303C887,304 890,306 888,307C887,308 878,309 875,309C871,309 866,306 868,306Z"/>
<path fill="#ef9b7a" d="M1002,335C1003,334 1008,334 1011,335C1014,336 1020,340 1020,342C1020,344 1014,346 1011,346C1008,347 1006,346 1004,344C1003,342 1001,337 1002,335Z"/>
<path fill="#ef9b7a" d="M822,333C823,331 827,330 829,333C831,335 834,346 834,349C833,352 828,352 827,351C825,350 825,345 825,342C824,339 822,334 822,333Z"/>
<path fill="#ef9b7a" d="M706,337C708,337 716,337 718,337C720,338 722,341 720,342C719,343 711,343 709,342C706,341 705,338 706,337Z"/>
<path fill="#ef9b7a" d="M834,380C835,380 843,378 845,378C847,379 849,382 847,383C846,384 838,383 836,383C834,382 832,381 834,380Z"/>
<path fill="#ef9b7a" d="M877,385C879,384 885,382 886,383C887,384 886,388 884,390C882,391 876,390 875,390C873,389 875,386 877,385Z"/>
<path fill="#ef9b7a" d="M811,406C812,405 819,407 822,408C826,409 832,412 831,412C831,413 821,413 818,412C814,411 810,406 811,406Z"/>
<path fill="#ef9b7a" d="M1109,303C1111,302 1126,303 1129,303C1132,304 1127,307 1124,308C1122,309 1116,310 1113,309C1110,308 1106,304 1109,303Z"/>
<path fill="#ef9b7a" d="M1081,324C1082,323 1085,322 1086,324C1087,325 1087,332 1086,333C1085,334 1082,332 1081,330C1081,329 1081,325 1081,324Z"/>
<path fill="#ef9b7a" d="M1077,406C1078,404 1081,404 1081,406C1082,407 1080,413 1079,415C1078,416 1075,416 1074,415C1074,413 1076,407 1077,406Z"/>
<path fill="#ef9b7a" d="M1113,510C1113,508 1117,508 1118,510C1119,512 1120,518 1120,519C1120,521 1117,521 1115,519C1114,518 1113,512 1113,510Z"/>
<path fill="#ef9b7a" d="M731,519C734,517 741,513 743,515C745,516 746,524 745,528C744,532 741,538 738,540C736,541 733,539 731,537C730,535 729,531 729,528C729,525 729,521 731,519Z"/>
<path fill="#ef9b7a" d="M752,503C753,502 759,499 761,499C763,499 762,502 761,503C760,504 756,506 754,506C753,506 751,504 752,503Z"/>
<path fill="#ef9b7a" d="M777,535C778,533 782,533 784,535C785,537 787,542 786,544C785,546 781,548 779,546C778,545 776,537 777,535Z"/>
<path fill="#ef9b7a" d="M686,537C689,537 699,537 702,537C705,538 705,541 702,542C699,543 689,543 686,542C683,541 683,538 686,537Z"/>
<polygon fill="#ef9b7a" points="954.1,532.7 960.9,535.0 956.4,539.5"/>
<polygon fill="#ef9b7a" points="686.0,310.1 692.8,314.6 686.0,316.9"/>
<path fill="#87beda" d="M1224,378C1225,375 1231,368 1235,365C1238,362 1242,359 1244,360C1246,362 1248,370 1246,374C1245,377 1237,378 1235,380C1233,383 1234,389 1233,390C1231,390 1227,387 1226,385C1224,383 1222,382 1224,378Z"/>
<path fill="#87beda" d="M1205,446C1207,444 1214,443 1217,444C1219,446 1220,451 1221,456C1223,460 1226,466 1226,469C1225,472 1222,475 1219,476C1216,477 1212,476 1210,474C1208,471 1208,465 1208,460C1207,455 1204,449 1205,446Z"/>
<path fill="#87beda" d="M1208,424C1208,423 1213,423 1214,424C1216,425 1215,429 1214,430C1214,432 1211,432 1210,430C1209,429 1207,425 1208,424Z"/>
<path fill="#87beda" d="M1251,333C1252,332 1258,332 1260,333C1262,334 1263,338 1262,340C1261,341 1255,341 1253,340C1251,338 1250,334 1251,333Z"/>
<path fill="#87beda" d="M1480,387C1481,386 1485,386 1487,387C1489,389 1492,395 1492,396C1491,398 1487,398 1485,396C1483,395 1480,389 1480,387Z"/>
<polygon fill="#87beda" points="1480.2,369.2 1484.8,369.2 1484.8,376.0"/>
<path fill="#87beda" d="M1492,410C1493,410 1498,411 1498,412C1499,413 1497,417 1496,417C1495,417 1492,416 1492,415C1491,413 1490,410 1492,410Z"/>
<path fill="#87beda" d="M1508,342C1508,339 1516,338 1519,342C1522,346 1528,362 1528,365C1528,368 1520,364 1517,360C1513,356 1507,345 1508,342Z"/>
<path fill="#87beda" d="M1508,487C1508,486 1513,484 1514,485C1516,486 1517,493 1517,494C1516,496 1511,495 1510,494C1508,493 1507,489 1508,487Z"/>
<path fill="#87beda" d="M1535,451C1535,448 1540,450 1542,453C1543,456 1546,466 1546,469C1546,472 1541,472 1539,469C1537,466 1534,454 1535,451Z"/>
<path fill="#87beda" d="M1530,428C1531,427 1534,426 1535,428C1536,430 1536,438 1535,440C1534,441 1531,439 1530,437C1529,435 1529,430 1530,428Z"/>
<path fill="#87beda" d="M1569,419C1570,419 1575,422 1576,424C1576,425 1575,428 1573,428C1572,429 1570,428 1569,426C1568,424 1568,419 1569,419Z"/>
<path fill="#87beda" d="M1576,458C1576,457 1579,459 1580,460C1581,461 1581,464 1580,465C1579,465 1576,466 1576,465C1575,463 1575,459 1576,458Z"/>
<path fill="#87beda" d="M1582,362C1584,361 1590,363 1592,365C1593,366 1591,370 1589,371C1588,373 1584,373 1582,371C1581,370 1581,363 1582,362Z"/>
<path fill="#87beda" d="M1544,303C1545,301 1558,301 1562,303C1566,306 1565,315 1567,319C1568,324 1571,328 1571,330C1571,333 1567,335 1564,333C1561,331 1556,324 1553,319C1549,314 1542,306 1544,303Z"/>
<path fill="#87beda" d="M1580,501C1581,499 1586,503 1589,506C1593,508 1600,511 1602,517C1604,522 1603,537 1602,540C1601,542 1597,536 1594,533C1591,529 1587,524 1585,519C1582,514 1579,503 1580,501Z"/>
<polygon fill="#87beda" points="1596.1,396.4 1602.0,396.4 1602.0,405.5"/>
<path fill="#ef9b7a" d="M1192,333C1193,330 1200,329 1203,330C1206,332 1208,337 1208,340C1208,342 1205,345 1203,346C1201,348 1198,349 1196,346C1194,344 1191,335 1192,333Z"/>
<path fill="#ef9b7a" d="M1201,319C1202,317 1208,318 1210,319C1211,321 1211,326 1210,328C1209,330 1205,332 1203,330C1202,329 1200,321 1201,319Z"/>
<polygon fill="#ef9b7a" points="1191.7,353.3 1196.3,353.3 1194.0,362.3"/>
<path fill="#ef9b7a" d="M1348,342C1349,341 1354,343 1355,344C1356,345 1356,348 1355,349C1355,349 1352,350 1351,349C1350,348 1348,343 1348,342Z"/>
<path fill="#ef9b7a" d="M1364,324C1366,323 1370,323 1371,324C1372,324 1372,328 1371,328C1370,329 1366,328 1364,327C1363,326 1363,324 1364,324Z"/>
<path fill="#ef9b7a" d="M1401,356C1401,354 1406,354 1408,356C1409,357 1409,363 1409,365C1408,366 1404,366 1403,365C1402,363 1400,357 1401,356Z"/>
<path fill="#ef9b7a" d="M1435,358C1437,357 1450,357 1453,358C1456,359 1457,363 1455,365C1453,366 1443,366 1439,365C1436,363 1433,359 1435,358Z"/>
<path fill="#ef9b7a" d="M1376,421C1377,420 1379,423 1380,426C1381,429 1383,437 1382,440C1382,442 1379,443 1378,442C1377,441 1375,436 1375,433C1374,429 1375,423 1376,421Z"/>
<path fill="#ef9b7a" d="M1553,369C1556,368 1565,367 1569,369C1572,371 1574,378 1573,380C1573,383 1570,386 1567,385C1563,384 1555,376 1553,374C1551,371 1550,370 1553,369Z"/>
<path fill="#ef9b7a" d="M1571,403C1573,401 1582,396 1585,399C1587,401 1587,415 1587,419C1587,424 1584,427 1582,426C1581,425 1578,418 1576,415C1574,411 1570,406 1571,403Z"/>
<path fill="#ef9b7a" d="M1546,451C1546,448 1550,448 1553,451C1556,454 1562,463 1564,469C1567,475 1569,482 1569,485C1568,488 1565,488 1562,485C1559,482 1556,475 1553,469C1550,463 1546,454 1546,451Z"/>
<path fill="#ef9b7a" d="M1585,444C1586,443 1591,444 1594,446C1597,449 1601,455 1602,460C1603,465 1604,473 1602,474C1600,474 1594,468 1592,465C1589,462 1586,459 1585,456C1584,452 1583,446 1585,444Z"/>
<polygon fill="#ef9b7a" points="1593.8,428.2 1602.0,428.2 1602.0,441.9"/>
<path fill="#ef9b7a" d="M1503,401C1504,400 1509,402 1510,403C1511,405 1511,409 1510,410C1509,411 1506,412 1505,410C1504,408 1502,402 1503,401Z"/>
<path fill="#ef9b7a" d="M1530,567C1533,565 1546,565 1548,567C1551,568 1549,574 1546,576C1543,577 1533,577 1530,576C1528,574 1527,568 1530,567Z"/>
<path fill="#ef9b7a" d="M1155,571C1157,570 1163,568 1164,569C1166,570 1166,575 1164,576C1163,577 1157,577 1155,576C1154,575 1154,573 1155,571Z"/>
<polygon fill="#ef9b7a" points="1466.6,389.6 1468.9,389.6 1468.9,394.1"/>
<path fill="#ef9b7a" d="M1847,562C1849,558 1857,546 1863,540C1870,533 1878,528 1886,524C1894,519 1901,515 1909,512C1916,509 1924,507 1931,506C1939,504 1949,504 1954,506C1959,507 1965,511 1961,512C1957,514 1940,513 1931,515C1923,516 1916,516 1909,519C1901,522 1892,526 1886,530C1880,535 1875,541 1870,546C1865,552 1860,560 1856,562C1853,565 1846,566 1847,562Z"/>
<path fill="#ef9b7a" d="M1852,564C1852,561 1862,546 1866,542C1869,537 1873,537 1875,537C1876,538 1876,542 1875,546C1873,551 1867,559 1863,562C1860,565 1852,568 1852,564Z"/>
<path fill="#ef9b7a" d="M1875,562C1877,559 1890,554 1897,551C1904,548 1912,546 1916,546C1919,547 1923,552 1920,555C1917,559 1904,564 1897,567C1891,570 1885,574 1881,574C1878,573 1872,566 1875,562Z"/>
<path fill="#ef9b7a" d="M1943,546C1945,543 1952,534 1956,530C1961,527 1967,524 1970,524C1973,524 1979,526 1977,530C1975,535 1962,547 1956,551C1951,555 1947,554 1945,553C1943,552 1941,550 1943,546Z"/>
<path fill="#ef9b7a" d="M1966,537C1968,535 1977,533 1979,535C1981,537 1981,544 1979,546C1977,548 1968,548 1966,546C1963,545 1963,539 1966,537Z"/>
<path fill="#ef9b7a" d="M1931,553C1932,551 1940,550 1943,551C1945,552 1948,558 1947,560C1947,562 1941,566 1938,564C1936,563 1931,555 1931,553Z"/>
<path fill="#ef9b7a" d="M1886,571C1890,569 1903,563 1909,562C1914,562 1920,565 1920,567C1920,569 1914,574 1909,576C1903,577 1890,577 1886,576C1882,575 1882,574 1886,571Z"/>
<path fill="#ef9b7a" d="M1943,562C1945,560 1952,558 1954,560C1956,562 1958,571 1956,574C1955,576 1945,578 1943,576C1941,574 1941,565 1943,562Z"/>
<path fill="#ef9b7a" d="M2018,506C2019,498 2026,478 2029,474C2033,469 2037,473 2038,478C2039,484 2034,497 2034,506C2034,514 2039,524 2038,528C2037,533 2032,534 2029,533C2026,531 2022,524 2020,519C2018,515 2016,513 2018,506Z"/>
<path fill="#ef9b7a" d="M1975,510C1976,508 1986,508 1988,510C1991,512 1992,518 1990,519C1989,521 1980,521 1977,519C1974,518 1973,512 1975,510Z"/>
<path fill="#ef9b7a" d="M1975,526C1976,525 1985,523 1988,524C1991,524 1994,529 1993,530C1991,532 1982,531 1979,530C1976,530 1973,527 1975,526Z"/>
<path fill="#ef9b7a" d="M2000,526C2001,525 2008,527 2009,528C2010,529 2008,532 2006,533C2005,533 2001,534 2000,533C1998,532 1998,527 2000,526Z"/>
<path fill="#ef9b7a" d="M2047,451C2048,449 2051,449 2052,451C2053,453 2053,463 2052,465C2051,466 2048,465 2047,462C2047,460 2047,453 2047,451Z"/>
<path fill="#ef9b7a" d="M1609,396C1611,395 1622,396 1625,399C1627,401 1626,408 1625,410C1623,412 1618,413 1616,412C1613,412 1610,408 1609,406C1608,403 1606,398 1609,396Z"/>
<path fill="#ef9b7a" d="M1602,335C1604,334 1613,337 1616,340C1618,342 1618,348 1616,349C1613,350 1604,349 1602,346C1600,344 1600,336 1602,335Z"/>
<path fill="#ef9b7a" d="M1632,367C1632,365 1637,365 1638,367C1640,368 1641,374 1641,376C1640,378 1638,378 1636,376C1635,374 1631,368 1632,367Z"/>
<path fill="#ef9b7a" d="M1602,428C1604,424 1608,427 1611,430C1614,434 1617,444 1618,449C1619,454 1617,458 1616,460C1614,462 1611,463 1609,462C1607,462 1603,461 1602,456C1601,450 1600,432 1602,428Z"/>
<path fill="#ef9b7a" d="M1627,430C1628,428 1635,430 1638,433C1642,435 1644,444 1647,446C1651,449 1657,446 1661,449C1665,451 1668,456 1670,460C1672,464 1675,471 1675,474C1674,476 1669,477 1666,476C1662,474 1656,467 1652,465C1648,462 1646,463 1643,460C1640,457 1636,454 1634,449C1631,444 1626,433 1627,430Z"/>
<path fill="#ef9b7a" d="M1602,465C1604,462 1610,464 1613,467C1617,470 1621,478 1622,483C1624,487 1625,492 1625,494C1624,496 1621,496 1618,494C1615,492 1611,485 1609,483C1606,480 1603,484 1602,480C1601,477 1600,467 1602,465Z"/>
<path fill="#ef9b7a" d="M1643,474C1643,472 1652,472 1654,474C1657,475 1659,481 1659,483C1658,485 1655,486 1652,485C1649,484 1643,476 1643,474Z"/>
<path fill="#ef9b7a" d="M1652,492C1652,490 1658,490 1661,492C1664,493 1668,499 1668,501C1668,503 1664,505 1661,503C1658,502 1652,494 1652,492Z"/>
<path fill="#ef9b7a" d="M1625,510C1626,508 1633,508 1636,510C1640,512 1644,519 1645,524C1646,528 1644,533 1643,535C1641,537 1638,535 1636,533C1634,530 1631,525 1629,521C1627,518 1624,512 1625,510Z"/>
<path fill="#ef9b7a" d="M1604,512C1605,510 1608,511 1611,515C1614,518 1620,527 1625,533C1629,538 1636,543 1638,546C1641,550 1641,552 1641,553C1640,554 1637,555 1634,553C1630,551 1624,544 1620,540C1616,535 1611,530 1609,526C1606,521 1604,514 1604,512Z"/>
<path fill="#ef9b7a" d="M1636,412C1636,410 1653,415 1659,417C1664,419 1666,423 1670,426C1674,429 1680,435 1682,437C1683,440 1680,443 1677,442C1674,441 1668,438 1661,433C1654,428 1636,415 1636,412Z"/>
<path fill="#ef9b7a" d="M1654,419C1653,416 1666,421 1670,424C1674,426 1677,430 1679,433C1681,436 1684,440 1684,442C1683,443 1682,446 1677,442C1672,438 1655,422 1654,419Z"/>
<path fill="#ef9b7a" d="M1693,474C1694,473 1700,476 1702,478C1704,481 1706,486 1706,490C1707,493 1706,500 1704,501C1703,502 1699,499 1697,496C1696,494 1694,489 1693,485C1692,481 1691,475 1693,474Z"/>
<path fill="#ef9b7a" d="M1822,376C1823,375 1828,375 1829,376C1830,377 1830,382 1829,383C1828,384 1825,384 1824,383C1822,382 1821,377 1822,376Z"/>
<path fill="#ef9b7a" d="M1820,387C1820,385 1825,388 1827,390C1828,392 1830,397 1829,399C1829,401 1826,403 1825,401C1823,399 1820,389 1820,387Z"/>
<path fill="#ef9b7a" d="M1802,410C1803,409 1806,408 1806,410C1807,412 1807,418 1806,419C1806,420 1803,418 1802,417C1801,415 1801,411 1802,410Z"/>
<path fill="#ef9b7a" d="M1779,426C1780,425 1783,425 1784,426C1785,427 1786,431 1786,433C1786,434 1783,435 1782,434C1780,433 1779,427 1779,426Z"/>
<path fill="#ef9b7a" d="M1750,460C1750,459 1753,459 1754,460C1755,461 1755,464 1754,465C1753,465 1750,465 1750,465C1749,464 1749,461 1750,460Z"/>
<polygon fill="#ef9b7a" points="1942.8,571.4 1956.4,569.1 1956.4,575.9"/>
<path fill="#87beda" d="M1602,356C1604,354 1610,358 1613,360C1617,362 1621,364 1622,367C1624,370 1624,375 1622,376C1621,377 1617,375 1613,374C1610,372 1604,370 1602,367C1600,364 1600,357 1602,356Z"/>
<path fill="#87beda" d="M1602,380C1603,380 1608,382 1609,383C1610,384 1608,387 1606,387C1605,388 1603,388 1602,387C1601,386 1601,381 1602,380Z"/>
<path fill="#87beda" d="M1602,403C1604,402 1610,405 1613,408C1617,410 1623,416 1625,419C1626,422 1625,424 1622,424C1620,423 1614,418 1611,417C1608,415 1604,417 1602,415C1600,412 1600,404 1602,403Z"/>
<path fill="#87beda" d="M1613,430C1615,429 1621,435 1625,440C1628,444 1634,452 1636,456C1638,459 1639,459 1638,460C1637,461 1633,462 1629,460C1626,458 1621,451 1618,446C1615,441 1612,432 1613,430Z"/>
<path fill="#87beda" d="M1656,469C1658,468 1662,468 1666,471C1669,474 1675,483 1679,487C1683,491 1686,493 1688,496C1690,499 1691,504 1691,506C1690,507 1687,508 1684,506C1680,503 1674,496 1670,492C1666,488 1661,484 1659,480C1657,477 1655,471 1656,469Z"/>
<path fill="#87beda" d="M1695,458C1697,457 1701,458 1704,460C1708,462 1712,468 1716,471C1719,475 1724,480 1725,483C1725,485 1721,486 1718,485C1714,484 1708,479 1704,476C1700,473 1697,470 1695,467C1694,464 1694,459 1695,458Z"/>
<path fill="#87beda" d="M1725,430C1725,428 1732,430 1734,433C1736,435 1738,443 1738,446C1739,450 1738,453 1736,453C1734,453 1731,450 1729,446C1727,443 1724,433 1725,430Z"/>
<path fill="#87beda" d="M1727,494C1728,493 1733,494 1736,496C1739,498 1742,503 1743,506C1744,508 1742,510 1741,510C1739,510 1734,506 1732,503C1729,501 1726,495 1727,494Z"/>
<path fill="#87beda" d="M1738,512C1739,512 1746,513 1747,515C1749,516 1751,518 1750,519C1749,520 1742,520 1741,519C1739,518 1737,513 1738,512Z"/>
<path fill="#87beda" d="M1602,519C1603,516 1607,522 1609,526C1610,530 1611,538 1611,542C1611,546 1608,549 1606,549C1605,549 1603,547 1602,542C1601,537 1601,522 1602,519Z"/>
<path fill="#87beda" d="M1611,510C1611,509 1616,513 1618,515C1619,516 1621,520 1620,521C1620,523 1617,523 1616,521C1614,520 1611,511 1611,510Z"/>
<path fill="#87beda" d="M1650,496C1650,496 1655,498 1656,499C1658,500 1659,502 1659,503C1658,504 1656,504 1654,503C1653,502 1649,497 1650,496Z"/>
<path fill="#87beda" d="M1620,317C1621,316 1628,316 1629,317C1631,318 1630,323 1629,324C1628,325 1624,325 1622,324C1621,323 1619,318 1620,317Z"/>
<path fill="#87beda" d="M1636,340C1637,339 1642,339 1643,340C1644,340 1644,343 1643,344C1642,345 1637,345 1636,344C1635,343 1635,340 1636,340Z"/>
<path fill="#87beda" d="M1756,396C1759,395 1767,394 1770,396C1773,398 1775,405 1775,408C1774,410 1769,413 1766,412C1763,412 1758,408 1756,406C1755,403 1754,398 1756,396Z"/>
<path fill="#87beda" d="M1811,415C1813,410 1817,405 1820,406C1823,406 1826,416 1829,419C1832,422 1838,422 1838,424C1838,425 1831,425 1829,428C1827,431 1824,438 1825,442C1825,446 1832,447 1832,451C1832,455 1827,462 1825,465C1822,468 1820,470 1818,469C1816,468 1813,464 1813,460C1814,456 1820,451 1820,446C1820,442 1813,440 1811,435C1809,430 1809,420 1811,415Z"/>
<path fill="#87beda" d="M1791,474C1792,473 1796,474 1800,476C1803,478 1809,484 1811,487C1813,490 1813,493 1811,494C1809,495 1803,496 1800,494C1796,492 1792,486 1791,483C1789,479 1789,475 1791,474Z"/>
<path fill="#87beda" d="M1811,517C1812,516 1818,518 1820,519C1822,521 1826,525 1825,526C1823,527 1816,527 1813,526C1811,524 1810,518 1811,517Z"/>
<path fill="#87beda" d="M1791,551C1792,547 1798,546 1802,546C1806,546 1813,548 1816,551C1819,554 1822,559 1820,562C1819,566 1811,572 1806,574C1802,575 1795,575 1793,571C1790,568 1789,555 1791,551Z"/>
<path fill="#87beda" d="M1843,310C1846,308 1863,309 1866,310C1868,312 1862,317 1859,319C1855,321 1848,325 1845,324C1842,322 1839,312 1843,310Z"/>
<path fill="#87beda" d="M1877,426C1879,422 1888,414 1893,410C1898,406 1903,403 1906,403C1910,403 1912,406 1913,410C1914,414 1914,424 1911,428C1908,433 1903,436 1897,437C1892,438 1883,437 1879,435C1876,433 1875,430 1877,426Z"/>
<path fill="#87beda" d="M1854,440C1855,439 1862,445 1866,446C1869,448 1875,448 1877,449C1878,450 1877,453 1875,453C1872,454 1864,453 1861,451C1858,449 1853,440 1854,440Z"/>
<path fill="#87beda" d="M1868,506C1870,502 1877,501 1881,501C1886,501 1893,501 1893,503C1893,506 1885,513 1881,517C1878,521 1873,526 1870,526C1867,526 1866,522 1866,519C1865,516 1865,509 1868,506Z"/>
<path fill="#87beda" d="M1925,378C1926,376 1933,374 1936,376C1939,378 1942,383 1943,387C1944,391 1942,398 1940,401C1939,404 1934,406 1931,406C1929,405 1925,402 1925,399C1924,396 1929,391 1929,387C1929,384 1923,380 1925,378Z"/>
<path fill="#87beda" d="M1954,399C1954,397 1959,399 1961,401C1963,403 1966,411 1966,412C1965,414 1961,412 1959,410C1957,408 1954,400 1954,399Z"/>
<path fill="#87beda" d="M1963,360C1965,359 1973,359 1975,360C1976,361 1974,366 1972,367C1970,368 1965,368 1963,367C1962,366 1961,361 1963,360Z"/>
<path fill="#87beda" d="M1997,408C1999,406 2005,404 2006,406C2008,407 2006,413 2004,415C2003,416 1998,418 1997,417C1996,416 1996,410 1997,408Z"/>
<path fill="#87beda" d="M1986,426C1988,425 1997,427 2000,428C2003,430 2005,433 2004,435C2003,437 1996,440 1993,440C1990,439 1987,435 1986,433C1985,431 1984,427 1986,426Z"/>
<path fill="#87beda" d="M2025,415C2026,410 2032,407 2036,406C2039,404 2043,401 2045,403C2047,405 2047,414 2045,419C2043,424 2037,430 2034,433C2031,435 2028,438 2027,435C2025,432 2023,420 2025,415Z"/>
<path fill="#87beda" d="M2034,474C2034,473 2041,474 2043,476C2045,477 2046,482 2045,483C2044,484 2040,484 2038,483C2036,481 2033,475 2034,474Z"/>
<path fill="#87beda" d="M1988,483C1990,481 1998,479 2000,480C2001,482 2000,490 1997,492C1995,494 1987,493 1986,492C1984,490 1986,485 1988,483Z"/>
<path fill="#87beda" d="M1866,551C1869,547 1878,540 1884,537C1889,534 1896,532 1897,533C1899,533 1897,538 1893,542C1889,546 1879,552 1875,555C1870,558 1867,561 1866,560C1864,559 1862,555 1866,551Z"/>
<polygon fill="#87beda" points="1915.5,305.5 1920.1,305.5 1920.1,307.8"/>
<polygon fill="#87beda" points="1970.0,339.6 1976.9,339.6 1976.9,341.9"/>
<path fill="#87beda" d="M2045,496C2047,491 2052,493 2054,496C2056,500 2056,510 2056,519C2056,528 2056,546 2054,551C2053,556 2049,552 2047,549C2046,545 2045,537 2045,528C2045,520 2043,502 2045,496Z"/>
<path fill="#87beda" d="M686,617C688,612 697,616 700,619C702,622 702,630 702,635C702,640 699,646 697,649C696,652 692,653 690,653C689,654 687,657 686,651C685,645 684,622 686,617Z"/>
<path fill="#87beda" d="M738,599C741,595 747,598 750,601C752,604 754,610 754,615C755,619 754,623 752,626C750,629 743,631 740,630C738,630 736,627 736,621C736,616 736,602 738,599Z"/>
<path fill="#87beda" d="M725,644C727,641 734,638 736,640C738,641 739,647 738,651C738,655 735,659 734,662C733,665 733,668 731,669C730,670 724,671 722,669C721,667 722,662 722,658C723,654 722,647 725,644Z"/>
<path fill="#87beda" d="M716,683C717,680 723,679 725,680C726,682 725,690 725,694C724,698 722,702 720,703C718,704 714,702 713,699C713,695 714,686 716,683Z"/>
<path fill="#87beda" d="M845,628C845,626 852,627 854,628C856,630 859,635 859,637C858,639 854,641 852,640C850,638 845,630 845,628Z"/>
<path fill="#87beda" d="M868,635C869,634 874,632 877,635C880,638 886,649 886,653C886,658 881,662 879,662C877,663 874,661 872,658C870,655 868,648 868,644C867,640 866,637 868,635Z"/>
<path fill="#87beda" d="M888,633C889,630 893,626 895,626C897,626 900,628 900,630C900,633 897,640 895,642C893,644 889,643 888,642C887,640 887,635 888,633Z"/>
<path fill="#87beda" d="M918,585C919,584 925,586 927,587C929,589 931,594 931,596C931,599 929,603 927,603C925,603 922,599 920,596C918,593 917,587 918,585Z"/>
<path fill="#87beda" d="M838,594C839,593 843,593 845,594C847,595 850,600 850,601C849,602 845,602 843,601C841,600 838,595 838,594Z"/>
<path fill="#87beda" d="M829,608C830,607 834,607 836,608C837,609 839,613 838,615C837,616 833,616 831,615C830,613 828,609 829,608Z"/>
<path fill="#87beda" d="M945,646C946,645 952,643 954,644C956,645 958,650 956,651C955,652 949,654 947,653C945,652 944,648 945,646Z"/>
<path fill="#87beda" d="M847,703C849,699 854,692 856,692C859,692 860,696 861,701C862,706 862,718 861,724C860,729 856,733 854,735C852,737 849,738 847,735C846,732 845,722 845,717C845,712 845,707 847,703Z"/>
<path fill="#87beda" d="M913,708C914,704 920,695 922,694C925,693 926,700 927,703C927,706 926,710 924,712C923,714 920,715 918,715C916,714 912,711 913,708Z"/>
<path fill="#87beda" d="M906,717C907,716 912,718 913,719C914,720 912,723 911,724C910,724 908,725 908,724C907,723 905,718 906,717Z"/>
<path fill="#87beda" d="M931,717C932,717 936,718 936,719C936,720 934,723 934,724C933,724 932,723 931,721C931,720 931,717 931,717Z"/>
<path fill="#87beda" d="M956,719C957,716 962,714 963,715C965,715 966,721 965,724C965,727 960,734 959,733C957,732 956,722 956,719Z"/>
<path fill="#87beda" d="M895,742C897,739 903,738 904,740C906,741 905,748 904,751C903,754 899,757 897,758C896,758 894,758 894,756C894,753 893,744 895,742Z"/>
<path fill="#87beda" d="M924,749C925,747 928,745 929,746C930,748 930,756 929,758C928,760 924,759 923,758C923,756 924,751 924,749Z"/>
<path fill="#87beda" d="M947,749C948,746 952,739 954,740C956,740 957,747 958,751C958,755 957,762 956,765C955,767 953,768 952,767C950,766 948,761 947,758C947,755 946,752 947,749Z"/>
<path fill="#87beda" d="M886,769C887,768 891,765 893,767C894,769 895,778 895,780C895,783 892,783 890,783C889,782 887,778 886,776C885,774 885,771 886,769Z"/>
<path fill="#87beda" d="M911,783C912,780 918,777 920,778C922,780 924,788 924,792C925,796 926,801 924,803C923,805 920,804 918,803C916,802 914,800 913,796C912,793 910,786 911,783Z"/>
<path fill="#87beda" d="M934,801C935,797 938,791 940,792C942,792 945,799 945,803C945,807 942,813 940,814C938,816 935,815 934,812C932,810 932,804 934,801Z"/>
<path fill="#87beda" d="M825,817C826,814 832,809 834,810C836,811 836,818 836,821C836,824 833,827 831,828C830,829 826,828 825,826C823,824 823,819 825,817Z"/>
<path fill="#87beda" d="M763,787C764,782 769,782 770,783C772,784 773,789 772,794C772,799 769,809 768,812C766,815 764,816 763,812C762,808 762,792 763,787Z"/>
<path fill="#87beda" d="M731,776C732,775 737,775 738,776C740,777 741,782 740,783C740,784 735,784 734,783C732,782 731,777 731,776Z"/>
<path fill="#87beda" d="M731,801C732,800 735,800 736,801C737,802 737,805 736,806C735,806 732,806 731,806C731,805 731,802 731,801Z"/>
<path fill="#87beda" d="M838,765C839,764 842,764 843,765C844,765 844,768 843,769C842,770 839,770 838,769C837,768 837,765 838,765Z"/>
<path fill="#87beda" d="M866,801C866,801 869,802 870,803C871,804 871,805 870,806C869,806 867,806 867,806C866,805 865,801 866,801Z"/>
<path fill="#87beda" d="M866,821C866,821 869,822 870,824C871,825 871,827 870,828C869,829 866,829 866,828C865,827 865,822 866,821Z"/>
<path fill="#87beda" d="M997,694C998,693 1003,693 1004,694C1005,695 1005,700 1004,701C1003,702 998,702 997,701C996,700 996,695 997,694Z"/>
<polygon fill="#87beda" points="1072.2,669.1 1076.8,671.4 1074.5,673.7"/>
<path fill="#87beda" d="M1115,658C1116,657 1119,661 1120,662C1121,664 1121,667 1120,667C1119,667 1116,666 1115,665C1115,663 1115,658 1115,658Z"/>
<path fill="#87beda" d="M1120,685C1120,684 1124,684 1126,685C1127,686 1127,691 1127,692C1126,693 1123,693 1122,692C1121,691 1119,686 1120,685Z"/>
<path fill="#ef9b7a" d="M700,665C701,663 707,661 709,662C711,663 711,669 711,671C711,674 708,676 706,676C704,676 701,673 700,671C698,670 698,666 700,665Z"/>
<path fill="#ef9b7a" d="M956,596C957,594 960,594 961,596C962,599 961,608 961,610C960,612 958,612 958,610C957,608 956,599 956,596Z"/>
<path fill="#ef9b7a" d="M1122,758C1123,756 1129,756 1131,758C1133,759 1134,765 1134,767C1133,768 1129,768 1127,767C1125,765 1121,759 1122,758Z"/>
<path fill="#ef9b7a" d="M709,812C710,812 714,812 716,812C717,813 717,816 716,817C714,818 710,818 709,817C708,816 708,813 709,812Z"/>
<polygon fill="#ef9b7a" points="1138.1,687.3 1144.0,687.3 1144.0,691.9"/>
<polygon fill="#ef9b7a" points="1074.5,748.7 1079.0,748.7 1076.8,753.2"/>
<path fill="#ef9b7a" d="M1153,576C1155,574 1164,574 1167,576C1170,578 1171,586 1171,590C1172,593 1171,597 1169,599C1167,600 1164,601 1162,599C1160,597 1157,591 1155,587C1154,584 1151,578 1153,576Z"/>
<path fill="#ef9b7a" d="M1512,599C1514,593 1520,580 1526,576C1531,572 1544,572 1546,576C1548,580 1539,591 1537,599C1535,607 1539,620 1537,624C1535,628 1531,626 1528,624C1524,621 1519,614 1517,610C1514,606 1510,604 1512,599Z"/>
<path fill="#ef9b7a" d="M1505,699C1507,695 1514,691 1519,690C1523,688 1530,687 1532,692C1535,697 1534,716 1532,721C1531,727 1530,726 1526,724C1522,722 1511,714 1508,710C1504,706 1503,702 1505,699Z"/>
<path fill="#ef9b7a" d="M1508,740C1509,737 1515,734 1519,733C1523,732 1528,733 1530,735C1532,737 1536,744 1532,746C1529,748 1516,748 1512,746C1508,745 1506,742 1508,740Z"/>
<path fill="#ef9b7a" d="M1517,780C1517,779 1523,776 1526,776C1529,776 1534,779 1535,780C1536,782 1535,786 1532,787C1530,788 1524,788 1521,787C1518,786 1516,782 1517,780Z"/>
<path fill="#ef9b7a" d="M1592,640C1592,638 1597,638 1598,640C1600,641 1601,647 1601,649C1600,651 1595,653 1594,651C1592,649 1591,642 1592,640Z"/>
<path fill="#ef9b7a" d="M1346,817C1347,813 1354,812 1358,812C1361,813 1367,818 1369,821C1371,825 1372,830 1371,833C1370,836 1365,839 1362,840C1359,840 1356,839 1353,835C1350,831 1345,821 1346,817Z"/>
<path fill="#ef9b7a" d="M1296,728C1297,726 1299,726 1301,728C1303,731 1308,741 1310,744C1312,748 1313,748 1312,749C1311,749 1308,750 1305,749C1303,747 1300,743 1298,740C1297,736 1296,730 1296,728Z"/>
<path fill="#ef9b7a" d="M1314,753C1314,752 1317,752 1319,753C1320,754 1323,758 1324,760C1324,762 1324,764 1324,765C1323,765 1320,764 1319,762C1317,760 1314,755 1314,753Z"/>
<path fill="#ef9b7a" d="M1324,726C1324,725 1326,726 1328,728C1330,731 1333,740 1333,742C1333,744 1330,743 1328,742C1326,740 1324,735 1324,733C1323,730 1323,727 1324,726Z"/>
<path fill="#ef9b7a" d="M1224,796C1224,794 1232,792 1235,792C1238,791 1241,792 1242,794C1242,796 1241,802 1239,803C1238,805 1233,804 1230,803C1228,802 1223,798 1224,796Z"/>
<path fill="#ef9b7a" d="M1239,808C1240,806 1245,804 1246,806C1248,807 1249,813 1248,814C1248,816 1243,818 1242,817C1240,816 1239,810 1239,808Z"/>
<path fill="#ef9b7a" d="M1242,787C1242,786 1247,786 1248,787C1250,789 1251,795 1251,796C1250,798 1248,798 1246,796C1245,795 1241,789 1242,787Z"/>
<path fill="#ef9b7a" d="M1189,801C1190,800 1195,800 1196,801C1198,802 1199,805 1198,806C1198,806 1193,806 1192,806C1190,805 1189,802 1189,801Z"/>
<path fill="#ef9b7a" d="M1205,685C1206,682 1210,683 1212,685C1214,687 1218,695 1219,699C1220,702 1221,707 1219,708C1217,709 1212,707 1210,703C1208,699 1205,688 1205,685Z"/>
<path fill="#ef9b7a" d="M1235,760C1236,758 1242,758 1246,760C1250,762 1256,768 1258,771C1260,775 1259,779 1258,780C1256,782 1254,782 1251,780C1248,779 1242,775 1239,771C1237,768 1234,762 1235,760Z"/>
<polygon fill="#ef9b7a" points="1221.2,762.3 1228.1,762.3 1230.3,766.8"/>
<path fill="#ef9b7a" d="M1171,733C1172,731 1177,731 1178,733C1180,734 1181,740 1180,742C1180,744 1177,746 1176,744C1174,743 1171,735 1171,733Z"/>
<path fill="#ef9b7a" d="M1274,699C1274,696 1277,696 1278,699C1279,701 1281,712 1280,715C1280,717 1277,715 1276,712C1275,710 1273,701 1274,699Z"/>
<path fill="#ef9b7a" d="M1258,692C1258,691 1261,693 1262,694C1263,695 1265,698 1264,699C1264,699 1261,700 1260,699C1259,698 1257,693 1258,692Z"/>
<polygon fill="#ef9b7a" points="1250.8,685.0 1255.3,685.0 1255.3,689.6"/>
<polygon fill="#ef9b7a" points="1228.1,691.9 1232.6,694.1 1230.3,696.4"/>
<polygon fill="#ef9b7a" points="1178.1,621.4 1184.9,623.7 1184.9,628.3"/>
<path fill="#ef9b7a" d="M1162,630C1163,630 1166,630 1167,630C1167,631 1167,634 1167,635C1166,636 1163,636 1162,635C1161,634 1161,631 1162,630Z"/>
<path fill="#ef9b7a" d="M1226,608C1226,606 1229,606 1229,608C1230,609 1230,615 1229,617C1229,618 1227,618 1227,617C1226,615 1225,609 1226,608Z"/>
<path fill="#ef9b7a" d="M1308,710C1308,709 1311,709 1312,710C1313,711 1313,714 1312,715C1311,715 1308,715 1308,715C1307,714 1307,711 1308,710Z"/>
<polygon fill="#ef9b7a" points="1348.5,710.0 1353.0,710.0 1353.0,714.6"/>
<path fill="#ef9b7a" d="M1260,583C1260,582 1264,582 1264,583C1265,584 1265,587 1264,587C1264,588 1262,588 1261,587C1260,587 1259,584 1260,583Z"/>
<path fill="#ef9b7a" d="M1573,844C1575,843 1579,841 1580,842C1582,843 1584,849 1582,851C1581,852 1573,852 1571,851C1570,850 1572,846 1573,844Z"/>
<path fill="#ef9b7a" d="M1582,826C1582,822 1586,813 1589,808C1593,802 1600,791 1602,794C1604,797 1604,820 1602,826C1600,832 1593,830 1589,830C1586,830 1582,830 1582,826Z"/>
<path fill="#87beda" d="M1194,576C1195,575 1203,574 1205,576C1207,578 1206,584 1205,585C1204,586 1200,584 1198,583C1197,581 1193,577 1194,576Z"/>
<path fill="#87beda" d="M1214,576C1216,575 1222,575 1224,576C1225,577 1225,579 1224,580C1222,582 1218,584 1217,583C1215,582 1213,577 1214,576Z"/>
<path fill="#87beda" d="M1212,587C1214,587 1224,588 1228,590C1232,591 1235,595 1237,599C1239,602 1238,607 1239,610C1241,614 1247,617 1248,619C1250,622 1248,625 1246,626C1245,627 1241,626 1239,624C1238,621 1236,616 1235,612C1233,609 1233,606 1230,603C1227,600 1220,597 1217,594C1214,592 1210,588 1212,587Z"/>
<path fill="#87beda" d="M1201,596C1202,595 1209,597 1212,599C1215,600 1220,604 1219,606C1218,607 1211,607 1208,606C1205,604 1200,598 1201,596Z"/>
<path fill="#87beda" d="M1192,612C1193,611 1200,613 1203,612C1206,612 1207,605 1208,608C1208,610 1208,624 1208,628C1207,632 1205,634 1203,633C1201,632 1198,625 1196,621C1194,618 1191,614 1192,612Z"/>
<polygon fill="#87beda" points="1187.2,591.9 1194.0,594.2 1191.7,596.4"/>
<path fill="#87beda" d="M1274,619C1274,618 1279,616 1280,617C1282,618 1283,622 1283,624C1282,625 1280,626 1278,625C1276,624 1273,621 1274,619Z"/>
<path fill="#87beda" d="M1258,671C1258,669 1265,666 1269,667C1273,668 1277,673 1280,676C1283,679 1285,682 1287,685C1289,688 1293,690 1294,692C1295,694 1293,698 1292,699C1290,699 1288,696 1285,694C1282,692 1279,689 1276,687C1273,685 1270,685 1267,683C1264,680 1257,674 1258,671Z"/>
<path fill="#87beda" d="M1280,667C1281,665 1288,660 1292,660C1295,660 1299,662 1301,665C1303,667 1304,671 1303,674C1302,676 1299,678 1296,678C1293,678 1288,676 1285,674C1282,672 1279,669 1280,667Z"/>
<path fill="#87beda" d="M1212,676C1213,675 1220,674 1224,674C1227,674 1233,675 1235,676C1236,677 1236,680 1233,680C1230,681 1220,681 1217,680C1213,680 1211,677 1212,676Z"/>
<path fill="#87beda" d="M1187,678C1187,677 1192,682 1194,685C1196,688 1199,691 1201,694C1203,697 1206,700 1208,703C1209,706 1211,710 1210,712C1209,714 1205,716 1203,715C1201,713 1198,709 1196,706C1195,702 1196,699 1194,694C1192,690 1187,680 1187,678Z"/>
<path fill="#87beda" d="M1171,706C1171,704 1177,706 1180,708C1183,709 1188,713 1189,715C1191,716 1191,719 1189,719C1188,719 1183,719 1180,717C1177,715 1171,707 1171,706Z"/>
<path fill="#87beda" d="M1244,701C1244,699 1250,698 1253,699C1256,700 1260,705 1262,708C1264,710 1265,713 1264,715C1264,716 1260,720 1258,719C1255,718 1253,713 1251,710C1249,707 1244,703 1244,701Z"/>
<path fill="#87beda" d="M1185,726C1186,725 1190,725 1192,726C1193,727 1195,730 1194,730C1193,731 1189,731 1187,730C1186,730 1184,727 1185,726Z"/>
<path fill="#87beda" d="M1203,740C1205,737 1209,737 1212,737C1216,738 1220,742 1224,744C1227,746 1230,747 1230,749C1231,750 1230,753 1228,753C1226,754 1220,752 1217,751C1214,750 1211,748 1210,749C1208,749 1209,753 1208,753C1206,754 1204,753 1203,751C1202,749 1202,742 1203,740Z"/>
<path fill="#87beda" d="M1253,733C1254,730 1262,733 1264,735C1267,737 1269,740 1269,744C1269,748 1267,754 1267,758C1266,761 1268,765 1267,767C1266,768 1261,769 1260,767C1259,764 1261,757 1260,751C1259,745 1252,735 1253,733Z"/>
<path fill="#87beda" d="M1283,730C1284,727 1288,724 1289,726C1291,727 1292,736 1292,740C1292,743 1291,748 1289,749C1288,749 1284,747 1283,744C1281,741 1281,734 1283,730Z"/>
<path fill="#87beda" d="M1314,692C1315,691 1320,693 1321,694C1323,696 1324,700 1324,701C1323,702 1320,703 1319,701C1317,699 1314,693 1314,692Z"/>
<path fill="#87beda" d="M1335,717C1335,716 1338,717 1339,719C1341,721 1342,727 1342,728C1341,729 1338,728 1337,726C1336,724 1334,718 1335,717Z"/>
<path fill="#87beda" d="M1285,783C1285,781 1289,783 1292,785C1294,787 1298,792 1298,794C1299,796 1296,798 1294,796C1292,794 1285,785 1285,783Z"/>
<path fill="#87beda" d="M1294,799C1294,797 1301,799 1303,801C1305,802 1308,806 1308,808C1307,809 1303,812 1301,810C1299,808 1294,800 1294,799Z"/>
<path fill="#87beda" d="M1208,762C1209,762 1216,763 1219,765C1222,766 1226,770 1226,771C1226,773 1222,774 1219,774C1216,773 1212,771 1210,769C1208,767 1206,763 1208,762Z"/>
<path fill="#87beda" d="M1201,776C1201,776 1202,776 1203,776C1204,776 1206,778 1205,778C1205,779 1203,779 1202,778C1201,778 1201,776 1201,776Z"/>
<path fill="#87beda" d="M1480,640C1480,637 1483,638 1485,640C1487,641 1490,646 1492,649C1493,651 1493,654 1492,656C1490,657 1487,658 1485,656C1483,653 1480,642 1480,640Z"/>
<path fill="#87beda" d="M1464,665C1465,662 1468,660 1471,660C1474,660 1478,660 1480,662C1482,664 1485,669 1485,671C1485,674 1482,677 1480,678C1478,680 1476,681 1473,680C1471,680 1468,679 1467,676C1465,673 1464,667 1464,665Z"/>
<path fill="#87beda" d="M1446,703C1447,702 1452,700 1453,701C1454,702 1456,707 1455,708C1454,709 1450,709 1448,708C1447,707 1445,704 1446,703Z"/>
<path fill="#87beda" d="M1585,576C1588,574 1599,573 1602,576C1605,579 1604,593 1602,596C1600,600 1594,598 1592,596C1589,595 1586,588 1585,585C1584,582 1582,578 1585,576Z"/>
<path fill="#87beda" d="M1469,814C1470,813 1477,814 1480,814C1483,815 1487,818 1487,819C1487,821 1485,823 1482,824C1480,824 1473,825 1471,824C1469,822 1467,816 1469,814Z"/>
<path fill="#87beda" d="M1548,808C1550,805 1558,799 1564,794C1571,790 1581,784 1587,780C1593,777 1600,769 1602,771C1604,774 1604,790 1602,794C1600,798 1594,793 1589,794C1584,796 1577,801 1571,803C1565,806 1557,809 1553,810C1549,811 1546,810 1548,808Z"/>
<polygon fill="#87beda" points="1368.9,596.4 1371.2,596.4 1371.2,598.7"/>
<path fill="#87beda" d="M1201,812C1203,812 1212,812 1214,812C1217,812 1217,813 1214,813C1212,814 1203,814 1201,813C1199,813 1199,812 1201,812Z"/>
<path fill="#87beda" d="M1602,762C1605,755 1613,746 1620,740C1627,733 1636,729 1643,724C1650,718 1657,713 1661,708C1666,702 1667,696 1670,690C1674,684 1677,676 1682,671C1686,667 1692,667 1697,665C1703,662 1710,660 1716,658C1721,655 1724,652 1729,649C1734,646 1742,643 1747,640C1753,636 1755,633 1761,628C1767,623 1777,616 1784,610C1791,604 1798,595 1802,592C1806,589 1809,590 1806,594C1804,598 1795,608 1788,615C1781,621 1772,629 1766,635C1759,641 1753,644 1747,649C1741,653 1735,658 1729,662C1723,667 1716,671 1711,676C1706,681 1702,685 1697,690C1693,694 1688,699 1684,703C1679,708 1675,712 1670,717C1666,722 1662,727 1656,733C1651,738 1644,745 1638,751C1632,757 1626,763 1620,769C1614,775 1605,786 1602,785C1599,784 1599,770 1602,762Z"/>
<path fill="#87beda" d="M1913,626C1915,623 1921,622 1925,624C1928,625 1933,632 1934,635C1935,639 1933,642 1931,644C1930,646 1925,645 1925,646C1924,648 1929,654 1929,656C1929,657 1927,660 1925,658C1922,656 1917,650 1916,644C1914,639 1912,629 1913,626Z"/>
<path fill="#87beda" d="M1975,599C1975,596 1980,596 1981,599C1983,601 1982,612 1981,615C1981,618 1978,620 1977,617C1976,614 1974,602 1975,599Z"/>
<path fill="#87beda" d="M1977,665C1978,663 1984,662 1986,662C1988,663 1989,668 1988,669C1987,670 1981,670 1979,669C1977,668 1976,666 1977,665Z"/>
<path fill="#87beda" d="M1884,683C1883,681 1890,680 1893,680C1896,681 1900,685 1902,687C1904,690 1905,693 1904,694C1903,695 1899,696 1895,694C1892,692 1884,685 1884,683Z"/>
<path fill="#87beda" d="M2020,712C2021,710 2027,703 2029,703C2031,703 2032,710 2031,712C2031,715 2026,719 2025,719C2023,719 2019,715 2020,712Z"/>
<path fill="#87beda" d="M1922,744C1924,742 1931,741 1934,742C1937,743 1940,746 1940,749C1940,751 1936,754 1934,756C1931,757 1926,757 1925,756C1923,754 1921,746 1922,744Z"/>
<path fill="#87beda" d="M1859,753C1860,752 1868,754 1870,756C1872,757 1874,759 1872,760C1871,761 1863,761 1861,760C1859,759 1857,754 1859,753Z"/>
<path fill="#87beda" d="M1800,828C1802,827 1808,827 1811,828C1814,829 1816,831 1816,833C1815,834 1809,837 1806,837C1804,838 1801,837 1800,835C1799,833 1798,829 1800,828Z"/>
<path fill="#87beda" d="M1775,640C1776,637 1782,637 1784,637C1786,638 1787,640 1786,642C1785,644 1779,651 1777,651C1775,651 1774,642 1775,640Z"/>
<path fill="#87beda" d="M1702,717C1703,715 1706,713 1706,715C1707,716 1707,722 1706,724C1706,725 1703,725 1702,724C1701,723 1701,718 1702,717Z"/>
<polygon fill="#87beda" points="1833.7,598.7 1838.3,598.7 1838.3,601.0"/>
<path fill="#87beda" d="M1688,703C1691,700 1703,693 1706,692C1710,691 1711,693 1709,696C1707,699 1696,709 1693,710C1689,711 1686,706 1688,703Z"/>
<path fill="#ef9b7a" d="M1602,803C1604,796 1609,787 1613,780C1618,774 1624,769 1629,762C1635,755 1641,747 1647,740C1653,732 1660,724 1666,717C1672,710 1678,704 1684,699C1689,694 1694,691 1700,687C1705,683 1710,678 1716,674C1721,669 1728,665 1734,660C1740,656 1746,651 1752,646C1758,642 1764,638 1770,633C1776,628 1782,623 1788,617C1794,611 1801,604 1806,599C1812,594 1817,590 1820,587C1824,585 1826,584 1827,585C1828,586 1829,590 1827,594C1825,598 1818,605 1813,610C1808,615 1803,621 1797,626C1792,631 1785,635 1779,640C1773,644 1767,647 1761,651C1755,655 1749,659 1743,662C1737,666 1732,668 1727,671C1722,675 1716,679 1711,683C1706,687 1702,690 1697,694C1693,698 1688,703 1684,708C1679,713 1675,718 1670,724C1666,729 1661,734 1656,740C1652,745 1648,751 1643,758C1638,765 1630,773 1625,780C1619,788 1615,796 1611,803C1607,810 1604,821 1602,821C1600,821 1600,810 1602,803Z"/>
<path fill="#ef9b7a" d="M1791,649C1791,646 1800,638 1806,633C1813,628 1822,622 1829,617C1837,612 1844,608 1852,603C1859,599 1867,594 1875,590C1882,585 1890,578 1897,576C1905,574 1917,574 1920,576C1923,578 1919,584 1916,587C1912,590 1904,592 1897,594C1890,596 1880,596 1875,601C1869,606 1866,615 1863,621C1860,627 1860,635 1856,637C1853,639 1847,632 1840,633C1834,633 1824,637 1818,640C1811,642 1806,647 1802,649C1797,650 1790,651 1791,649Z"/>
<path fill="#ef9b7a" d="M1750,699C1750,696 1757,693 1761,690C1765,686 1769,683 1772,678C1775,674 1777,666 1779,662C1782,658 1785,653 1788,653C1791,654 1797,660 1797,665C1798,669 1796,674 1793,678C1790,682 1783,685 1779,690C1776,694 1776,701 1772,703C1769,706 1760,706 1756,706C1753,705 1749,701 1750,699Z"/>
<path fill="#ef9b7a" d="M1843,576C1845,574 1857,574 1859,576C1861,578 1856,584 1854,585C1852,587 1847,587 1845,585C1843,584 1841,578 1843,576Z"/>
<path fill="#ef9b7a" d="M1877,624C1878,620 1886,620 1888,621C1891,623 1891,631 1890,635C1890,639 1888,643 1886,644C1884,646 1881,648 1879,644C1878,641 1875,628 1877,624Z"/>
<path fill="#ef9b7a" d="M1822,651C1823,649 1831,644 1834,644C1837,644 1841,649 1840,651C1840,653 1832,656 1829,656C1826,656 1822,653 1822,651Z"/>
<path fill="#ef9b7a" d="M1720,685C1722,683 1728,677 1732,676C1735,675 1739,678 1738,680C1738,683 1732,688 1729,690C1727,691 1724,690 1722,690C1721,689 1719,687 1720,685Z"/>
<path fill="#ef9b7a" d="M1736,692C1737,691 1742,691 1743,692C1744,693 1744,695 1743,696C1742,697 1738,698 1737,698C1736,697 1735,693 1736,692Z"/>
<path fill="#ef9b7a" d="M1706,749C1709,744 1717,739 1720,740C1724,740 1727,748 1727,753C1727,758 1725,766 1722,771C1720,777 1714,785 1711,787C1708,790 1705,788 1704,785C1703,782 1704,775 1704,769C1705,763 1704,754 1706,749Z"/>
<path fill="#ef9b7a" d="M2020,644C2023,638 2030,623 2034,619C2038,615 2043,616 2045,621C2047,627 2049,643 2047,651C2046,659 2040,666 2036,669C2032,672 2028,671 2025,669C2022,667 2018,660 2018,656C2017,651 2017,650 2020,644Z"/>
<path fill="#ef9b7a" d="M2054,665C2055,662 2059,660 2060,662C2061,665 2061,676 2060,678C2059,680 2055,678 2054,676C2053,674 2053,667 2054,665Z"/>
<path fill="#ef9b7a" d="M1943,576C1944,573 1953,573 1956,576C1959,579 1960,589 1961,594C1962,600 1964,606 1963,608C1962,610 1959,610 1956,608C1954,606 1952,600 1950,594C1947,589 1942,579 1943,576Z"/>
<path fill="#ef9b7a" d="M1679,814C1681,813 1689,810 1693,810C1697,810 1702,813 1702,814C1702,816 1696,820 1693,821C1689,823 1684,823 1682,821C1679,820 1677,816 1679,814Z"/>
<path fill="#ef9b7a" d="M1747,833C1749,832 1757,830 1759,830C1761,831 1762,836 1761,837C1760,838 1754,838 1752,837C1750,837 1746,834 1747,833Z"/>
<path fill="#ef9b7a" d="M1868,717C1869,716 1875,716 1877,717C1879,718 1880,720 1879,721C1878,722 1872,723 1870,722C1868,722 1867,718 1868,717Z"/>
<path fill="#ef9b7a" d="M1988,637C1989,637 1997,640 2000,642C2002,644 2003,648 2002,649C2001,649 1995,646 1993,644C1991,642 1987,638 1988,637Z"/>
<path fill="#ef9b7a" d="M2052,576C2053,574 2059,574 2060,576C2061,578 2061,587 2060,590C2059,592 2055,592 2054,590C2053,587 2051,578 2052,576Z"/>
<path fill="#87beda" d="M367,856C368,854 375,853 378,853C381,854 383,859 382,860C382,862 376,862 373,862C371,862 368,861 367,860C365,859 365,857 367,856Z"/>
<path fill="#87beda" d="M360,867C361,865 368,863 371,865C374,866 375,871 376,874C376,876 375,880 373,880C372,881 367,878 364,876C362,874 359,869 360,867Z"/>
<path fill="#87beda" d="M392,856C393,853 401,850 403,851C405,852 403,857 403,860C403,863 399,866 401,869C402,872 409,875 412,878C415,881 418,884 419,887C420,890 419,894 417,896C414,898 409,900 405,899C402,898 398,894 396,890C395,885 397,878 396,874C395,870 392,868 392,865C391,862 390,858 392,856Z"/>
<path fill="#87beda" d="M387,903C388,902 393,902 396,903C399,904 402,908 403,910C404,912 403,914 401,915C399,915 394,914 392,912C389,910 386,905 387,903Z"/>
<path fill="#87beda" d="M342,919C343,918 349,918 351,919C353,920 354,923 353,924C352,925 346,927 344,926C342,925 340,920 342,919Z"/>
<path fill="#87beda" d="M364,928C365,926 370,921 371,921C373,922 372,930 373,933C375,935 378,936 378,937C378,939 378,942 376,942C374,942 368,937 367,935C365,933 364,930 364,928Z"/>
<path fill="#87beda" d="M321,930C323,930 330,930 332,930C335,931 336,934 335,935C333,936 326,936 323,935C321,934 320,931 321,930Z"/>
<path fill="#87beda" d="M344,949C345,948 349,948 351,949C352,949 354,952 353,953C352,954 348,954 346,953C345,952 343,949 344,949Z"/>
<path fill="#87beda" d="M321,967C322,965 328,962 330,962C332,962 333,965 332,967C332,968 328,971 326,971C324,971 320,968 321,967Z"/>
<path fill="#87beda" d="M319,976C319,975 322,975 323,976C325,977 326,980 326,980C325,981 322,981 321,980C320,980 319,977 319,976Z"/>
<path fill="#87beda" d="M355,937C356,937 359,937 360,937C361,938 360,940 360,941C359,941 357,941 356,941C356,940 355,938 355,937Z"/>
<path fill="#87beda" d="M414,976C415,976 421,977 423,978C426,979 429,980 428,980C427,981 421,981 419,980C417,980 414,976 414,976Z"/>
<path fill="#87beda" d="M258,1035C258,1034 264,1036 267,1037C269,1039 272,1043 271,1044C270,1045 264,1046 262,1044C260,1043 257,1036 258,1035Z"/>
<path fill="#87beda" d="M319,1033C320,1031 324,1031 326,1033C327,1034 329,1040 328,1042C327,1043 323,1043 321,1042C320,1040 318,1034 319,1033Z"/>
<path fill="#87beda" d="M673,880C674,879 679,881 680,883C681,884 681,888 680,890C679,891 677,891 676,890C674,888 673,882 673,880Z"/>
<path fill="#ef9b7a" d="M426,880C427,878 437,873 442,871C447,870 451,869 455,869C459,870 463,872 466,874C470,875 478,877 478,878C478,880 470,882 466,883C463,884 458,884 455,885C453,887 449,889 451,892C452,895 463,898 466,901C470,904 473,908 473,910C474,912 472,913 469,912C466,911 459,906 455,903C451,900 448,897 444,894C440,892 436,890 432,887C429,885 424,883 426,880Z"/>
<path fill="#ef9b7a" d="M455,858C457,856 465,851 469,851C473,851 477,858 480,860C483,862 489,864 487,865C485,865 474,865 469,865C464,864 460,864 458,862C455,861 453,860 455,858Z"/>
<path fill="#ef9b7a" d="M380,880C381,877 385,871 387,869C389,868 393,870 394,871C395,873 395,877 394,880C393,884 389,888 387,890C385,892 381,893 380,892C379,890 379,884 380,880Z"/>
<path fill="#ef9b7a" d="M578,896C579,894 582,896 585,899C587,901 588,908 592,910C595,912 604,909 605,910C606,912 599,917 596,919C593,921 592,924 589,924C587,923 582,919 580,915C578,910 577,899 578,896Z"/>
<path fill="#ef9b7a" d="M621,865C623,861 629,853 632,851C636,849 640,848 642,851C643,854 639,865 639,869C639,874 642,876 642,878C641,880 638,881 635,880C632,880 626,876 623,874C621,871 619,868 621,865Z"/>
<path fill="#ef9b7a" d="M642,874C643,873 649,873 651,874C652,874 652,876 651,876C649,876 645,876 644,876C642,876 640,874 642,874Z"/>
<path fill="#ef9b7a" d="M453,944C453,942 463,943 466,944C470,945 474,947 476,949C477,951 477,954 476,956C474,957 468,957 464,956C461,954 453,946 453,944Z"/>
<path fill="#ef9b7a" d="M455,965C454,963 461,965 464,967C467,969 473,974 473,976C474,978 472,980 469,978C466,976 456,966 455,965Z"/>
<path fill="#ef9b7a" d="M455,976C456,975 462,977 464,978C467,979 469,982 469,983C468,984 464,984 462,983C460,982 455,977 455,976Z"/>
<path fill="#ef9b7a" d="M387,951C388,950 396,950 398,951C401,952 402,955 401,956C400,956 394,956 392,956C389,955 386,952 387,951Z"/>
<path fill="#ef9b7a" d="M394,960C395,959 400,959 401,960C402,961 402,964 401,965C400,965 396,965 395,965C394,964 393,961 394,960Z"/>
<path fill="#ef9b7a" d="M389,990C390,988 395,988 396,990C397,991 397,995 396,996C395,998 390,998 389,996C388,995 388,991 389,990Z"/>
<path fill="#ef9b7a" d="M478,915C479,914 484,914 485,915C486,915 486,918 485,919C484,920 480,920 479,919C478,918 477,915 478,915Z"/>
<path fill="#ef9b7a" d="M469,930C470,930 474,931 476,932C477,932 477,935 476,935C474,935 470,935 469,934C468,933 468,931 469,930Z"/>
<path fill="#ef9b7a" d="M516,953C517,953 520,952 521,953C522,954 524,957 523,958C523,958 520,957 519,957C518,956 516,954 516,953Z"/>
<polygon fill="#ef9b7a" points="573.3,873.7 580.1,873.7 577.9,878.3"/>
<polygon fill="#ef9b7a" points="580.1,855.5 587.0,857.8 584.7,860.1"/>
<path fill="#ef9b7a" d="M337,1035C338,1034 343,1034 344,1035C345,1036 345,1041 344,1042C343,1043 338,1043 337,1042C336,1041 336,1036 337,1035Z"/>
<path fill="#ef9b7a" d="M278,1030C279,1030 282,1029 282,1030C283,1032 284,1036 284,1037C283,1038 280,1037 279,1036C278,1035 277,1031 278,1030Z"/>
<polygon fill="#ef9b7a" points="312.1,957.8 316.6,957.8 316.6,960.0"/>
<polygon fill="#ef9b7a" points="512.0,857.8 518.8,860.1 514.3,861.2"/>
<path fill="#87beda" d="M931,883C932,882 935,882 938,885C942,888 950,895 952,899C954,902 951,907 950,908C948,909 945,906 943,903C940,901 935,895 934,892C932,888 931,884 931,883Z"/>
<path fill="#ef9b7a" d="M1040,917C1042,915 1055,915 1061,917C1067,918 1073,923 1077,926C1081,929 1083,931 1084,933C1084,935 1085,938 1081,940C1078,941 1066,942 1061,940C1056,937 1053,930 1050,926C1046,922 1038,918 1040,917Z"/>
<path fill="#ef9b7a" d="M747,1092C748,1090 753,1088 754,1090C755,1091 755,1099 754,1101C753,1103 751,1102 750,1101C748,1099 747,1094 747,1092Z"/>
<path fill="#ef9b7a" d="M228,301C233,283 254,300 258,301C262,302 253,306 251,308C249,310 248,310 247,312C247,315 249,318 250,322C251,325 252,330 254,333C256,336 260,335 262,338C265,340 268,344 269,347C270,349 269,352 267,354C265,355 260,355 258,356C255,357 252,356 251,358C249,360 248,362 248,365C248,368 251,371 251,374C250,377 247,378 246,381C245,384 242,390 245,390C248,390 257,384 262,381C268,378 273,374 277,372C281,369 284,367 287,365C291,363 293,362 296,360C300,359 303,356 306,355C308,353 310,351 312,349C315,347 319,346 322,344C324,343 326,341 327,339C328,336 328,332 328,330C329,327 329,325 331,324C332,322 335,322 338,322C340,321 342,319 344,318C347,317 350,315 354,314C357,312 361,311 365,310C368,309 372,309 374,309C376,309 379,309 380,310C381,311 382,313 381,315C380,317 377,319 374,322C371,324 368,328 365,331C362,334 359,336 357,339C355,341 354,344 354,347C353,349 356,353 356,356C356,359 355,362 354,365C352,368 350,369 348,372C345,374 341,376 338,379C334,381 329,383 325,384C321,386 318,388 315,388C312,388 311,384 308,383C305,382 302,381 299,381C295,381 291,382 287,384C284,386 280,389 278,392C276,396 276,400 276,404C276,408 278,412 278,415C278,418 278,420 276,422C274,423 271,424 268,424C265,424 260,423 256,422C253,420 251,417 248,415C246,413 243,411 239,410C236,410 230,429 228,410C226,392 223,319 228,301Z"/>
<path fill="#ef9b7a" d="M282,320C282,318 286,315 290,314C293,312 298,311 302,311C306,311 311,312 315,312C318,313 322,314 323,316C324,317 323,320 322,322C320,323 316,325 312,326C309,328 306,330 302,331C299,332 295,332 292,332C289,331 287,329 285,327C283,325 281,323 282,320Z"/>
<path fill="#ef9b7a" d="M308,328C309,328 313,328 315,328C316,329 318,331 318,332C318,333 314,334 312,334C310,334 307,334 307,333C306,332 307,329 308,328Z"/>
<path fill="#ef9b7a" d="M228,425C230,423 236,424 239,424C243,424 248,425 251,426C254,428 255,430 258,432C261,435 273,440 268,441C263,442 235,444 228,441C221,438 226,428 228,425Z"/>
<path fill="#ef9b7a" d="M342,396C343,394 349,394 351,395C353,396 352,399 354,401C355,404 357,407 359,410C361,414 363,417 365,420C367,422 370,422 372,424C374,426 375,428 376,431C377,434 380,439 379,441C377,443 368,443 365,441C362,439 361,434 359,431C357,428 353,425 351,422C349,419 347,416 346,413C344,410 344,407 343,404C343,401 341,397 342,396Z"/>
<path fill="#ef9b7a" d="M440,365C442,365 446,368 447,370C448,371 446,374 445,374C443,374 440,373 439,372C438,370 439,365 440,365Z"/>
<path fill="#ef9b7a" d="M422,401C424,401 430,403 431,404C432,405 428,408 426,408C425,409 423,407 422,406C421,405 420,402 422,401Z"/>
<path fill="#ef9b7a" d="M381,358C382,356 386,355 388,356C389,357 390,362 390,365C390,368 388,371 387,372C385,372 384,372 383,370C382,367 380,360 381,358Z"/>
<path fill="#ef9b7a" d="M391,432C392,431 397,431 399,431C401,432 402,434 401,436C401,437 396,438 395,438C393,437 390,433 391,432Z"/>
<path fill="#87beda" d="M370,322C372,318 384,314 388,312C392,311 393,313 392,315C392,317 388,321 385,324C383,327 379,332 376,333C374,334 372,333 371,331C369,329 367,325 370,322Z"/>
<path fill="#87beda" d="M401,347C404,345 408,343 410,344C413,346 414,351 416,354C418,356 419,358 422,360C425,363 431,366 433,370C436,373 439,377 439,381C439,385 438,390 436,392C434,395 430,395 428,395C425,394 423,391 420,390C417,389 414,387 410,388C407,388 403,390 399,392C396,395 392,399 390,401C388,404 388,408 388,409C387,411 386,414 385,413C385,412 383,407 383,404C383,401 384,397 385,395C387,392 391,391 393,388C396,385 398,380 399,376C400,372 399,368 399,365C399,361 397,359 397,356C397,353 399,348 401,347Z"/>
<path fill="#87beda" d="M376,343C379,340 385,337 390,335C395,333 401,331 404,331C407,330 409,331 408,333C408,334 402,337 399,340C396,342 393,346 390,349C387,352 385,356 383,358C381,360 380,361 379,360C377,360 376,356 375,354C375,351 374,346 376,343Z"/>
<path fill="#87beda" d="M362,365C362,363 366,362 368,363C371,363 374,365 375,367C377,369 378,374 378,376C377,379 375,381 373,382C371,383 368,381 366,380C364,378 363,376 363,374C362,372 361,367 362,365Z"/>
<path fill="#87beda" d="M346,385C346,384 351,383 354,383C356,383 360,385 360,387C361,388 360,390 358,391C356,392 351,393 349,392C347,391 345,387 346,385Z"/>
<path fill="#87beda" d="M287,392C289,391 296,388 299,388C302,387 304,389 306,390C307,391 308,394 307,396C305,397 300,399 296,399C293,399 289,399 287,398C286,397 285,394 287,392Z"/>
<path fill="#87beda" d="M268,426C270,424 281,418 285,417C289,416 292,419 292,421C292,422 286,425 283,426C279,428 274,430 271,430C269,430 266,429 268,426Z"/>
<path fill="#87beda" d="M316,414C316,412 321,412 324,412C326,412 330,414 331,415C332,417 331,420 330,421C328,422 324,423 322,422C319,421 315,416 316,414Z"/>
<path fill="#87beda" d="M347,420C348,418 353,420 356,422C359,423 363,426 365,429C367,432 370,439 368,441C366,443 357,443 354,441C350,439 350,435 349,431C348,428 346,421 347,420Z"/>
<path fill="#87beda" d="M444,311C444,308 448,310 449,314C451,317 451,323 452,330C452,336 451,348 450,351C450,354 447,352 446,349C445,346 445,341 445,335C444,329 443,315 444,311Z"/>
<path fill="#87beda" d="M406,401C407,400 412,398 415,398C418,398 421,399 422,401C423,403 422,409 421,410C419,412 415,413 413,413C411,413 409,411 408,409C407,408 405,403 406,401Z"/>
<path fill="#87beda" d="M410,322C411,320 415,319 417,319C419,320 422,322 422,324C422,325 419,328 417,328C416,329 413,328 412,327C411,326 410,323 410,322Z"/>
<path fill="#87beda" d="M360,401C361,400 364,399 365,400C366,401 367,406 366,408C365,410 362,412 362,410C361,409 360,403 360,401Z"/>
<path fill="#87beda" d="M399,417C400,417 405,419 406,420C407,421 405,424 404,424C403,425 400,424 399,423C398,422 398,418 399,417Z"/>
<path fill="#87beda" d="M385,430C386,429 389,428 390,429C391,430 393,434 392,434C392,435 388,435 387,434C385,434 385,431 385,430Z"/>
<path fill="#87beda" d="M422,422C423,420 429,420 431,422C433,423 433,429 432,431C431,433 426,434 424,432C422,431 421,424 422,422Z"/>
<path fill="#ef9b7a" d="M584,383C585,381 589,377 593,374C596,371 600,368 604,365C608,362 612,358 616,356C620,353 624,352 627,349C631,346 634,342 636,338C639,333 640,328 641,324C642,320 642,317 643,315C644,312 644,310 645,308C647,306 648,305 650,304C652,304 656,304 657,306C658,307 656,311 654,315C653,318 652,325 650,328C648,332 647,334 644,338C642,341 637,345 634,349C631,352 627,355 625,358C623,361 622,366 621,370C621,373 624,379 623,381C621,383 616,384 613,383C611,382 610,374 607,374C603,374 596,381 593,383C590,385 589,385 587,385C586,385 583,385 584,383Z"/>
<path fill="#ef9b7a" d="M632,301C634,300 651,300 654,301C658,302 652,307 650,308C648,309 644,309 641,308C638,307 629,302 632,301Z"/>
<path fill="#ef9b7a" d="M652,391C653,390 659,389 661,390C664,391 667,393 667,395C667,396 666,398 664,398C662,398 656,398 654,397C653,396 651,392 652,391Z"/>
<path fill="#ef9b7a" d="M634,407C635,406 639,406 641,407C642,408 643,411 642,412C641,412 636,412 635,412C634,411 633,408 634,407Z"/>
<path fill="#ef9b7a" d="M479,360C480,360 483,361 483,363C484,364 481,369 480,370C479,370 478,369 478,367C478,366 478,361 479,360Z"/>
<path fill="#ef9b7a" d="M475,408C477,403 485,396 490,395C495,393 500,396 504,398C507,400 511,405 511,408C511,411 505,412 504,415C502,418 504,424 502,426C499,429 494,433 490,432C486,432 481,428 479,424C476,420 474,413 475,408Z"/>
<path fill="#ef9b7a" d="M547,363C548,362 553,362 554,363C555,364 556,367 555,368C554,369 550,369 548,368C547,367 546,364 547,363Z"/>
<path fill="#ef9b7a" d="M588,334C589,333 593,332 595,332C597,332 599,334 599,335C598,336 595,339 593,339C591,338 588,335 588,334Z"/>
<path fill="#ef9b7a" d="M556,414C558,413 566,410 570,410C574,411 579,416 579,417C579,419 574,420 570,420C567,420 561,418 559,417C556,416 554,415 556,414Z"/>
<path fill="#ef9b7a" d="M559,431C562,429 566,430 570,430C574,430 579,430 582,432C584,434 589,440 584,441C579,442 557,443 553,441C549,439 556,433 559,431Z"/>
<path fill="#ef9b7a" d="M511,392C512,392 518,393 520,395C522,396 524,398 524,399C524,400 522,401 520,401C518,401 515,401 513,399C511,398 510,393 511,392Z"/>
<path fill="#ef9b7a" d="M534,412C534,411 537,410 538,410C539,411 541,413 540,414C540,415 537,415 536,415C535,415 533,412 534,412Z"/>
<path fill="#ef9b7a" d="M577,426C578,424 583,421 587,420C592,418 601,417 604,417C608,418 611,419 609,422C607,424 597,430 593,432C588,434 584,434 582,433C579,432 576,429 577,426Z"/>
<path fill="#ef9b7a" d="M596,390C599,388 602,387 604,388C607,388 610,390 611,392C612,394 611,397 609,399C607,401 602,402 599,404C595,405 590,407 587,408C584,409 580,410 580,408C581,407 588,402 591,399C593,396 594,392 596,390Z"/>
<path fill="#ef9b7a" d="M457,381C458,380 463,379 465,380C467,380 468,384 467,385C467,387 462,387 461,387C459,386 456,382 457,381Z"/>
<path fill="#ef9b7a" d="M467,308C468,306 472,304 473,306C474,307 474,313 473,315C472,316 469,316 468,315C468,314 467,309 467,308Z"/>
<path fill="#87beda" d="M574,379C575,376 578,371 582,367C585,363 589,359 593,356C597,352 600,349 604,347C608,344 613,341 616,339C619,336 620,332 621,330C623,327 623,325 625,324C627,323 632,323 634,324C636,325 636,327 634,331C632,334 625,340 621,343C617,347 614,349 610,352C606,355 602,357 599,360C595,364 590,368 587,372C584,376 581,381 579,383C577,385 576,385 575,384C574,384 572,381 574,379Z"/>
<path fill="#87beda" d="M552,413C552,411 556,406 559,404C562,401 566,400 570,398C574,396 578,394 582,392C585,391 589,390 591,390C592,390 594,393 593,395C592,396 587,398 584,399C581,401 579,402 576,404C573,405 568,406 564,408C561,410 558,413 556,414C554,415 551,414 552,413Z"/>
<path fill="#87beda" d="M574,426C575,425 579,423 582,422C584,421 589,418 591,418C592,418 594,420 593,422C591,424 585,429 582,430C578,431 576,430 575,430C573,429 572,428 574,426Z"/>
<path fill="#87beda" d="M527,432C528,430 532,426 536,424C539,422 544,423 547,422C551,421 554,419 556,420C559,420 562,423 562,425C562,427 558,431 554,432C551,434 546,434 542,434C538,435 533,437 530,437C528,436 526,434 527,432Z"/>
<path fill="#87beda" d="M566,318C567,317 572,315 576,315C579,314 585,315 587,316C589,317 589,319 587,320C585,322 579,323 576,323C573,323 570,322 568,322C566,321 564,319 566,318Z"/>
<path fill="#87beda" d="M570,346C571,345 576,344 577,344C578,345 579,348 578,349C577,350 573,349 571,349C570,348 569,346 570,346Z"/>
<path fill="#87beda" d="M456,344C457,341 460,339 463,339C465,339 469,342 471,344C473,347 476,351 476,354C477,356 475,358 473,360C471,362 468,364 465,365C463,366 460,366 458,365C457,364 456,364 456,360C456,357 455,348 456,344Z"/>
<path fill="#87beda" d="M473,315C474,313 480,310 482,310C485,310 488,312 488,315C488,317 485,320 484,324C484,327 483,331 483,335C484,339 486,344 488,347C490,349 494,349 496,351C498,353 498,358 499,360C501,363 504,363 506,365C508,366 511,368 511,370C511,371 508,375 506,375C504,376 500,372 497,372C494,372 490,377 488,376C486,376 485,372 486,370C486,367 492,363 492,360C493,357 492,355 490,352C488,349 484,346 482,342C480,338 480,334 479,331C477,327 475,324 474,322C473,319 472,317 473,315Z"/>
<path fill="#87beda" d="M490,309C491,307 497,306 499,307C502,307 504,309 505,311C507,314 509,318 508,322C508,325 505,329 504,331C502,333 501,335 499,334C498,333 498,329 497,326C496,323 496,321 495,318C494,315 489,311 490,309Z"/>
<path fill="#87beda" d="M510,306C510,304 517,305 520,306C523,307 524,309 527,311C529,314 533,318 535,322C537,325 538,327 539,331C540,334 541,339 540,342C540,345 538,349 536,349C534,349 532,347 530,344C529,342 528,339 527,335C525,332 524,327 522,324C520,320 517,318 515,315C513,312 509,307 510,306Z"/>
<path fill="#87beda" d="M522,349C523,347 527,345 529,347C531,348 532,352 534,356C535,359 537,366 536,367C535,369 531,366 529,365C527,363 524,361 523,358C522,355 521,351 522,349Z"/>
<path fill="#87beda" d="M619,308C621,306 627,309 631,310C634,312 638,315 638,317C639,319 636,322 634,324C632,326 627,329 625,328C623,328 621,325 620,322C619,318 617,310 619,308Z"/>
<path fill="#87beda" d="M654,310C656,308 661,308 664,308C667,308 671,309 673,310C674,312 674,315 673,317C671,319 667,323 665,324C662,325 659,324 657,322C655,319 653,312 654,310Z"/>
<path fill="#87beda" d="M670,404C671,402 677,400 680,400C682,401 684,406 684,408C684,410 681,411 678,410C676,410 670,405 670,404Z"/>
<path fill="#87beda" d="M673,413C674,412 681,413 682,414C683,415 681,417 680,417C678,418 674,417 673,416C672,415 671,413 673,413Z"/>
<path fill="#87beda" d="M656,426C657,424 665,425 670,424C676,424 683,422 686,424C689,426 690,436 686,438C682,440 666,440 661,438C656,436 654,429 656,426Z"/>
<path fill="#87beda" d="M491,383C492,382 496,381 497,381C499,381 501,384 500,385C500,386 497,387 496,387C494,386 491,384 491,383Z"/>
<path fill="#87beda" d="M529,390C530,389 535,388 536,389C537,389 538,392 537,393C536,395 534,396 532,396C531,395 528,391 529,390Z"/>
<path fill="#87beda" d="M505,417C506,416 509,416 511,417C512,419 515,425 515,426C515,428 512,429 511,429C509,428 507,426 506,424C505,422 504,419 505,417Z"/>
<path fill="#87beda" d="M484,426C485,424 489,423 490,425C491,428 492,438 491,441C490,444 486,443 484,441C483,439 484,429 484,426Z"/>
<path fill="#87beda" d="M520,407C521,406 524,406 526,407C527,408 529,414 528,415C527,416 522,415 521,414C520,413 519,408 520,407Z"/>
<path fill="#87beda" d="M554,379C555,378 558,378 559,379C559,379 559,382 559,383C558,384 555,384 554,383C553,382 553,379 554,379Z"/>
<path fill="#87beda" d="M673,360C674,360 678,359 680,359C681,360 682,363 681,364C680,364 675,364 674,364C673,363 672,361 673,360Z"/>
<path fill="#87beda" d="M235,476C236,472 241,473 245,471C249,469 255,467 260,464C265,462 270,458 274,456C277,454 281,452 283,452C285,451 286,453 285,455C284,457 280,461 277,464C274,467 269,470 266,472C262,474 260,474 256,476C253,477 247,478 245,480C243,482 244,488 243,489C242,491 240,491 238,489C237,487 234,479 235,476Z"/>
<path fill="#87beda" d="M231,526C232,523 235,517 237,514C239,511 242,510 245,509C248,507 251,507 254,508C257,508 260,509 262,510C265,510 268,509 269,510C270,510 269,513 267,514C265,516 260,517 258,519C255,521 253,526 251,528C248,530 246,532 243,533C240,533 233,534 231,533C230,531 230,529 231,526Z"/>
<path fill="#87beda" d="M318,449C318,448 323,446 325,445C327,444 330,443 333,444C336,445 339,449 342,450C345,452 348,450 349,452C350,453 348,460 347,462C345,464 342,466 340,465C338,465 335,461 333,460C331,458 329,456 326,454C324,452 318,451 318,449Z"/>
<path fill="#87beda" d="M408,553C409,552 413,548 415,548C417,548 418,551 418,553C418,555 416,558 415,559C414,560 412,559 410,558C409,557 408,555 408,553Z"/>
<path fill="#87beda" d="M433,466C433,464 439,462 442,461C446,459 449,458 452,457C454,457 457,455 458,456C459,458 459,464 458,466C457,468 452,468 449,469C447,470 445,472 442,472C440,472 433,468 433,466Z"/>
<path fill="#87beda" d="M437,453C437,452 440,450 441,450C443,451 446,453 446,454C446,455 444,457 442,457C441,458 439,457 438,456C437,455 436,454 437,453Z"/>
<path fill="#87beda" d="M346,508C346,506 349,505 350,505C351,506 354,509 354,510C353,511 350,512 349,512C348,512 345,509 346,508Z"/>
<polygon fill="#87beda" points="238.3,499.5 242.8,502.9 239.4,505.2"/>
<path fill="#87beda" d="M340,485C340,484 343,484 344,485C345,485 346,489 346,489C345,490 342,489 341,488C340,487 339,485 340,485Z"/>
<path fill="#87beda" d="M359,439C360,438 366,438 367,439C368,440 366,444 365,445C364,445 361,445 360,444C359,443 358,440 359,439Z"/>
<path fill="#ef9b7a" d="M230,439C236,434 260,437 266,439C271,441 264,446 262,448C261,450 259,452 256,453C254,454 250,452 248,454C247,455 247,459 245,462C243,464 240,468 237,469C235,470 231,472 230,468C229,463 224,444 230,439Z"/>
<path fill="#ef9b7a" d="M373,439C375,438 382,440 384,441C386,442 386,445 384,446C383,447 378,448 376,448C374,448 373,446 373,445C372,443 371,440 373,439Z"/>
<path fill="#ef9b7a" d="M349,456C350,454 356,455 358,455C360,455 363,457 363,458C363,460 360,463 358,464C356,465 353,467 351,465C350,464 348,458 349,456Z"/>
<path fill="#ef9b7a" d="M384,458C385,457 390,458 392,458C394,459 396,461 396,462C395,463 392,465 390,464C388,464 384,459 384,458Z"/>
<path fill="#ef9b7a" d="M387,478C387,477 392,477 393,478C395,478 396,480 396,481C395,482 392,483 390,482C388,482 386,479 387,478Z"/>
<path fill="#ef9b7a" d="M379,493C380,491 387,491 390,492C393,492 396,495 396,496C396,497 392,499 390,500C388,500 383,499 381,498C379,497 377,494 379,493Z"/>
<path fill="#ef9b7a" d="M395,503C395,502 399,502 400,503C402,504 403,507 403,508C402,508 398,508 397,508C396,507 394,504 395,503Z"/>
<path fill="#ef9b7a" d="M375,523C375,522 379,521 382,522C385,523 389,528 391,530C393,533 395,535 395,536C394,537 392,538 390,537C388,536 384,533 382,530C380,528 375,525 375,523Z"/>
<path fill="#ef9b7a" d="M399,537C400,536 405,536 406,537C407,538 408,541 407,542C406,543 403,544 401,543C400,542 398,538 399,537Z"/>
<path fill="#ef9b7a" d="M331,543C331,542 336,543 338,544C339,545 339,547 339,547C338,548 334,549 333,548C332,548 330,544 331,543Z"/>
<path fill="#ef9b7a" d="M284,468C284,467 288,467 288,468C289,468 289,472 288,473C288,474 286,473 285,472C284,471 283,468 284,468Z"/>
<path fill="#ef9b7a" d="M454,508C454,505 457,505 458,508C459,510 458,522 458,525C458,527 456,526 455,523C454,521 453,510 454,508Z"/>
<path fill="#ef9b7a" d="M454,530C455,529 457,528 458,530C459,532 459,540 458,542C457,543 455,542 454,540C453,539 453,532 454,530Z"/>
<path fill="#ef9b7a" d="M454,567C454,566 457,565 458,566C459,566 458,570 458,571C458,572 456,572 455,571C454,571 453,568 454,567Z"/>
<polygon fill="#ef9b7a" points="322.7,456.1 328.4,457.3 326.1,459.5"/>
<polygon fill="#ef9b7a" points="325.0,466.4 333.0,467.5 330.7,469.8"/>
<path fill="#ef9b7a" d="M456,470C458,468 464,467 467,468C471,468 475,470 479,471C483,472 488,472 490,473C492,474 492,476 490,478C488,479 482,480 479,481C476,482 475,485 473,485C471,484 470,480 467,479C465,477 458,477 456,476C454,474 454,471 456,470Z"/>
<path fill="#ef9b7a" d="M471,494C472,492 476,489 479,488C482,488 485,489 488,490C490,491 493,492 494,494C495,495 495,498 494,500C492,501 487,502 484,503C482,504 479,506 476,505C474,505 471,502 470,501C469,499 469,496 471,494Z"/>
<path fill="#ef9b7a" d="M456,508C458,505 465,505 467,506C470,507 469,510 470,513C470,516 473,521 472,523C471,525 465,526 463,526C460,526 457,526 456,523C455,520 454,510 456,508Z"/>
<path fill="#ef9b7a" d="M456,531C457,530 460,531 461,533C462,534 462,538 462,539C461,541 457,543 456,542C455,540 455,533 456,531Z"/>
<path fill="#ef9b7a" d="M574,494C574,493 576,491 577,492C578,492 580,495 582,497C583,499 586,502 586,503C586,504 584,505 583,504C581,503 577,500 576,498C574,497 573,495 574,494Z"/>
<path fill="#ef9b7a" d="M612,501C613,500 616,499 618,500C620,500 621,502 621,503C621,504 619,506 618,506C617,507 614,506 613,505C612,504 612,502 612,501Z"/>
<path fill="#ef9b7a" d="M604,519C605,517 608,515 610,515C612,516 615,518 616,521C616,524 616,530 615,531C613,533 610,532 609,531C607,530 606,528 606,526C605,524 604,521 604,519Z"/>
<path fill="#ef9b7a" d="M563,523C563,522 566,519 567,519C568,519 570,522 570,523C570,525 568,528 567,528C566,528 563,525 563,523Z"/>
<path fill="#ef9b7a" d="M584,441C586,441 595,442 598,442C600,443 598,444 596,445C594,445 587,445 585,445C583,444 582,442 584,441Z"/>
<path fill="#ef9b7a" d="M482,456C483,455 490,456 494,455C497,454 501,453 504,453C507,452 510,452 511,453C511,453 510,456 507,457C505,459 499,461 496,462C493,463 490,465 488,464C486,463 481,458 482,456Z"/>
<path fill="#ef9b7a" d="M682,537C682,536 685,535 686,536C687,537 686,543 686,544C686,545 684,544 683,543C682,542 681,538 682,537Z"/>
<path fill="#ef9b7a" d="M606,548C606,548 608,548 609,548C610,549 611,553 611,554C611,555 609,555 608,554C607,553 605,549 606,548Z"/>
<path fill="#ef9b7a" d="M456,564C457,563 462,562 463,563C464,564 463,569 462,570C461,572 457,572 456,571C455,570 455,566 456,564Z"/>
<polygon fill="#ef9b7a" points="526.7,573.6 531.3,579.0 526.7,579.0"/>
<path fill="#ef9b7a" d="M546,535C546,534 549,533 550,534C550,534 550,537 550,537C549,538 548,537 547,537C547,537 546,535 546,535Z"/>
<path fill="#87beda" d="M502,489C503,485 506,483 508,482C511,482 515,487 518,487C520,487 524,487 524,485C525,482 521,477 522,473C523,470 527,467 529,464C531,462 536,460 536,458C536,457 527,456 527,454C527,452 533,450 536,448C539,447 540,445 543,445C545,445 548,446 551,447C553,448 557,451 556,453C556,454 550,455 547,456C544,458 540,458 539,462C539,465 543,474 543,478C542,482 537,482 536,485C535,487 538,488 538,492C538,495 538,504 538,508C538,511 541,510 540,512C540,514 537,514 536,517C535,519 536,528 535,528C534,528 531,521 529,519C527,517 526,515 524,517C523,518 520,525 518,530C516,535 514,543 513,547C512,552 511,554 510,559C508,564 508,576 505,579C502,582 492,581 490,579C488,577 493,568 492,564C492,561 488,559 488,556C488,554 494,554 495,551C496,547 494,541 495,536C496,531 498,524 499,519C500,514 500,512 500,508C501,503 500,493 502,489Z"/>
<path fill="#87beda" d="M508,462C510,460 515,459 516,460C518,460 519,462 519,464C518,466 515,471 513,472C511,473 510,473 510,471C509,469 507,464 508,462Z"/>
<path fill="#87beda" d="M561,553C562,551 566,550 568,551C570,551 572,551 574,555C575,560 577,575 575,579C573,583 564,581 562,579C560,577 561,569 561,564C561,560 560,555 561,553Z"/>
<path fill="#87beda" d="M638,478C640,477 646,476 648,476C650,476 651,477 650,478C649,479 643,481 641,481C639,481 637,479 638,478Z"/>
<polygon fill="#87beda" points="535.9,439.0 541.6,442.4 538.1,443.6"/>
<path fill="#87beda" d="M456,458C457,458 460,459 461,460C461,460 460,463 459,464C459,465 457,465 456,464C455,463 455,459 456,458Z"/>
<path fill="#87beda" d="M468,463C470,462 477,461 479,462C481,462 480,465 479,465C477,466 471,466 470,465C468,465 467,464 468,463Z"/>
<path fill="#87beda" d="M641,562C642,562 645,562 645,562C646,563 645,564 644,564C643,565 641,565 641,564C640,564 640,563 641,562Z"/>
<path fill="#ef9b7a" d="M1394,871C1394,870 1401,867 1405,867C1410,867 1418,872 1421,874C1424,876 1426,878 1423,878C1421,879 1410,879 1405,878C1400,877 1394,873 1394,871Z"/>
<path fill="#ef9b7a" d="M1348,924C1351,922 1358,919 1362,919C1367,920 1373,923 1376,926C1378,929 1380,933 1378,935C1376,937 1367,938 1362,937C1357,937 1351,933 1348,930C1346,928 1346,926 1348,924Z"/>
<path fill="#ef9b7a" d="M1455,901C1456,900 1462,899 1464,900C1467,900 1469,903 1469,904C1469,906 1464,908 1462,908C1460,907 1455,902 1455,901Z"/>
<path fill="#ef9b7a" d="M1473,926C1474,925 1480,923 1482,924C1485,924 1488,927 1487,928C1486,929 1480,931 1478,930C1476,930 1473,927 1473,926Z"/>
<path fill="#ef9b7a" d="M1530,953C1532,952 1540,951 1544,951C1548,951 1549,953 1553,956C1556,958 1560,962 1564,965C1568,967 1576,970 1578,971C1580,973 1579,976 1576,976C1572,976 1562,976 1558,974C1553,972 1553,967 1548,965C1544,962 1536,962 1532,960C1529,958 1528,955 1530,953Z"/>
<path fill="#ef9b7a" d="M1410,978C1412,976 1420,972 1423,971C1427,971 1430,974 1432,976C1435,978 1434,982 1437,985C1440,988 1445,991 1451,992C1457,993 1466,990 1473,992C1481,993 1489,998 1496,1001C1503,1004 1513,1006 1517,1008C1520,1010 1520,1013 1517,1015C1513,1016 1504,1018 1496,1019C1488,1020 1472,1022 1467,1021C1462,1021 1465,1017 1467,1015C1468,1012 1475,1010 1473,1008C1472,1006 1463,1002 1458,1001C1452,999 1444,1001 1439,999C1434,996 1433,990 1428,987C1423,985 1415,987 1412,985C1409,983 1408,980 1410,978Z"/>
<path fill="#ef9b7a" d="M1367,1040C1368,1038 1375,1036 1378,1037C1381,1038 1386,1044 1385,1046C1384,1048 1374,1050 1371,1049C1368,1048 1365,1042 1367,1040Z"/>
<path fill="#ef9b7a" d="M1437,1065C1438,1064 1443,1064 1444,1065C1445,1065 1445,1068 1444,1069C1443,1070 1438,1070 1437,1069C1436,1068 1436,1065 1437,1065Z"/>
<path fill="#ef9b7a" d="M1467,1071C1468,1070 1475,1069 1478,1069C1481,1069 1487,1072 1487,1074C1487,1076 1483,1080 1480,1080C1478,1081 1473,1080 1471,1078C1469,1077 1465,1073 1467,1071Z"/>
<path fill="#ef9b7a" d="M1176,1101C1177,1099 1186,1097 1189,1096C1193,1096 1195,1097 1196,1099C1197,1100 1199,1104 1196,1105C1194,1107 1184,1106 1180,1105C1177,1105 1174,1102 1176,1101Z"/>
<path fill="#ef9b7a" d="M1210,883C1210,882 1214,882 1214,883C1215,884 1215,888 1214,890C1214,891 1212,891 1211,890C1210,888 1209,884 1210,883Z"/>
<path fill="#87beda" d="M1555,919C1556,917 1561,915 1564,915C1567,914 1572,915 1573,917C1575,918 1576,922 1573,924C1571,925 1563,927 1560,926C1557,925 1554,921 1555,919Z"/>
<path fill="#87beda" d="M1535,856C1535,854 1542,853 1544,853C1546,854 1549,857 1548,858C1548,859 1544,860 1542,860C1539,860 1534,857 1535,856Z"/>
<path fill="#87beda" d="M1686,1062C1689,1059 1697,1051 1704,1049C1711,1046 1719,1045 1727,1046C1735,1048 1745,1052 1750,1056C1754,1059 1755,1063 1754,1067C1754,1070 1752,1074 1747,1076C1743,1077 1734,1076 1727,1076C1720,1076 1711,1075 1704,1074C1698,1072 1691,1071 1688,1069C1685,1067 1683,1066 1686,1062Z"/>
<path fill="#87beda" d="M1743,1071C1744,1070 1754,1070 1761,1069C1768,1068 1778,1066 1784,1067C1789,1068 1792,1072 1795,1074C1798,1076 1797,1076 1802,1078C1806,1080 1819,1085 1822,1087C1826,1090 1826,1092 1825,1094C1823,1096 1816,1098 1816,1101C1815,1104 1816,1109 1820,1112C1824,1115 1836,1117 1840,1119C1845,1121 1851,1125 1847,1126C1844,1127 1827,1129 1818,1126C1809,1123 1801,1114 1795,1110C1789,1106 1789,1104 1784,1101C1779,1097 1770,1093 1766,1090C1761,1086 1760,1081 1756,1078C1753,1075 1742,1073 1743,1071Z"/>
<path fill="#87beda" d="M1702,1119C1704,1118 1711,1117 1716,1117C1720,1117 1723,1118 1727,1119C1731,1121 1742,1125 1738,1126C1734,1127 1708,1127 1702,1126C1696,1125 1700,1121 1702,1119Z"/>
<path fill="#87beda" d="M1832,1017C1835,1015 1844,1014 1852,1015C1860,1015 1874,1016 1879,1019C1884,1022 1883,1027 1881,1030C1880,1034 1874,1040 1870,1042C1866,1044 1863,1045 1859,1044C1855,1043 1850,1041 1845,1037C1841,1034 1834,1027 1832,1024C1829,1020 1828,1018 1832,1017Z"/>
<path fill="#87beda" d="M1981,1028C1983,1026 1988,1019 1993,1017C1998,1015 2007,1013 2011,1015C2015,1016 2016,1024 2016,1028C2015,1032 2010,1037 2006,1040C2003,1042 1997,1043 1993,1042C1989,1041 1983,1035 1981,1033C1980,1030 1980,1031 1981,1028Z"/>
<path fill="#87beda" d="M1940,1080C1942,1078 1945,1075 1950,1074C1954,1072 1962,1075 1966,1074C1969,1072 1970,1065 1972,1065C1974,1064 1978,1068 1977,1071C1976,1075 1970,1082 1968,1085C1966,1088 1968,1090 1966,1092C1963,1093 1956,1095 1952,1094C1948,1093 1945,1090 1943,1087C1941,1085 1939,1083 1940,1080Z"/>
<path fill="#87beda" d="M1902,1060C1902,1059 1905,1056 1906,1056C1908,1055 1911,1057 1911,1058C1911,1059 1908,1062 1906,1062C1905,1063 1902,1061 1902,1060Z"/>
<path fill="#87beda" d="M1886,862C1888,860 1894,858 1897,858C1900,857 1904,857 1904,860C1904,863 1899,870 1897,874C1895,878 1894,884 1893,885C1891,887 1889,885 1888,883C1887,881 1886,875 1886,871C1886,868 1884,865 1886,862Z"/>
<path fill="#87beda" d="M1702,921C1704,920 1710,917 1713,917C1717,917 1723,918 1725,919C1727,920 1727,922 1725,924C1723,926 1717,930 1713,930C1710,931 1704,930 1702,928C1700,927 1700,923 1702,921Z"/>
<path fill="#87beda" d="M1734,890C1735,888 1741,887 1743,887C1745,888 1748,890 1747,892C1747,893 1743,896 1741,896C1738,897 1735,895 1734,894C1733,893 1732,891 1734,890Z"/>
<path fill="#87beda" d="M1663,910C1664,909 1668,907 1670,908C1672,909 1678,913 1677,915C1676,916 1668,915 1666,915C1663,914 1663,911 1663,910Z"/>
<path fill="#87beda" d="M1782,862C1782,861 1786,860 1788,860C1790,860 1793,863 1793,865C1792,866 1788,867 1786,867C1784,867 1781,864 1782,862Z"/>
<path fill="#ef9b7a" d="M1609,919C1610,917 1616,915 1620,915C1625,915 1633,917 1636,919C1640,921 1640,923 1641,926C1641,929 1643,934 1641,935C1638,937 1630,936 1625,935C1620,934 1614,931 1611,928C1608,926 1607,921 1609,919Z"/>
<path fill="#ef9b7a" d="M1711,858C1712,856 1716,854 1720,853C1725,853 1734,853 1738,853C1743,854 1746,856 1747,858C1749,860 1749,863 1747,865C1746,866 1744,870 1738,869C1733,869 1720,864 1716,862C1711,860 1710,859 1711,858Z"/>
<path fill="#87beda" d="M458,1383C458,1381 460,1379 462,1378C464,1378 466,1379 466,1380C467,1382 465,1384 464,1385C463,1386 461,1388 460,1387C459,1387 457,1384 458,1383Z"/>
<path fill="#ef9b7a" d="M492,1360C493,1358 499,1353 503,1351C506,1349 510,1348 512,1349C514,1349 513,1351 512,1353C511,1355 508,1358 505,1360C503,1362 498,1364 496,1364C494,1364 490,1362 492,1360Z"/>
<path fill="#ef9b7a" d="M516,1362C517,1361 521,1360 523,1360C525,1360 528,1363 528,1364C528,1366 525,1371 523,1371C522,1372 520,1371 519,1369C518,1368 516,1364 516,1362Z"/>
<path fill="#ef9b7a" d="M569,1390C571,1387 577,1385 580,1385C584,1385 587,1386 589,1387C591,1389 593,1392 594,1394C595,1396 598,1400 594,1401C590,1402 573,1403 569,1401C565,1399 567,1392 569,1390Z"/>
<path fill="#ef9b7a" d="M423,1394C425,1394 433,1393 435,1393C437,1393 437,1396 435,1396C433,1397 425,1397 423,1396C422,1396 422,1395 423,1394Z"/>
<path fill="#ef9b7a" d="M421,1399C423,1398 431,1398 432,1399C434,1399 434,1401 432,1401C431,1401 423,1401 421,1401C419,1401 419,1399 421,1399Z"/>
<path fill="#ef9b7a" d="M1081,1146C1084,1144 1089,1143 1095,1142C1101,1141 1110,1142 1118,1142C1125,1142 1136,1142 1140,1144C1145,1146 1144,1151 1144,1153C1144,1156 1144,1158 1140,1160C1137,1162 1128,1163 1122,1165C1117,1166 1112,1168 1106,1167C1101,1166 1095,1162 1090,1160C1086,1158 1083,1156 1081,1153C1080,1151 1079,1148 1081,1146Z"/>
<path fill="#ef9b7a" d="M1018,1169C1018,1168 1021,1168 1022,1169C1024,1170 1027,1173 1027,1174C1026,1175 1022,1177 1020,1176C1018,1175 1017,1170 1018,1169Z"/>
<path fill="#ef9b7a" d="M974,1206C975,1205 980,1204 981,1204C983,1205 984,1209 984,1210C983,1211 978,1211 977,1210C975,1209 974,1206 974,1206Z"/>
<path fill="#87beda" d="M734,1212C735,1210 741,1206 745,1206C750,1205 756,1208 761,1210C766,1212 771,1214 772,1217C774,1220 772,1224 770,1226C768,1228 765,1229 761,1228C757,1228 749,1225 745,1224C741,1223 738,1223 736,1221C734,1220 732,1215 734,1212Z"/>
<path fill="#87beda" d="M750,1290C755,1286 769,1287 777,1285C784,1283 789,1280 795,1280C801,1281 812,1284 813,1287C815,1290 808,1295 804,1299C801,1302 797,1305 793,1308C788,1310 782,1312 777,1315C772,1317 766,1319 761,1321C756,1324 753,1329 750,1328C746,1328 739,1323 738,1319C738,1316 745,1313 747,1308C749,1303 745,1293 750,1290Z"/>
<path fill="#87beda" d="M859,1274C860,1272 865,1269 868,1269C870,1269 875,1272 875,1274C875,1276 870,1279 868,1280C865,1282 862,1282 861,1280C859,1279 858,1276 859,1274Z"/>
<path fill="#87beda" d="M911,1130C913,1129 921,1129 924,1129C928,1130 931,1133 931,1135C932,1137 931,1141 929,1142C927,1143 923,1143 920,1142C917,1141 915,1139 913,1137C912,1136 909,1132 911,1130Z"/>
<path fill="#87beda" d="M972,1135C974,1133 984,1133 986,1135C987,1137 983,1144 981,1146C980,1149 978,1151 977,1149C975,1147 971,1137 972,1135Z"/>
<path fill="#87beda" d="M756,1130C757,1129 762,1130 763,1130C765,1131 766,1134 766,1135C765,1136 760,1138 759,1137C757,1137 756,1132 756,1130Z"/>
<polygon fill="#87beda" points="720.1,1237.3 724.6,1237.3 724.6,1241.9"/>
<path fill="#ef9b7a" d="M1378,1165C1379,1164 1383,1162 1385,1162C1386,1163 1388,1166 1387,1167C1386,1168 1382,1168 1380,1168C1379,1168 1377,1166 1378,1165Z"/>
<path fill="#ef9b7a" d="M1144,1149C1144,1148 1146,1148 1146,1149C1147,1149 1147,1153 1146,1153C1146,1154 1144,1154 1144,1153C1144,1153 1144,1149 1144,1149Z"/>
<path fill="#87beda" d="M1542,1208C1543,1206 1550,1205 1553,1206C1556,1206 1558,1208 1558,1210C1557,1212 1553,1216 1551,1217C1548,1218 1545,1216 1544,1215C1542,1213 1540,1209 1542,1208Z"/>
<path fill="#87beda" d="M1555,1240C1556,1238 1558,1235 1560,1235C1561,1235 1564,1238 1564,1240C1565,1241 1563,1243 1562,1244C1561,1245 1559,1245 1558,1244C1556,1243 1555,1241 1555,1240Z"/>
<path fill="#87beda" d="M1592,1396C1592,1396 1597,1394 1598,1394C1600,1394 1603,1398 1602,1399C1601,1399 1596,1399 1594,1399C1592,1398 1591,1397 1592,1396Z"/>
<path fill="#ef9b7a" d="M1697,1237C1699,1236 1703,1233 1706,1233C1710,1233 1714,1235 1716,1237C1717,1239 1717,1243 1716,1244C1714,1246 1711,1247 1709,1246C1706,1246 1702,1243 1700,1242C1698,1240 1696,1239 1697,1237Z"/>
<path fill="#87beda" d="M1711,1126C1712,1125 1723,1125 1729,1126C1735,1127 1742,1131 1747,1133C1752,1135 1757,1137 1759,1140C1761,1142 1762,1145 1761,1146C1760,1148 1756,1149 1752,1149C1748,1148 1741,1145 1736,1142C1731,1139 1727,1135 1722,1133C1718,1130 1710,1127 1711,1126Z"/>
<path fill="#87beda" d="M1822,1126C1826,1124 1842,1124 1845,1126C1848,1128 1844,1132 1843,1135C1842,1138 1841,1143 1838,1144C1836,1146 1830,1146 1827,1144C1824,1143 1823,1138 1822,1135C1822,1132 1819,1128 1822,1126Z"/>
<path fill="#87beda" d="M1870,1153C1871,1151 1877,1148 1881,1146C1886,1144 1893,1144 1897,1142C1902,1140 1905,1136 1909,1135C1912,1134 1918,1133 1920,1135C1922,1137 1921,1145 1922,1149C1923,1152 1928,1156 1927,1158C1926,1160 1920,1161 1916,1160C1911,1159 1903,1154 1897,1153C1892,1153 1887,1155 1884,1156C1880,1156 1877,1158 1875,1158C1872,1157 1869,1155 1870,1153Z"/>
<path fill="#87beda" d="M1961,1160C1962,1158 1965,1157 1970,1158C1975,1159 1984,1162 1988,1165C1993,1167 1996,1171 1997,1174C1998,1177 1997,1181 1995,1183C1993,1185 1988,1186 1984,1185C1980,1184 1974,1181 1970,1178C1966,1176 1962,1172 1961,1169C1960,1166 1960,1162 1961,1160Z"/>
<path fill="#87beda" d="M1679,1346C1680,1344 1684,1340 1688,1340C1692,1339 1701,1340 1704,1342C1708,1343 1710,1347 1709,1349C1708,1350 1702,1352 1700,1353C1697,1355 1696,1358 1693,1358C1690,1358 1684,1355 1682,1353C1679,1351 1678,1349 1679,1346Z"/>
<path fill="#87beda" d="M1704,1360C1706,1357 1710,1354 1713,1356C1717,1357 1723,1363 1727,1367C1731,1371 1733,1377 1736,1380C1739,1383 1741,1386 1743,1385C1745,1384 1747,1380 1750,1376C1752,1371 1756,1361 1759,1358C1761,1354 1765,1353 1766,1356C1766,1358 1762,1366 1761,1371C1760,1377 1759,1382 1759,1387C1759,1392 1767,1399 1761,1401C1755,1403 1731,1403 1722,1401C1714,1399 1714,1391 1711,1387C1708,1383 1705,1380 1704,1376C1703,1371 1703,1363 1704,1360Z"/>
<path fill="#87beda" d="M1779,1353C1780,1352 1785,1354 1786,1356C1787,1357 1787,1359 1786,1360C1785,1361 1783,1361 1782,1360C1780,1359 1778,1354 1779,1353Z"/>
<path fill="#87beda" d="M1782,1367C1783,1366 1789,1366 1791,1367C1792,1368 1792,1371 1791,1371C1789,1372 1783,1372 1782,1371C1780,1371 1780,1368 1782,1367Z"/>
<polygon fill="#87beda" points="1608.8,1394.1 1613.4,1396.4 1611.1,1398.6"/>
<path fill="#2f78b5" d="M487,576C490,572 503,570 505,576C508,582 504,601 503,610C502,620 502,625 501,633C499,640 496,648 494,656C492,663 492,672 489,678C487,685 482,688 478,694C474,700 470,705 466,712C463,719 459,727 455,735C452,743 449,751 446,758C443,765 440,771 437,776C434,781 429,786 426,787C423,789 418,788 419,785C419,782 425,775 428,769C431,763 434,756 437,749C440,741 442,731 446,724C450,716 454,710 460,703C465,696 474,690 478,683C482,676 483,671 485,662C486,654 487,643 487,633C487,622 485,608 485,599C485,589 484,580 487,576Z"/>
<polygon fill="#2f78b5" points="427.9,789.6 437.0,787.3 432.5,794.1"/>
<path fill="#2f78b5" d="M396,821C397,820 400,818 401,819C401,820 401,825 401,826C400,827 397,827 396,826C395,825 395,823 396,821Z"/>
<path fill="#2f78b5" d="M478,712C481,708 490,697 494,694C497,691 500,693 498,696C497,699 488,709 485,712C481,716 479,717 478,717C477,717 475,716 478,712Z"/>
<path fill="#2f78b5" d="M539,667C540,666 545,664 546,665C548,665 549,668 548,669C548,670 543,672 542,671C540,671 538,668 539,667Z"/>
<path fill="#c03538" d="M451,780C450,778 454,773 455,769C457,765 459,760 460,756C461,751 461,744 462,744C463,744 465,751 464,756C464,760 461,766 460,771C459,776 459,783 458,785C456,787 451,783 451,780Z"/>
<path fill="#c03538" d="M482,721C483,719 487,713 489,710C492,707 495,703 496,703C497,704 496,709 494,712C492,716 487,724 485,726C483,727 482,724 482,721Z"/>
<path fill="#2f78b5" d="M979,303C983,302 998,303 1002,303C1005,304 1003,307 1000,308C996,309 985,311 981,310C978,309 976,304 979,303Z"/>
<path fill="#2f78b5" d="M974,324C975,322 981,320 984,321C986,323 989,329 988,330C988,332 984,334 981,333C979,332 974,326 974,324Z"/>
<path fill="#2f78b5" d="M974,335C976,334 982,334 984,335C985,336 985,339 984,340C982,340 976,340 974,340C973,339 973,336 974,335Z"/>
<path fill="#2f78b5" d="M974,353C976,352 982,352 984,353C985,354 982,359 981,360C980,361 978,361 977,360C976,359 973,354 974,353Z"/>
<path fill="#2f78b5" d="M963,365C965,363 971,362 972,362C974,363 974,368 972,369C971,370 965,370 963,369C962,368 962,366 963,365Z"/>
<polygon fill="#c03538" points="1008.6,337.3 1015.4,338.5 1013.1,341.9"/>
<polygon fill="#c03538" points="872.3,304.4 881.4,304.4 879.1,306.7"/>
<polygon fill="#c03538" points="813.2,405.5 817.8,405.5 817.8,407.8"/>
<path fill="#2f78b5" d="M1589,515C1590,513 1596,515 1598,517C1601,518 1601,521 1602,524C1603,527 1603,534 1602,535C1601,536 1596,532 1594,528C1592,525 1589,516 1589,515Z"/>
<path fill="#c03538" d="M1560,374C1560,373 1565,375 1567,376C1568,377 1567,380 1567,380C1566,381 1563,382 1562,380C1561,379 1559,374 1560,374Z"/>
<path fill="#c03538" d="M1854,555C1855,553 1862,545 1866,542C1869,539 1873,537 1875,537C1876,538 1874,543 1872,546C1871,549 1866,554 1863,555C1860,557 1854,558 1854,555Z"/>
<path fill="#c03538" d="M1900,519C1901,518 1911,513 1916,512C1920,512 1926,513 1925,515C1923,516 1913,521 1909,521C1905,522 1898,521 1900,519Z"/>
<path fill="#c03538" d="M1936,510C1938,509 1945,508 1947,508C1949,508 1949,510 1947,511C1946,512 1940,512 1938,512C1936,512 1934,511 1936,510Z"/>
<polygon fill="#c03538" points="1888.3,571.4 1897.3,569.1 1897.3,573.6"/>
<path fill="#c03538" d="M1643,453C1644,452 1652,454 1654,456C1656,457 1656,459 1654,460C1653,461 1647,461 1645,460C1643,459 1641,454 1643,453Z"/>
<polygon fill="#c03538" points="1667.9,466.8 1674.7,466.8 1674.7,471.4"/>
<polygon fill="#c03538" points="1656.5,494.1 1663.3,496.4 1661.1,498.7"/>
<polygon fill="#c03538" points="1613.4,401.0 1620.2,403.2 1620.2,407.8"/>
<path fill="#c03538" d="M2047,521C2047,520 2052,518 2054,519C2056,520 2059,526 2059,528C2059,530 2056,532 2054,530C2052,529 2047,523 2047,521Z"/>
<polygon fill="#c03538" points="1824.6,387.3 1826.9,388.5 1826.9,391.9"/>
<path fill="#2f78b5" d="M1927,378C1928,377 1934,378 1936,380C1938,383 1940,389 1940,392C1941,395 1940,398 1938,399C1937,399 1933,396 1931,394C1930,392 1930,388 1929,385C1928,382 1926,379 1927,378Z"/>
<polygon fill="#2f78b5" points="1901.9,423.7 1904.2,423.7 1904.2,426.0"/>
<path fill="#2f78b5" d="M1702,465C1703,464 1707,465 1709,467C1711,469 1715,476 1716,478C1716,480 1713,479 1711,478C1709,477 1706,474 1704,471C1703,469 1701,465 1702,465Z"/>
<path fill="#2f78b5" d="M1627,451C1627,449 1632,449 1634,451C1636,452 1639,458 1638,460C1638,462 1633,462 1632,460C1630,458 1627,452 1627,451Z"/>
<path fill="#2f78b5" d="M1661,474C1661,473 1666,475 1668,476C1669,477 1671,480 1670,480C1670,481 1667,482 1666,480C1664,479 1661,474 1661,474Z"/>
<path fill="#2f78b5" d="M1684,492C1684,491 1687,491 1688,492C1689,493 1691,496 1691,496C1690,497 1687,497 1686,496C1685,496 1683,493 1684,492Z"/>
<path fill="#2f78b5" d="M1602,528C1602,526 1605,528 1606,530C1608,533 1609,540 1609,542C1608,544 1605,544 1604,542C1603,540 1602,530 1602,528Z"/>
<path fill="#2f78b5" d="M2046,501C2047,499 2052,501 2053,503C2054,506 2054,510 2054,517C2054,523 2054,538 2053,542C2052,546 2050,544 2048,540C2047,535 2046,523 2046,517C2046,510 2045,503 2046,501Z"/>
<path fill="#c03538" d="M1208,687C1209,686 1212,688 1214,690C1216,692 1219,696 1219,699C1219,701 1218,704 1217,706C1216,707 1214,707 1212,706C1211,704 1208,699 1208,696C1207,693 1206,688 1208,687Z"/>
<path fill="#c03538" d="M1237,762C1238,761 1244,761 1246,762C1249,763 1251,767 1253,769C1255,771 1256,774 1255,776C1255,777 1253,779 1251,778C1249,777 1244,772 1242,769C1239,766 1236,763 1237,762Z"/>
<path fill="#c03538" d="M1221,763C1222,763 1227,764 1228,765C1229,765 1229,766 1228,767C1227,767 1222,767 1221,767C1220,766 1220,764 1221,763Z"/>
<path fill="#c03538" d="M1585,821C1585,818 1593,807 1596,803C1599,800 1601,798 1602,801C1603,804 1604,818 1602,821C1600,825 1594,824 1592,824C1589,824 1584,825 1585,821Z"/>
<path fill="#2f78b5" d="M1262,671C1262,670 1267,672 1269,674C1271,675 1272,679 1271,680C1271,682 1268,682 1267,680C1265,679 1262,673 1262,671Z"/>
<path fill="#2f78b5" d="M1198,699C1199,697 1203,699 1205,701C1207,703 1210,708 1210,710C1210,712 1207,712 1205,712C1204,712 1202,712 1201,710C1200,708 1198,700 1198,699Z"/>
<polygon fill="#2f78b5" points="1180.3,712.3 1184.9,712.3 1184.9,714.6"/>
<path fill="#2f78b5" d="M1258,735C1258,734 1263,736 1264,737C1266,738 1267,741 1267,742C1266,743 1261,743 1260,742C1258,741 1257,736 1258,735Z"/>
<path fill="#2f78b5" d="M1212,767C1213,766 1217,768 1219,769C1221,770 1224,771 1224,771C1224,772 1221,774 1219,774C1217,774 1213,773 1212,771C1211,770 1211,767 1212,767Z"/>
<path fill="#2f78b5" d="M1235,603C1235,602 1237,604 1237,606C1238,607 1238,611 1238,612C1238,613 1237,614 1236,612C1235,611 1235,604 1235,603Z"/>
<polygon fill="#2f78b5" points="1200.8,619.2 1204.2,620.3 1204.2,624.8"/>
<path fill="#2f78b5" d="M1663,710C1663,708 1668,700 1670,696C1673,693 1675,690 1679,687C1683,685 1691,680 1693,680C1695,680 1694,684 1693,687C1691,690 1688,695 1684,699C1680,702 1674,708 1670,710C1667,712 1663,712 1663,710Z"/>
<path fill="#2f78b5" d="M1625,744C1626,743 1632,739 1634,740C1635,740 1635,745 1634,746C1633,748 1629,749 1627,749C1625,748 1624,746 1625,744Z"/>
<path fill="#c03538" d="M1636,753C1637,750 1643,743 1647,737C1652,732 1656,726 1661,721C1666,717 1674,711 1677,710C1680,709 1681,712 1679,715C1677,718 1670,723 1666,728C1661,733 1656,740 1652,744C1648,749 1643,754 1641,756C1638,757 1635,756 1636,753Z"/>
<path fill="#c03538" d="M1784,619C1785,617 1791,614 1795,610C1799,606 1802,600 1806,596C1811,593 1817,589 1820,587C1823,586 1825,587 1825,590C1824,592 1819,598 1816,601C1812,604 1806,607 1802,610C1797,614 1791,620 1788,621C1785,623 1783,621 1784,619Z"/>
<polygon fill="#c03538" points="1711.0,678.2 1715.6,676.0 1715.6,679.4"/>
<polygon fill="#c03538" points="1724.7,669.1 1728.1,666.9 1729.2,669.1"/>
<path fill="#2f78b5" d="M401,871C401,871 404,871 405,871C406,872 406,875 405,876C405,877 403,877 402,876C401,875 400,872 401,871Z"/>
<polygon fill="#2f78b5" points="405.2,891.9 409.7,891.9 409.7,895.3"/>
<path fill="#c03538" d="M438,887C439,887 442,887 444,887C445,888 447,891 446,892C446,893 442,893 440,892C439,891 438,888 438,887Z"/>
<path fill="#c03538" d="M228,301C233,283 252,299 255,301C259,303 250,307 248,310C247,313 248,314 248,317C249,320 251,323 253,326C255,329 257,332 259,335C261,338 266,342 267,344C268,347 267,350 266,351C264,353 259,354 256,355C254,355 251,354 250,356C248,358 247,362 247,365C247,368 250,371 250,374C249,377 246,378 244,381C242,384 240,388 240,390C240,392 244,393 244,396C244,398 242,402 239,404C237,406 230,424 228,407C226,390 223,319 228,301Z"/>
<path fill="#c03538" d="M239,395C241,393 251,390 256,388C262,385 269,383 274,381C278,379 281,376 285,374C289,372 295,370 299,368C303,367 307,366 310,365C314,364 316,364 319,363C322,361 326,360 328,358C331,356 334,354 336,352C339,350 342,349 344,347C346,345 347,342 349,340C351,338 354,336 356,333C358,330 360,326 363,324C365,321 367,319 370,317C372,315 374,313 375,312C377,312 378,314 378,316C377,318 374,321 372,324C370,327 367,330 365,333C363,336 361,338 359,341C357,344 355,348 354,351C352,354 352,357 351,360C350,363 350,367 349,370C347,372 345,373 342,375C339,377 334,379 331,381C327,383 322,385 319,385C317,386 314,384 315,383C315,382 319,380 322,379C324,377 331,373 331,372C331,370 326,369 323,370C319,370 313,372 308,374C303,376 297,377 292,379C287,380 281,382 276,384C271,386 266,388 262,390C258,392 254,394 251,396C248,397 247,399 245,399C243,399 238,396 239,395Z"/>
<path fill="#c03538" d="M308,360C308,358 312,353 315,351C318,349 322,347 325,347C328,346 330,348 331,349C331,350 331,352 328,355C326,357 320,362 317,363C314,364 308,362 308,360Z"/>
<path fill="#c03538" d="M283,323C283,320 288,319 292,317C296,315 301,314 306,314C310,313 315,315 317,316C319,317 320,318 318,319C317,320 312,321 308,323C304,324 299,327 296,328C294,330 293,332 291,331C288,330 283,325 283,323Z"/>
<path fill="#c03538" d="M408,312C409,311 413,308 416,308C419,307 424,308 428,310C432,312 437,316 439,319C442,323 443,328 442,331C442,333 439,335 437,335C435,335 431,333 429,331C427,328 426,323 424,320C422,318 418,316 416,316C414,315 412,318 410,317C409,316 407,314 408,312Z"/>
<path fill="#c03538" d="M346,396C346,394 350,395 351,396C352,397 351,399 352,401C354,404 356,408 358,410C360,413 363,416 365,417C367,419 370,420 372,422C374,424 374,428 375,431C376,434 377,439 376,441C376,443 372,443 371,441C369,439 370,434 368,431C367,428 365,426 363,424C361,422 358,420 356,417C354,415 352,413 350,410C349,408 347,406 347,404C346,401 345,397 346,396Z"/>
<path fill="#c03538" d="M365,383C366,382 370,384 372,385C374,387 375,390 376,392C377,395 379,399 379,401C378,404 377,407 375,408C374,409 371,408 370,406C368,404 369,399 368,397C368,394 365,392 365,390C364,388 364,384 365,383Z"/>
<path fill="#c03538" d="M390,344C391,342 395,342 397,342C399,342 401,345 401,347C402,348 400,351 399,352C398,353 395,355 393,354C392,352 389,346 390,344Z"/>
<path fill="#c03538" d="M382,363C382,361 385,360 387,360C388,361 389,366 389,367C389,369 385,370 384,370C383,369 382,364 382,363Z"/>
<path fill="#c03538" d="M385,374C387,373 390,374 392,375C395,377 398,381 399,383C400,385 399,388 398,389C397,390 393,389 391,388C389,386 386,383 385,381C384,379 384,375 385,374Z"/>
<path fill="#c03538" d="M322,407C323,406 328,405 331,405C333,405 337,407 338,408C338,410 338,412 336,413C335,414 331,414 328,414C326,414 324,412 323,410C322,409 320,408 322,407Z"/>
<path fill="#c03538" d="M325,428C326,426 330,426 332,426C333,427 335,431 334,432C334,434 330,435 328,434C327,434 324,429 325,428Z"/>
<path fill="#c03538" d="M235,434C237,433 242,431 245,431C248,431 250,434 251,436C251,437 251,440 248,441C246,442 236,442 234,441C231,440 233,436 235,434Z"/>
<path fill="#2f78b5" d="M401,373C403,371 409,370 410,372C412,373 413,378 413,381C413,383 411,386 409,387C408,387 405,388 404,385C402,383 400,375 401,373Z"/>
<path fill="#2f78b5" d="M428,381C428,379 432,380 433,382C435,384 436,388 436,390C435,392 430,393 429,391C427,390 427,382 428,381Z"/>
<path fill="#2f78b5" d="M410,322C411,320 415,319 416,320C418,320 420,323 420,324C420,325 418,327 416,327C415,328 413,327 412,326C411,325 410,323 410,322Z"/>
<path fill="#2f78b5" d="M365,367C366,365 370,365 372,366C374,367 375,371 375,373C375,375 373,379 372,380C370,380 368,379 367,377C366,375 364,369 365,367Z"/>
<path fill="#2f78b5" d="M294,392C295,391 301,391 302,391C304,392 304,395 303,396C302,397 298,397 296,397C295,396 293,393 294,392Z"/>
<path fill="#2f78b5" d="M355,424C355,422 360,424 362,425C363,427 365,434 365,436C365,438 361,440 359,438C357,436 354,426 355,424Z"/>
<path fill="#2f78b5" d="M446,314C446,310 448,312 449,316C450,319 450,331 450,335C450,339 449,340 449,340C448,340 448,340 447,335C447,331 446,317 446,314Z"/>
<path fill="#2f78b5" d="M409,401C411,400 416,400 417,400C419,401 420,404 420,406C419,408 416,410 414,410C412,411 411,410 410,408C410,407 408,403 409,401Z"/>
<path fill="#2f78b5" d="M318,414C319,413 324,413 326,413C328,414 329,417 328,418C328,420 323,420 322,420C320,419 317,415 318,414Z"/>
<path fill="#2f78b5" d="M378,347C378,344 380,343 381,344C382,346 382,354 382,356C382,358 379,360 379,358C378,356 377,349 378,347Z"/>
<path fill="#c03538" d="M583,385C584,383 591,375 596,370C602,364 609,358 615,354C620,349 627,345 631,341C635,337 636,332 638,327C641,323 642,317 643,314C644,310 644,308 645,308C647,307 650,307 651,310C652,313 652,323 652,327C651,332 649,334 646,338C644,341 640,345 636,349C632,353 627,357 621,362C616,366 608,370 603,374C598,378 594,382 591,384C587,386 582,388 583,385Z"/>
<path fill="#c03538" d="M577,408C577,407 584,404 587,401C591,399 596,396 599,395C601,393 603,392 604,392C605,393 606,396 606,398C605,400 602,402 599,404C596,405 591,407 587,408C584,409 577,409 577,408Z"/>
<path fill="#c03538" d="M585,431C586,430 590,426 593,424C596,422 601,421 603,421C605,421 607,423 606,424C604,426 598,428 595,430C592,431 589,433 587,433C585,434 584,433 585,431Z"/>
<path fill="#c03538" d="M583,307C584,305 589,304 593,303C596,303 602,303 603,304C605,305 603,308 602,309C601,310 598,312 595,312C593,313 589,312 587,311C585,310 582,308 583,307Z"/>
<path fill="#c03538" d="M658,331C658,329 663,326 667,324C671,321 681,316 684,315C687,314 687,316 686,318C685,320 680,324 676,326C673,328 668,331 665,332C662,333 658,332 658,331Z"/>
<path fill="#c03538" d="M471,335C471,333 474,333 475,334C477,335 478,340 479,342C479,345 479,348 478,349C477,350 474,349 473,347C472,344 470,337 471,335Z"/>
<path fill="#c03538" d="M456,333C457,330 459,330 459,332C460,333 461,338 461,341C460,344 457,350 456,349C455,348 455,336 456,333Z"/>
<path fill="#c03538" d="M511,347C512,346 516,345 518,347C519,348 519,352 519,354C518,355 517,356 515,356C514,355 512,353 511,351C510,350 510,347 511,347Z"/>
<path fill="#c03538" d="M540,383C542,381 546,380 547,381C549,382 550,386 550,388C549,390 545,393 544,393C542,394 541,393 540,391C540,389 539,385 540,383Z"/>
<path fill="#c03538" d="M491,415C492,413 496,412 497,413C498,413 499,414 499,418C499,423 498,437 497,441C496,445 493,444 492,441C492,438 494,429 494,424C493,420 491,417 491,415Z"/>
<path fill="#c03538" d="M494,429C495,427 499,427 500,429C502,431 503,439 502,441C501,443 496,443 495,441C493,439 493,431 494,429Z"/>
<path fill="#c03538" d="M490,326C491,325 493,325 494,326C494,327 494,333 494,334C493,335 492,335 491,334C491,333 490,327 490,326Z"/>
<path fill="#2f78b5" d="M576,381C577,379 579,375 582,372C584,368 589,364 593,360C597,357 601,354 604,351C608,349 612,345 613,344C615,344 617,345 616,347C614,348 608,353 604,356C600,359 596,362 593,365C589,368 586,372 584,375C581,378 578,382 577,383C576,384 575,383 576,381Z"/>
<path fill="#2f78b5" d="M553,412C553,411 557,408 561,406C565,404 571,401 576,399C580,397 585,394 587,393C590,393 592,394 591,396C590,397 585,400 582,401C578,403 574,404 570,406C566,408 562,410 559,410C556,411 553,412 553,412Z"/>
<path fill="#2f78b5" d="M577,429C577,428 581,425 584,423C586,422 590,420 592,420C593,420 594,422 593,423C592,424 586,427 584,428C581,429 577,430 577,429Z"/>
<path fill="#2f78b5" d="M474,317C475,314 480,312 482,311C484,311 486,314 486,316C486,318 481,321 481,324C481,327 484,332 486,335C487,339 489,342 490,344C492,347 494,349 495,351C495,353 494,356 492,356C491,355 488,352 486,349C484,346 482,343 480,340C478,336 477,332 476,328C476,325 473,320 474,317Z"/>
<path fill="#2f78b5" d="M494,310C494,308 500,308 502,309C504,310 506,315 506,318C507,321 505,324 504,326C503,328 503,330 502,328C501,327 500,322 498,319C497,316 493,312 494,310Z"/>
<path fill="#2f78b5" d="M518,308C518,306 522,306 524,308C527,310 528,314 530,318C532,322 535,326 536,330C537,333 538,338 538,340C538,342 536,343 535,342C533,341 532,336 530,333C529,330 527,327 526,324C524,321 521,318 520,316C519,313 517,309 518,308Z"/>
<path fill="#2f78b5" d="M459,347C460,344 463,342 465,342C467,342 470,347 472,349C474,351 475,353 474,355C474,356 472,359 470,360C468,362 465,363 463,363C461,363 460,363 459,360C459,358 458,350 459,347Z"/>
<path fill="#2f78b5" d="M625,324C626,323 630,324 632,325C633,326 635,329 634,330C633,330 629,332 627,331C626,330 624,325 625,324Z"/>
<path fill="#2f78b5" d="M547,426C549,425 554,424 555,424C557,425 558,428 558,430C557,431 554,433 552,433C550,434 548,432 547,431C547,430 546,428 547,426Z"/>
<path fill="#2f78b5" d="M524,408C525,407 527,407 528,408C529,409 529,413 529,414C529,415 526,415 526,414C525,413 524,409 524,408Z"/>
<path fill="#2f78b5" d="M657,318C658,318 661,318 661,318C662,318 662,320 661,320C661,321 658,321 657,320C656,320 656,318 657,318Z"/>
<path fill="#c03538" d="M230,439C234,438 248,438 251,439C254,440 249,444 247,445C246,446 242,445 239,445C237,445 232,446 230,445C229,444 227,440 230,439Z"/>
<path fill="#c03538" d="M252,439C253,438 261,438 262,439C264,440 261,444 260,445C259,446 257,447 255,446C254,445 251,440 252,439Z"/>
<path fill="#c03538" d="M251,456C252,455 256,455 258,455C260,455 262,456 263,457C265,458 265,460 264,461C264,461 260,461 258,461C256,460 253,460 252,460C251,459 250,457 251,456Z"/>
<path fill="#c03538" d="M231,455C232,454 234,455 235,456C235,457 235,460 235,462C234,463 233,464 233,464C232,464 232,462 231,461C231,459 231,456 231,455Z"/>
<path fill="#c03538" d="M351,458C352,458 355,458 356,458C357,459 356,461 356,462C355,462 353,462 352,462C352,461 351,459 351,458Z"/>
<path fill="#c03538" d="M482,448C483,447 488,446 490,445C492,444 494,443 496,442C497,441 498,440 499,439C501,438 504,438 504,439C504,440 503,442 502,444C500,445 496,448 494,449C491,451 490,453 488,454C486,454 484,454 483,453C482,452 481,449 482,448Z"/>
<path fill="#c03538" d="M482,461C483,460 486,459 488,458C490,458 492,459 492,460C493,460 492,463 490,464C489,465 486,466 484,465C483,465 482,462 482,461Z"/>
<path fill="#c03538" d="M499,456C500,456 503,456 504,456C505,456 506,458 505,458C505,459 501,459 500,458C500,458 499,456 499,456Z"/>
<path fill="#c03538" d="M513,446C513,445 516,445 518,446C519,446 520,448 520,448C520,449 516,450 515,449C514,449 513,446 513,446Z"/>
<path fill="#2f78b5" d="M499,579C498,575 498,561 498,553C499,545 501,537 502,530C502,524 502,518 503,513C503,508 503,505 504,502C505,498 506,495 507,494C509,492 513,492 513,493C513,493 509,496 510,498C510,501 514,504 515,508C516,511 517,515 516,519C516,523 514,526 513,530C512,534 511,537 510,542C508,546 506,553 505,559C504,565 505,576 504,579C503,582 500,583 499,579Z"/>
<path fill="#2f78b5" d="M535,449C535,449 538,449 538,449C539,450 539,453 538,454C538,455 535,455 535,454C534,453 534,450 535,449Z"/>
<polygon fill="#2f78b5" points="546.1,448.1 549.6,449.3 547.3,450.4"/>
<path fill="#2f78b5" d="M473,463C474,463 478,463 479,463C480,463 480,465 479,465C478,466 475,466 474,465C473,465 472,463 473,463Z"/>
<path fill="#2f78b5" d="M456,460C457,459 460,460 461,461C461,461 461,463 461,463C460,463 457,464 456,463C455,462 455,460 456,460Z"/>
<path fill="#2f78b5" d="M1747,1392C1750,1390 1758,1391 1761,1392C1764,1393 1766,1397 1763,1399C1761,1400 1750,1401 1747,1400C1745,1399 1745,1393 1747,1392Z"/>
<path fill="#053061" d="M492,628C494,624 500,625 501,628C501,632 498,645 496,651C495,657 493,662 492,667C490,671 489,674 487,678C485,682 481,685 478,690C474,694 470,699 466,706C463,712 458,719 455,726C452,733 451,742 448,749C446,756 445,761 442,767C438,773 431,782 428,785C424,788 420,786 421,783C422,780 429,772 432,767C436,761 437,756 439,749C442,742 443,733 446,726C449,719 453,712 458,706C462,699 469,692 473,687C478,683 480,684 482,678C485,673 485,664 487,656C489,647 489,633 492,628Z"/>
<path fill="#67001f" d="M453,776C453,774 456,773 458,774C459,774 460,779 460,780C459,782 456,783 455,783C454,782 453,777 453,776Z"/>
<polygon fill="#053061" points="983.6,304.4 997.2,304.4 992.7,307.8"/>
<path fill="#67001f" d="M2050,524C2050,522 2054,522 2055,522C2057,523 2058,527 2058,528C2057,529 2055,530 2054,529C2053,529 2049,525 2050,524Z"/>
<path fill="#053061" d="M2047,503C2048,500 2051,503 2052,506C2053,508 2053,513 2053,517C2053,521 2051,527 2051,528C2050,530 2049,530 2048,526C2048,522 2047,507 2047,503Z"/>
<path fill="#053061" d="M2050,530C2050,528 2051,528 2052,530C2052,533 2052,542 2052,544C2051,546 2050,546 2050,544C2049,542 2049,533 2050,530Z"/>
<path fill="#67001f" d="M1210,694C1211,693 1213,693 1214,694C1216,695 1217,699 1217,701C1217,703 1214,704 1213,703C1212,703 1210,700 1210,699C1209,697 1209,695 1210,694Z"/>
<path fill="#67001f" d="M1800,603C1801,601 1808,594 1811,592C1814,590 1817,589 1818,590C1819,590 1820,592 1818,594C1816,596 1809,601 1806,603C1804,605 1803,606 1802,606C1801,606 1798,606 1800,603Z"/>
<path fill="#67001f" d="M1645,740C1646,738 1650,735 1652,735C1654,735 1655,738 1654,740C1654,741 1649,744 1647,744C1646,744 1644,741 1645,740Z"/>
<path fill="#67001f" d="M228,301C232,284 249,299 252,301C255,303 246,310 245,312C244,315 246,316 247,318C248,321 249,324 251,327C253,330 256,333 258,335C259,338 259,340 259,342C259,344 258,345 256,347C255,348 251,349 250,350C248,351 248,352 247,355C247,357 246,362 245,365C244,368 244,371 243,374C242,377 239,379 239,381C240,383 243,385 244,388C245,390 248,392 247,395C247,397 245,402 242,404C238,405 230,422 228,405C226,388 224,318 228,301Z"/>
<path fill="#67001f" d="M285,324C286,322 291,321 294,320C298,319 303,318 306,318C308,318 311,319 310,320C310,321 305,322 302,324C299,325 295,329 293,330C291,330 291,329 290,328C288,327 284,325 285,324Z"/>
<path fill="#67001f" d="M255,390C256,389 262,388 266,386C270,384 275,381 279,379C283,376 287,374 291,373C294,371 298,370 301,370C304,369 307,370 308,371C309,371 309,372 307,373C305,374 300,375 296,376C293,378 287,380 283,381C279,382 275,383 271,384C268,386 263,390 260,391C257,392 254,391 255,390Z"/>
<path fill="#67001f" d="M347,346C347,344 350,341 351,339C353,336 355,334 357,332C359,330 361,327 362,327C362,327 363,329 363,331C362,332 360,335 358,338C357,340 355,343 354,344C352,346 350,348 349,348C348,348 346,347 347,346Z"/>
<path fill="#67001f" d="M334,365C335,364 340,362 342,362C345,361 348,361 349,363C350,364 349,368 349,370C348,371 347,372 346,372C344,372 339,371 338,370C336,368 333,366 334,365Z"/>
<ellipse fill="#67001f" cx="399.1" cy="325.0" rx="5.1" ry="5.1"/>
<ellipse fill="#67001f" cx="385.4" cy="339.8" rx="3.4" ry="5.1"/>
<ellipse fill="#67001f" cx="370.6" cy="356.9" rx="3.2" ry="5.7"/>
<path fill="#67001f" d="M351,381C352,379 358,375 360,375C363,375 364,378 365,380C365,381 365,383 364,384C362,385 358,386 356,385C354,385 350,383 351,381Z"/>
<ellipse fill="#67001f" cx="392.3" cy="382.0" rx="4.0" ry="6.3" transform="rotate(-35 392.3 382.0)"/>
<ellipse fill="#67001f" cx="398.0" cy="346.6" rx="3.4" ry="3.4"/>
<path fill="#67001f" d="M409,312C410,311 414,309 416,309C419,309 422,311 424,312C426,314 427,315 429,317C431,319 435,321 437,323C439,324 440,326 439,327C439,329 435,332 433,332C432,332 430,329 429,327C427,325 426,322 424,320C422,318 420,317 417,316C415,315 412,315 410,315C409,314 408,313 409,312Z"/>
<ellipse fill="#67001f" cx="431.1" cy="360.3" rx="4.6" ry="4.6"/>
<ellipse fill="#67001f" cx="372.9" cy="400.3" rx="4.0" ry="5.1"/>
<ellipse fill="#67001f" cx="330.7" cy="409.4" rx="5.7" ry="2.9"/>
<ellipse fill="#67001f" cx="367.2" cy="421.9" rx="4.6" ry="3.4"/>
<path fill="#053061" d="M380,344C381,342 385,344 388,342C390,341 390,337 393,335C396,334 405,333 406,333C407,333 402,336 399,338C397,339 393,342 391,344C389,347 387,349 385,351C384,353 382,357 381,358C380,359 378,358 378,356C377,354 378,347 380,344Z"/>
<ellipse fill="#053061" cx="368.3" cy="370.6" rx="4.0" ry="5.1"/>
<ellipse fill="#053061" cx="352.4" cy="387.7" rx="5.7" ry="2.9"/>
<ellipse fill="#053061" cx="323.8" cy="415.1" rx="4.6" ry="2.9"/>
<ellipse fill="#053061" cx="415.1" cy="404.8" rx="4.0" ry="5.7" transform="rotate(30 415.1 404.8)"/>
<ellipse fill="#053061" cx="360.3" cy="429.9" rx="3.4" ry="4.6"/>
<ellipse fill="#053061" cx="445.9" cy="321.5" rx="1.4" ry="6.8"/>
<path fill="#67001f" d="M584,384C586,382 592,375 598,371C603,366 610,359 616,355C621,350 628,346 632,342C636,338 638,333 640,328C642,324 642,319 643,316C644,313 645,312 646,311C647,311 649,311 650,314C651,316 651,322 650,326C649,330 648,333 645,336C643,340 639,344 635,348C631,352 626,356 620,360C615,364 607,369 602,373C597,377 592,381 590,383C587,385 583,386 584,384Z"/>
<path fill="#67001f" d="M579,408C580,407 585,403 588,401C592,399 596,396 599,396C601,395 603,396 603,397C603,398 601,400 599,401C596,403 591,406 588,407C585,408 583,409 582,409C580,410 578,410 579,408Z"/>
<path fill="#67001f" d="M586,430C587,429 590,427 593,425C595,424 599,422 601,422C602,422 603,423 602,424C601,425 596,427 594,429C592,430 590,432 588,432C587,432 585,431 586,430Z"/>
<path fill="#67001f" d="M585,306C585,305 589,304 592,304C594,304 599,305 600,306C601,306 598,308 596,309C595,310 591,310 590,309C588,308 585,306 585,306Z"/>
<path fill="#67001f" d="M661,330C662,328 666,326 669,324C673,322 681,316 683,316C685,315 683,318 681,320C679,322 673,325 670,327C668,329 665,330 664,331C662,331 660,331 661,330Z"/>
<path fill="#67001f" d="M472,338C472,337 475,337 475,338C476,338 477,342 476,343C476,344 474,344 473,343C472,342 472,338 472,338Z"/>
<path fill="#67001f" d="M494,416C494,416 497,416 497,416C498,417 498,419 497,420C497,420 494,420 494,420C493,419 493,417 494,416Z"/>
<path fill="#053061" d="M575,382C575,380 578,377 582,374C585,371 589,366 593,363C597,359 601,356 604,354C608,351 611,347 612,347C614,346 615,347 613,349C612,351 608,354 604,357C601,360 596,364 593,367C589,371 586,375 584,377C581,380 578,382 577,383C575,384 574,384 575,382Z"/>
<path fill="#053061" d="M554,410C555,409 561,406 564,405C568,403 572,402 576,400C579,399 584,395 586,395C588,394 590,396 590,397C589,398 585,400 582,401C578,403 573,405 569,407C565,409 559,411 556,412C554,412 553,412 554,410Z"/>
<path fill="#053061" d="M579,428C579,427 584,424 586,423C588,422 591,421 592,421C593,421 593,422 592,423C591,424 587,427 585,428C583,428 579,428 579,428Z"/>
<path fill="#053061" d="M478,314C478,313 481,313 482,314C483,314 484,317 483,318C483,319 481,320 480,319C479,319 477,314 478,314Z"/>
<path fill="#053061" d="M496,310C496,309 499,310 500,311C502,313 505,317 505,319C506,322 504,325 504,326C503,327 503,327 502,325C501,323 499,319 498,317C497,315 496,311 496,310Z"/>
<path fill="#053061" d="M522,310C522,308 525,309 527,310C528,312 530,316 531,319C533,322 535,325 536,328C537,332 537,337 537,339C537,340 536,340 535,339C534,337 532,333 530,330C529,326 527,324 526,320C524,317 522,312 522,310Z"/>
<path fill="#053061" d="M465,344C465,343 467,343 468,344C470,345 473,349 473,350C473,351 470,352 468,351C467,350 465,346 465,344Z"/>
<path fill="#053061" d="M487,426C487,424 489,424 489,426C490,429 491,439 490,441C490,443 487,443 487,441C486,439 486,429 487,426Z"/>
<path fill="#053061" d="M527,409C527,409 529,408 529,409C529,410 529,414 529,415C529,416 527,415 527,414C526,413 526,410 527,409Z"/>
<ellipse fill="#053061" cx="553.0" cy="428.8" rx="5.1" ry="4.6"/>
<path fill="#053061" d="M324,449C324,448 328,445 331,445C333,444 337,447 338,448C338,449 337,452 335,453C334,453 330,452 328,452C326,451 323,450 324,449Z"/>
<path fill="#053061" d="M343,457C344,456 346,454 347,455C347,456 348,460 348,461C347,462 345,462 344,462C344,461 343,458 343,457Z"/>
<path fill="#053061" d="M441,469C442,467 447,465 449,463C452,461 457,459 458,460C459,460 460,463 458,465C456,467 451,469 448,470C446,471 445,472 444,472C442,472 440,470 441,469Z"/>
<path fill="#67001f" d="M255,456C256,456 258,456 259,456C260,456 260,458 260,458C260,459 257,459 256,458C256,458 255,456 255,456Z"/>
<path fill="#67001f" d="M484,449C485,448 489,446 490,446C492,445 493,445 494,446C494,447 493,449 492,450C492,452 489,453 488,454C487,454 485,453 484,453C484,452 484,450 484,449Z"/>
<path fill="#67001f" d="M483,462C484,461 487,460 488,461C489,461 490,462 490,463C490,464 488,465 487,465C486,465 484,465 483,464C483,464 483,462 483,462Z"/>
<path fill="#053061" d="M506,503C507,500 507,501 508,502C510,503 512,507 513,510C514,513 515,515 514,519C514,522 512,527 511,530C510,534 509,538 508,538C508,538 507,534 506,530C506,527 505,523 505,519C505,514 506,506 506,503Z"/>
<path fill="#053061" d="M482,441C483,440 487,439 488,439C489,439 491,440 490,441C489,442 485,446 483,446C482,446 481,442 482,441Z"/>
<path fill="#053061" d="M515,441C516,441 518,441 519,441C519,442 519,443 519,444C518,444 516,444 515,444C515,443 515,442 515,441Z"/>
<path fill="#053061" d="M1750,1394C1751,1393 1757,1393 1759,1394C1761,1395 1762,1398 1761,1399C1760,1399 1754,1399 1752,1399C1750,1398 1749,1395 1750,1394Z"/>
<g fill="none" stroke="#000" stroke-width="2.8" stroke-linejoin="round" stroke-linecap="round"><polyline points="228.0,414.9 259.0,432.2 433.9,517.1 433.9,548.8 445.0,549.3 453.7,553.8 483.5,563.2 487.2,573.6 500.8,584.8 510.7,589.0 523.1,590.5 535.5,588.5 544.2,586.0 557.9,594.7 570.3,603.9 580.2,607.8 600.0,610.3 622.3,613.3 637.2,619.5 650.9,626.2 652.1,648.0 655.8,659.9 647.1,670.3 641.0,681.5 649.6,688.9 664.5,695.6 700.0,690.6 729.8,684.4 759.5,682.4 771.9,678.7 794.2,675.7 829.0,670.7 861.2,664.8 915.8,658.3 925.7,655.9 980.3,618.7 1029.9,585.2 1079.5,552.9 1096.8,541.3 1134.0,523.2 1150.0,516.3 1239.3,473.6 1259.1,465.7 1333.5,430.2 1365.8,414.6 1412.9,393.8 1432.7,385.6 1469.9,367.5 1512.1,350.3 1546.8,333.5 1580.3,319.8"/><polyline points="1580.3,319.8 1576.6,311.2 1569.1,301.0"/><polyline points="1580.3,319.8 1591.5,321.1 1616.3,324.8 1645.6,329.7 1682.1,335.4 1736.9,345.6 1755.1,353.6 1778.0,366.2 1793.9,375.3 1808.8,387.4 1819.0,390.6 1851.0,377.6 1892.0,365.0 1902.3,363.4 1933.1,349.0 1965.0,334.2 2011.8,321.7 2061.0,340.2"/><polyline points="1902.3,363.4 1914.9,411.8 1921.7,441.5 1924.0,468.8 1921.7,487.1 1928.5,490.5 1942.2,503.1 1955.9,519.0 1966.2,530.4 1961.6,537.3 1967.3,547.5 1985.6,562.4 2001.6,577.2 2005.7,585.2 1987.9,603.4 1978.7,616.0 1977.3,634.8 1972.6,662.7 1968.9,684.9 1967.1,712.7 1963.4,731.3 1962.4,768.4 1958.7,801.8 1956.9,842.6 1954.5,866.7 1941.1,875.9 1918.8,892.6 1896.6,911.2 1883.6,922.3 1866.9,937.1 1846.2,953.9 1830.6,968.6 1813.2,985.1 1801.0,1000.8 1787.2,1012.9 1778.5,1025.1 1769.8,1045.9 1758.5,1063.3 1749.0,1064.7 1742.0,1071.9 1741.1,1078.9 1743.8,1091.0 1749.8,1102.3 1748.1,1106.7"/><polyline points="1724.7,1131.0 1725.5,1129.9 1710.7,1143.5 1692.4,1144.0 1678.7,1148.1 1662.8,1159.5 1652.5,1162.9 1643.4,1168.6 1640.0,1175.5 1630.8,1181.2 1620.6,1181.9 1603.4,1178.9 1589.8,1176.6 1569.2,1169.8 1539.6,1161.8 1519.0,1158.4 1491.6,1156.1 1464.3,1157.7 1441.5,1159.1 1431.2,1161.8 1409.5,1163.6 1386.7,1167.5 1369.6,1175.0 1354.8,1186.9 1345.6,1193.3 1331.9,1205.1 1309.1,1203.3 1276.7,1202.7 1256.1,1200.9 1244.7,1199.1 1235.6,1196.4 1218.5,1185.4 1208.2,1183.8 1190.0,1173.5 1171.7,1164.9 1155.7,1161.7 1139.8,1160.3 1121.5,1167.8 1101.0,1176.5 1080.4,1178.1 1059.9,1185.4 1043.9,1180.4 1030.2,1176.3 1018.8,1162.1 1009.7,1153.0 996.0,1142.7 980.0,1134.3 957.2,1133.6 936.7,1125.6 918.4,1119.9 897.9,1114.7 886.5,1116.0 877.4,1119.9 870.5,1126.8 849.6,1126.8 837.6,1125.6 828.0,1124.4 816.0,1124.6 804.0,1126.2 794.4,1127.4 783.6,1129.2 775.2,1133.4 768.0,1141.2 759.6,1146.6 750.6,1150.8 748.2,1156.8 745.8,1183.2 742.8,1189.2 735.6,1198.8 723.6,1212.0 710.4,1220.4 697.2,1225.8 696.0,1245.6 694.8,1275.6 696.6,1284.0 699.2,1291.7 690.5,1293.7 687.0,1305.6 683.5,1316.5 681.5,1328.5 689.0,1335.4 696.9,1340.4 703.4,1346.3 706.3,1355.2 708.8,1362.2 709.3,1370.6 714.8,1376.1 718.7,1385.0 712.8,1401.0"/><polyline points="690.5,1293.7 684.1,1288.1 675.4,1281.7 666.7,1279.4 655.6,1273.8 641.3,1259.5 628.6,1249.2 613.5,1238.1 603.2,1238.1 595.2,1244.4 574.6,1247.6 564.3,1249.2 564.3,1257.9 568.3,1264.3 569.8,1271.4 561.9,1274.6 550.0,1265.9 539.7,1254.8 530.2,1245.2 527.8,1237.8 547.3,1236.2 546.0,1227.8 543.7,1219.0 534.9,1214.3 525.4,1210.3 515.1,1212.7 507.9,1219.0 497.6,1220.2 475.4,1218.6 463.7,1210.6 446.2,1199.7 424.4,1186.6 414.6,1184.4 414.6,1161.0 438.6,1159.3 438.6,1155.4 426.6,1153.8 413.5,1141.8 384.0,1130.9 373.1,1129.8 370.9,1120.0 363.3,1115.6 354.6,1106.9 349.1,1093.8 349.1,1085.1 346.9,1076.4 337.1,1072.0 330.6,1065.5 327.3,1057.8 330.6,1048.0 334.9,1025.7"/><polyline points="561.9,1274.6 562.7,1283.3 555.6,1292.9 546.0,1302.4 534.9,1310.3 525.4,1315.9 519.0,1318.6 508.7,1317.0 498.4,1318.6 488.1,1321.4 468.3,1315.1 457.1,1317.0 442.9,1329.4 433.3,1333.3 427.8,1340.5 420.6,1346.8 404.7,1354.6 372.0,1354.6 366.6,1358.9 358.9,1352.4 338.2,1348.0 319.6,1348.0 312.0,1346.9 288.0,1340.4 267.3,1344.8 252.0,1353.5 243.3,1361.1 235.6,1354.6 227.0,1354.6"/><polyline points="404.7,1354.6 402.6,1364.4 394.9,1378.6 391.6,1390.6 391.6,1401.0"/><polyline points="312.0,1346.9 306.6,1364.4 301.1,1378.6 306.6,1385.1 315.3,1388.4 329.5,1401.0"/><polyline points="759.5,682.4 760.4,858.2 743.1,864.8 742.1,913.8 733.6,928.9 723.3,961.9 714.8,967.6 705.4,970.4 686.5,982.1 685.0,993.0 564.0,993.0 532.0,994.9 445.2,1001.5 428.3,1013.7 413.2,1023.7 391.6,1025.7 334.9,1025.7 303.3,1022.3 293.5,1018.5 282.5,1018.1 271.6,1021.2 260.7,1016.4 241.1,1016.4 227.0,1019.2"/><polyline points="1816.7,1231.7 1816.1,1240.0 1828.0,1240.8 1845.8,1243.8 1854.8,1249.7 1863.7,1257.1 1865.9,1264.6 1864.4,1275.0 1856.3,1296.6 1860.7,1304.0 1857.7,1311.5 1848.8,1314.4 1836.9,1319.6 1810.1,1331.5 1799.7,1330.1 1789.3,1332.3 1783.3,1340.5 1769.9,1353.1 1762.5,1357.6 1755.1,1368.8 1749.1,1379.9 1745.4,1401.0"/><polyline points="1857.7,1199.1 1857.7,1208.8 1868.2,1213.2 1880.8,1217.7 1885.3,1225.9 1886.0,1233.3 1893.5,1239.3 1890.5,1255.7 1893.5,1263.8 1902.4,1268.3 1907.6,1276.5 1912.8,1297.3 1915.0,1308.5 1906.8,1323.4 1906.1,1340.5 1908.3,1353.9 1912.1,1364.3 1912.1,1373.2 1917.3,1388.1 1926.9,1401.0"/></g><g fill="none" stroke="#000" stroke-width="1.6" stroke-linejoin="round"><polyline points="1748.1,1106.7 1754.2,1106.3 1758.5,1108.4 1761.1,1112.7 1771.5,1115.3 1778.5,1122.3 1781.1,1129.2 1781.1,1134.4 1775.0,1141.4 1769.8,1146.6 1771.5,1151.8 1780.2,1160.5 1790.6,1162.2 1795.0,1154.4 1805.4,1154.4 1812.3,1149.2 1819.3,1147.5 1815.8,1153.5 1816.7,1160.5 1819.3,1164.8 1812.3,1167.4 1819.3,1173.5 1823.6,1175.2 1835.8,1172.6 1844.4,1167.4 1858.3,1166.6 1874.0,1170.0 1890.4,1172.6 1892.2,1182.2 1908.7,1183.1 1920.8,1185.7 1923.4,1190.0 1917.4,1192.6 1900.0,1195.2 1875.7,1198.7 1857.7,1199.1 1854.9,1198.7 1851.4,1202.2 1846.2,1214.3 1837.5,1216.0 1825.3,1214.3 1818.4,1216.9 1821.9,1222.1 1816.7,1231.7"/><polyline points="1748.1,1106.7 1740.3,1111.0 1726.4,1111.9 1714.2,1117.1 1716.0,1122.3 1722.9,1126.6 1725.5,1129.2 1724.7,1131.0 1727.3,1139.7 1729.9,1153.5 1743.8,1164.0 1754.2,1173.5 1756.8,1179.6 1768.1,1181.3 1771.5,1182.2 1784.5,1177.0 1776.7,1186.5 1775.0,1193.5 1778.5,1205.6 1779.3,1216.0 1788.9,1221.3 1794.1,1229.1 1801.0,1230.8 1809.7,1226.5 1815.8,1230.8 1816.7,1231.7"/></g>
</g>
<rect x="228.8" y="301.8" width="1831.1" height="1098.6" fill="none" stroke="#555" stroke-width="1.8"/>
<g stroke="#444" stroke-width="1.6"><line x1="310.0" y1="1400" x2="310.0" y2="1435"/><line x1="522.2" y1="1400" x2="522.2" y2="1435"/><line x1="734.5" y1="1400" x2="734.5" y2="1435"/><line x1="946.8" y1="1400" x2="946.8" y2="1435"/><line x1="1159.0" y1="1400" x2="1159.0" y2="1435"/><line x1="1371.2" y1="1400" x2="1371.2" y2="1435"/><line x1="1583.5" y1="1400" x2="1583.5" y2="1435"/><line x1="1795.8" y1="1400" x2="1795.8" y2="1435"/><line x1="2008.0" y1="1400" x2="2008.0" y2="1435"/><line x1="194" y1="444.1" x2="228" y2="444.1"/><line x1="194" y1="609.5" x2="228" y2="609.5"/><line x1="194" y1="775.0" x2="228" y2="775.0"/><line x1="194" y1="940.4" x2="228" y2="940.4"/><line x1="194" y1="1105.9" x2="228" y2="1105.9"/><line x1="194" y1="1271.3" x2="228" y2="1271.3"/></g>
<g font-family="Liberation Sans, Arial, sans-serif" font-size="20.5" fill="#000"><text x="310.0" y="1464" text-anchor="middle">0°</text><text x="522.2" y="1464" text-anchor="middle">2°E</text><text x="734.5" y="1464" text-anchor="middle">4°E</text><text x="946.8" y="1464" text-anchor="middle">6°E</text><text x="1159.0" y="1464" text-anchor="middle">8°E</text><text x="1371.2" y="1464" text-anchor="middle">10°E</text><text x="1583.5" y="1464" text-anchor="middle">12°E</text><text x="1795.8" y="1464" text-anchor="middle">14°E</text><text x="2008.0" y="1464" text-anchor="middle">16°E</text><text x="184" y="452.3" text-anchor="end">22°N</text><text x="184" y="617.7" text-anchor="end">20°N</text><text x="184" y="783.2" text-anchor="end">18°N</text><text x="184" y="948.6" text-anchor="end">16°N</text><text x="184" y="1114.1" text-anchor="end">14°N</text><text x="184" y="1279.5" text-anchor="end">12°N</text></g>
<text x="662.4" y="291.5" textLength="968" lengthAdjust="spacingAndGlyphs" font-family="Liberation Sans, Arial, sans-serif" font-weight="bold" font-size="44.5" xml:space="preserve">Vverticale (Pa/s), 500hPa, VT : 20171016  06:00</text>
<g><rect x="322.3" y="1483" width="205.5" height="14" fill="#67001f" stroke="#333" stroke-width="1"/><rect x="527.8" y="1483" width="205.5" height="14" fill="#c03538" stroke="#333" stroke-width="1"/><rect x="733.3" y="1483" width="205.5" height="14" fill="#ef9b7a" stroke="#333" stroke-width="1"/><rect x="938.8" y="1483" width="205.5" height="14" fill="#fbe2d4" stroke="#333" stroke-width="1"/><rect x="1144.3" y="1483" width="205.5" height="14" fill="#dbe9f1" stroke="#333" stroke-width="1"/><rect x="1349.8" y="1483" width="205.5" height="14" fill="#87beda" stroke="#333" stroke-width="1"/><rect x="1555.3" y="1483" width="205.5" height="14" fill="#2f78b5" stroke="#333" stroke-width="1"/><rect x="1760.8" y="1483" width="205.5" height="14" fill="#053061" stroke="#333" stroke-width="1"/></g>
<g font-family="Liberation Sans, Arial, sans-serif" font-weight="bold" font-size="25.5" text-anchor="middle"><text x="527.8" y="1520">-0.3</text><text x="733.3" y="1520">-0.2</text><text x="938.8" y="1520">-0.1</text><text x="1144.3" y="1520">0</text><text x="1349.8" y="1520">0.1</text><text x="1555.3" y="1520">0.2</text><text x="1760.8" y="1520">0.3</text></g>
</svg>
</body></html>
